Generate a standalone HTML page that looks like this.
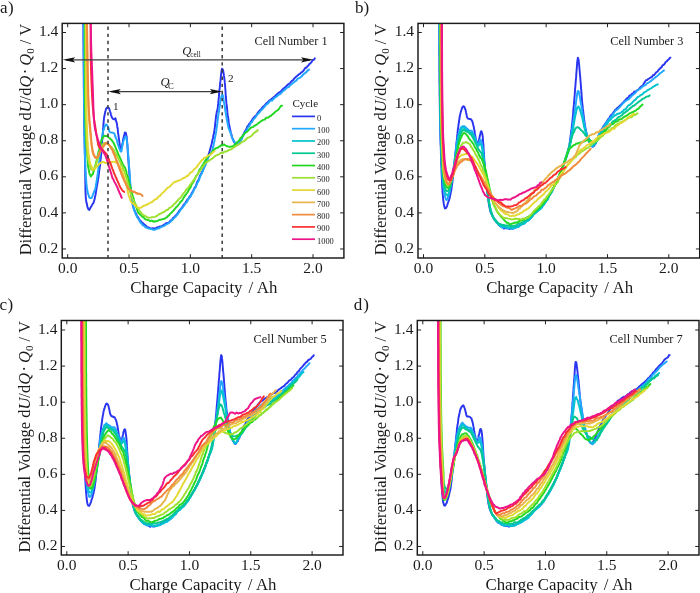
<!DOCTYPE html><html><head><meta charset="utf-8"><style>html,body{margin:0;padding:0;background:#fff;overflow:hidden}svg{display:block;position:absolute;left:0;top:0} #tx{filter:grayscale(1)} text{font-family:"Liberation Serif", serif;fill:#1a1a1a} .tl{font-size:15.5px} .al{font-size:16.5px} .cl{font-size:12.3px} .yl{font-size:16.5px} .pl{font-size:17px} .lg{font-size:8.4px} .lt{font-size:11px} .qq{font-size:12.5px} .nn{font-size:11.2px}</style></head><body>
<svg width="700" height="593" viewBox="0 0 700 593">
<rect width="700" height="593" fill="#fff"/>
<clipPath id="clipa"><rect x="62.2" y="23.0" width="281.7" height="235.0"/></clipPath>
<g clip-path="url(#clipa)" fill="none" stroke-width="1.95" stroke-linejoin="round" stroke-linecap="round">
<path d="M83.3,20.0 83.3,22.7 83.3,24.5 83.3,25.0 83.3,26.9 83.4,28.1 83.4,30.3 83.4,31.6 83.4,33.9 83.4,36.8 83.4,38.2 83.4,40.6 83.5,43.2 83.5,45.1 83.5,47.9 83.5,49.4 83.5,52.2 83.6,54.7 83.6,57.5 83.6,60.0 83.6,62.9 83.6,64.8 83.7,68.3 83.7,71.6 83.7,74.3 83.8,76.9 83.8,80.5 83.8,83.0 83.8,86.8 83.9,89.6 83.9,93.8 83.9,96.0 84.0,99.6 84.0,103.2 84.0,106.1 84.1,108.7 84.1,111.3 84.1,114.9 84.2,117.2 84.2,120.1 84.2,122.9 84.3,124.4 84.3,127.2 84.4,129.3 84.4,131.4 84.4,134.1 84.5,135.9 84.5,137.5 84.6,139.8 84.6,141.3 84.6,143.7 84.7,145.4 84.7,146.9 84.8,150.1 84.8,150.9 84.8,153.1 84.9,155.3 84.9,157.1 85.0,158.1 85.0,160.6 85.0,162.3 85.1,164.1 85.1,165.3 85.1,167.9 85.2,169.4 85.2,171.2 85.2,173.5 85.2,175.2 85.3,177.2 85.3,178.7 85.3,181.3 85.3,182.4 85.4,184.4 85.4,185.7 85.4,186.8 85.4,189.0 85.5,190.0 85.5,191.4 85.6,193.9 85.7,195.8 85.8,197.6 85.9,199.3 86.1,200.4 86.3,201.6 86.6,203.2 87.0,204.2 87.3,206.7 87.7,207.3 88.2,209.0 89.3,209.9 90.2,208.3 90.9,207.0 91.6,205.9 92.5,204.1 93.2,203.4 93.8,202.0 94.3,200.2 94.7,198.8 95.0,196.6 95.4,195.5 95.8,193.0 96.2,190.5 96.6,188.2 97.0,185.7 97.4,183.5 97.8,181.5 98.1,179.1 98.5,176.8 98.8,174.4 99.0,172.8 99.3,170.1 99.6,168.6 99.8,166.7 100.1,165.2 100.3,163.3 100.5,160.3 100.7,158.3 100.9,156.8 101.1,155.4 101.2,153.1 101.4,151.3 101.5,149.5 101.7,148.2 101.8,146.6 101.9,144.3 102.1,142.7 102.2,140.5 102.4,138.8 102.5,137.4 102.7,135.5 102.8,133.0 103.0,131.0 103.1,128.9 103.3,127.0 103.4,124.5 103.6,123.1 103.7,121.2 103.9,119.6 104.0,117.9 104.3,116.8 104.5,115.5 104.9,113.8 105.2,111.8 105.6,110.6 106.0,109.2 106.5,108.2 107.3,107.4 108.4,107.9 109.0,108.2 109.6,110.0 110.1,111.5 110.5,112.6 110.9,114.4 111.3,115.9 111.8,117.0 112.4,118.2 113.2,119.1 114.3,119.4 115.4,118.3 115.9,120.3 116.3,121.9 116.6,122.2 117.0,124.5 117.2,126.2 117.4,127.6 117.7,128.6 117.9,131.3 118.2,133.6 118.4,134.8 118.6,136.6 118.9,138.4 119.1,139.8 119.4,142.3 119.7,144.3 119.9,145.9 120.2,146.9 120.6,149.1 121.4,147.7 121.8,147.3 122.1,145.5 122.4,143.7 122.7,142.9 122.9,141.4 123.1,139.6 123.4,138.2 123.7,137.4 124.1,135.4 124.5,134.2 124.9,132.5 125.7,132.6 126.1,134.3 126.3,135.3 126.7,136.6 126.8,138.3 127.0,139.9 127.1,141.5 127.2,142.9 127.4,145.2 127.6,147.8 127.7,149.2 127.7,150.0 127.8,152.0 127.9,153.4 128.0,155.1 128.1,155.6 128.2,156.9 128.3,159.3 128.4,160.6 128.5,162.0 128.6,163.3 128.7,164.4 128.8,166.4 129.0,168.1 129.2,170.7 129.3,173.1 129.5,176.4 129.7,178.5 129.9,180.9 130.1,184.0 130.3,186.0 130.5,188.2 130.7,190.3 130.9,192.5 131.1,193.8 131.4,196.1 131.6,197.8 131.8,199.6 132.1,201.0 132.4,202.5 132.7,204.9 133.0,206.0 133.4,207.2 133.8,208.8 134.3,209.7 134.8,211.2 135.3,212.5 136.2,213.9 137.1,216.3 138.0,217.2 138.9,218.8 139.8,220.2 140.8,221.1 141.7,222.4 142.7,222.8 143.7,224.0 145.0,225.0 146.3,226.3 147.6,227.5 148.9,227.5 150.2,228.4 151.5,228.5 152.9,228.3 154.3,228.5 155.7,228.1 157.2,227.3 158.8,227.1 160.0,226.4 161.4,226.4 162.8,225.6 164.3,224.7 165.8,223.5 167.2,223.0 168.5,223.1 169.6,221.6 170.7,220.4 171.9,220.0 173.0,218.0 174.1,217.2 175.3,215.9 176.3,215.0 177.2,214.0 178.2,212.4 179.1,210.9 180.1,209.8 180.9,208.9 181.8,207.9 182.8,206.1 183.9,204.7 185.0,203.3 186.2,201.6 187.3,199.6 188.5,198.8 189.6,196.4 190.6,195.8 191.6,193.5 192.5,192.0 193.4,190.5 194.3,188.4 195.1,187.0 196.0,185.8 196.8,183.0 197.6,181.2 198.4,180.1 199.1,178.5 199.9,176.0 200.6,174.7 201.3,173.5 201.9,171.9 202.6,171.2 203.2,169.7 203.8,167.4 204.4,166.7 205.0,164.8 205.6,163.5 206.2,161.6 206.8,160.1 207.3,158.3 207.9,157.0 208.4,154.8 209.0,153.5 209.5,151.5 210.0,150.2 210.4,148.3 210.9,146.7 211.3,145.4 211.7,143.6 212.1,142.1 212.4,140.2 212.7,139.0 213.0,138.0 213.3,135.8 213.6,134.5 213.9,133.8 214.2,131.4 214.4,130.4 214.7,128.8 214.9,126.9 215.1,124.7 215.3,122.9 215.6,120.8 215.7,119.7 215.9,117.5 216.1,115.9 216.3,114.7 216.6,113.2 216.8,111.6 217.1,110.9 217.4,109.6 217.8,107.6 218.0,105.2 218.2,103.9 218.3,102.5 218.5,100.4 218.7,98.8 218.9,96.9 219.0,94.4 219.2,93.1 219.4,90.6 219.6,88.7 219.8,87.6 220.0,84.7 220.2,82.5 220.5,80.9 220.7,78.6 220.9,75.8 221.1,74.1 221.4,72.1 221.6,70.5 222.0,68.7 222.8,69.4 223.2,71.0 223.5,72.6 223.7,73.9 223.9,75.7 224.2,77.0 224.4,79.3 224.6,80.4 224.8,82.7 225.0,84.2 225.1,85.9 225.3,88.8 225.5,91.1 225.6,93.7 225.8,96.5 226.0,98.0 226.2,100.8 226.4,103.4 226.7,105.5 226.9,106.9 227.2,109.7 227.4,112.4 227.7,115.2 228.0,116.7 228.3,118.4 228.6,121.1 228.9,123.7 229.3,125.5 229.6,126.9 230.0,128.6 230.3,130.1 230.7,132.2 231.1,133.6 231.5,134.6 231.9,136.4 232.4,138.2 233.0,139.2 233.5,140.9 234.3,142.4 235.0,143.4 236.1,144.5 237.4,145.0 238.5,143.2 239.4,142.4 240.3,140.7 241.0,139.7 241.8,138.2 242.6,136.5 243.1,134.8 243.7,134.0 244.3,132.8 244.9,131.2 245.5,130.6 246.4,129.1 247.4,126.4 248.4,125.3 249.4,123.5 250.1,123.1 250.9,121.7 251.8,120.6 252.7,118.7 253.7,117.8 254.8,116.3 256.1,115.6 257.3,113.6 258.7,111.6 260.0,110.0 261.4,108.9 262.8,106.9 264.2,105.8 265.5,104.3 266.8,103.0 268.1,102.0 269.4,100.5 270.8,99.5 272.1,98.7 273.4,97.4 274.6,96.7 275.9,95.2 277.2,94.1 278.6,92.8 279.9,92.0 281.2,91.1 282.5,89.4 283.8,88.3 285.2,87.4 286.5,86.0 287.8,84.6 289.1,83.8 290.4,82.6 291.6,81.1 292.8,80.3 294.0,78.8 295.2,77.6 296.4,76.6 297.6,75.4 298.8,74.4 299.9,73.9 301.0,72.7 302.0,72.1 303.3,71.0 304.4,69.3 305.4,67.7 306.4,67.8 307.4,66.4 308.4,65.5 309.5,63.9 310.5,63.2 311.5,62.1 312.5,60.4 313.5,59.9 314.4,59.2 314.8,58.3" stroke="#2a35f0"/>
<path d="M83.8,20.0 83.8,22.1 83.8,25.2 83.8,27.5 83.8,31.5 83.8,35.7 83.8,39.0 83.8,43.0 83.8,47.8 83.8,52.0 83.8,57.0 83.9,61.7 83.9,66.7 83.9,71.2 83.9,75.4 83.9,80.2 83.9,84.4 83.9,88.7 84.0,92.8 84.0,96.1 84.0,100.1 84.0,103.0 84.1,106.4 84.1,109.0 84.1,112.1 84.1,114.9 84.2,117.7 84.2,120.9 84.2,123.0 84.3,126.1 84.3,127.8 84.4,130.5 84.4,132.4 84.4,135.2 84.5,136.9 84.5,139.3 84.6,142.0 84.6,143.5 84.7,145.8 84.7,148.7 84.8,150.6 84.9,152.4 84.9,153.9 85.0,155.8 85.0,158.0 85.1,159.5 85.2,161.9 85.2,162.8 85.3,164.9 85.4,166.1 85.4,168.2 85.5,170.0 85.6,170.9 85.7,173.2 85.8,174.2 85.8,175.8 85.9,177.1 86.0,178.0 86.2,180.3 86.4,183.4 86.6,185.1 86.9,187.7 87.1,188.4 87.3,190.3 87.6,191.7 88.0,193.7 88.4,194.6 88.8,195.7 89.3,197.6 90.3,198.1 91.5,198.1 92.3,196.4 92.9,194.8 93.4,193.1 93.9,192.6 94.4,190.8 94.9,189.5 95.3,188.2 95.7,186.7 96.0,184.5 96.3,182.9 96.5,181.8 96.7,180.8 97.0,178.8 97.3,177.3 97.5,174.8 97.8,173.8 98.0,170.6 98.3,169.8 98.6,166.7 98.8,164.5 99.1,162.6 99.3,160.9 99.4,159.2 99.5,158.4 99.7,156.8 99.8,155.2 100.0,154.2 100.1,153.2 100.4,150.4 100.6,148.1 100.9,145.8 101.1,143.6 101.3,142.5 101.5,141.0 101.7,139.1 101.9,138.7 102.2,136.0 102.5,135.1 102.8,133.1 103.1,131.0 103.5,130.0 104.0,129.0 104.4,127.2 105.1,125.6 105.8,124.5 106.9,124.9 107.5,126.1 108.1,127.0 108.6,128.3 109.0,130.4 109.5,131.6 110.2,132.3 111.3,132.5 112.7,132.7 113.9,133.1 114.7,134.2 115.3,136.7 115.8,137.2 116.2,138.8 116.6,139.3 117.2,141.8 117.7,143.8 118.2,145.4 118.8,146.7 119.2,148.2 119.7,149.5 120.3,151.0 121.2,151.6 121.7,150.3 121.9,148.5 122.2,146.7 122.5,144.8 122.8,144.2 123.2,141.9 123.6,140.7 124.0,139.5 124.5,138.3 125.2,136.8 126.1,136.9 126.5,138.1 126.7,139.5 126.9,141.3 127.1,142.6 127.3,144.5 127.5,146.5 127.7,148.8 127.9,150.7 128.1,153.6 128.3,156.0 128.4,157.9 128.5,159.2 128.7,160.8 128.9,163.9 129.1,166.0 129.3,169.2 129.5,171.1 129.7,173.5 129.8,175.4 129.8,176.5 129.9,177.9 130.0,178.6 130.2,181.7 130.4,184.4 130.6,187.7 130.9,188.6 131.1,191.1 131.4,193.3 131.6,195.5 131.9,197.4 132.2,199.4 132.4,201.4 132.7,203.1 133.1,205.0 133.4,205.9 133.8,208.8 134.2,209.8 134.6,211.3 135.1,212.3 135.6,214.0 136.4,215.5 137.2,217.3 138.0,218.5 138.9,219.8 139.8,221.6 140.7,222.8 141.7,223.8 142.7,225.3 143.7,225.6 145.0,226.8 146.3,227.6 147.6,228.1 148.9,228.6 150.2,228.7 151.5,229.1 152.9,229.7 154.3,229.8 155.7,229.3 157.2,228.7 158.8,228.3 160.0,227.7 161.4,226.9 162.8,226.4 164.3,225.8 165.8,224.7 167.2,224.0 168.5,223.3 169.6,222.5 171.0,221.3 172.2,220.0 173.3,219.0 174.4,217.8 175.6,216.8 176.5,215.5 177.5,214.5 178.5,213.2 179.4,211.8 180.5,209.9 181.4,208.8 182.3,208.0 183.4,206.4 184.5,205.1 185.6,202.9 186.8,202.3 187.9,199.8 189.0,197.8 190.1,197.2 191.1,195.3 192.0,193.8 193.0,192.3 193.8,190.0 194.7,188.2 195.6,187.6 196.4,185.3 197.2,183.4 198.0,181.9 198.8,180.6 199.5,178.4 200.2,176.7 201.0,174.7 201.7,173.9 202.3,172.1 203.0,170.5 203.6,168.9 204.2,167.8 204.8,165.9 205.4,165.4 205.9,163.8 206.6,161.9 207.2,160.1 207.7,159.3 208.2,157.5 208.9,156.3 209.5,154.7 210.3,154.2 211.2,153.2 211.9,151.2 212.4,150.7 212.7,148.6 213.1,146.8 213.5,145.9 213.9,143.1 214.3,142.0 214.6,139.9 215.0,137.5 215.4,135.5 215.8,133.7 216.1,132.1 216.4,129.9 216.7,127.5 217.0,125.7 217.3,123.7 217.5,121.4 217.8,119.4 218.1,116.8 218.3,114.5 218.6,113.3 218.9,111.7 219.2,110.1 219.5,107.4 219.9,105.0 220.2,102.6 220.5,100.3 220.9,98.5 221.2,97.4 221.5,96.2 222.0,94.9 222.7,94.9 223.1,96.5 223.4,98.1 223.6,99.7 223.8,101.6 224.1,103.0 224.4,104.8 224.7,106.1 225.0,108.1 225.3,110.6 225.7,112.5 226.0,114.5 226.4,116.9 226.8,119.3 227.2,121.2 227.6,123.4 228.0,125.6 228.4,127.3 228.8,128.7 229.3,129.4 229.8,131.5 230.3,132.0 230.7,133.4 231.2,134.8 231.9,137.3 232.6,138.6 233.2,140.5 234.0,140.7 234.7,142.3 235.8,143.6 237.0,143.9 238.3,142.9 239.2,142.8 240.1,141.0 241.0,140.2 241.8,138.8 242.6,136.7 243.4,135.3 244.3,133.7 245.2,132.6 246.1,131.0 247.1,129.4 248.0,127.4 249.0,126.4 250.1,124.6 250.9,122.7 251.8,122.1 252.7,120.7 253.7,118.9 254.8,118.2 256.1,116.3 257.3,114.5 258.7,113.3 260.0,111.6 261.4,109.9 262.8,108.8 264.2,107.0 265.5,105.5 266.8,104.1 268.1,103.6 269.4,101.5 270.8,100.4 272.1,100.7 273.4,99.0 274.6,97.8 275.9,97.0 277.2,96.1 278.6,94.5 279.9,94.2 281.2,93.0 282.5,91.6 283.9,90.4 285.3,89.4 286.6,87.9 287.9,87.3 289.2,86.6 290.5,84.8 291.6,84.3 292.8,83.0 293.8,82.5 294.8,81.5 296.3,80.6 297.7,78.6 299.0,78.3 300.2,77.5 301.5,76.5 302.8,75.0 304.1,73.6 305.4,73.0 306.6,71.8 307.6,70.2 308.7,70.4 308.9,69.5" stroke="#22a8ff"/>
<path d="M84.8,20.0 84.8,22.5 84.8,24.6 84.8,28.1 84.8,31.7 84.8,35.8 84.8,39.6 84.8,44.1 84.8,48.1 84.8,52.7 84.8,56.8 84.8,62.1 84.9,67.4 84.9,71.7 84.9,76.4 84.9,81.1 84.9,85.0 84.9,89.5 84.9,93.2 85.0,97.2 85.0,100.1 85.0,102.8 85.1,105.3 85.1,108.9 85.2,111.3 85.2,113.8 85.2,116.1 85.3,117.7 85.3,120.2 85.4,122.6 85.5,124.0 85.5,126.3 85.6,128.8 85.6,130.0 85.7,131.2 85.7,132.7 85.8,134.4 85.8,135.8 85.9,137.4 86.0,138.6 86.0,140.6 86.1,143.1 86.2,144.3 86.3,146.0 86.6,146.8 86.8,149.7 87.0,150.6 87.1,152.1 87.2,154.6 87.3,155.6 87.4,157.6 87.6,159.4 87.7,161.3 87.8,163.1 88.0,165.4 88.1,166.7 88.4,167.8 88.6,169.3 88.9,170.5 89.2,172.5 89.7,174.2 90.3,175.2 91.0,176.5 92.1,174.6 92.8,174.3 93.4,171.9 93.9,171.0 94.4,169.1 94.9,167.1 95.3,166.2 95.6,164.8 96.0,162.8 96.4,161.2 96.8,159.4 97.2,157.0 97.6,156.2 98.0,153.8 98.4,153.1 98.7,151.0 99.1,150.0 99.4,148.3 99.8,147.2 100.1,146.1 100.6,144.5 101.1,141.6 101.5,140.7 102.0,139.4 102.5,137.7 103.2,137.2 104.3,135.7 105.6,136.1 107.0,136.0 108.1,136.9 109.4,138.1 110.6,139.0 111.7,140.0 112.6,141.6 113.4,142.5 114.1,144.1 114.6,145.3 115.2,146.5 115.8,148.2 116.4,149.7 117.1,151.0 117.8,152.8 118.3,154.2 118.9,155.5 119.4,156.5 120.0,157.9 120.7,159.4 121.5,161.3 122.1,162.7 122.9,164.5 123.7,165.7 124.4,166.9 125.1,167.9 125.7,169.6 126.3,171.2 126.6,173.5 127.0,174.9 127.4,175.9 127.8,176.8 128.2,178.6 128.5,179.5 128.9,181.8 129.3,183.2 129.7,184.7 130.0,186.1 130.4,187.2 130.7,188.3 131.1,190.0 131.4,191.7 131.8,192.1 132.2,194.1 132.6,195.9 133.1,197.2 133.6,198.6 134.1,201.1 134.6,202.2 135.1,204.0 135.7,205.3 136.3,207.3 136.9,209.0 137.6,211.2 138.4,212.7 139.2,213.5 140.1,214.5 141.1,215.4 142.2,216.6 143.3,217.2 144.5,218.4 145.7,219.4 146.9,219.8 148.7,220.1 150.3,221.2 151.9,220.6 153.5,221.7 155.0,221.3 156.5,221.3 158.0,220.6 159.3,219.8 160.6,219.9 162.1,219.2 163.5,219.1 164.8,218.5 166.0,217.8 167.3,216.9 168.3,215.6 169.3,215.1 170.3,213.5 171.4,212.8 172.4,211.6 173.4,210.8 174.4,209.4 175.4,208.3 176.4,206.8 177.4,206.3 178.5,204.7 179.5,203.5 180.5,201.8 181.5,201.2 182.5,199.7 183.5,197.9 184.5,196.4 185.5,194.9 186.5,193.8 187.5,192.3 188.2,191.0 188.9,189.8 189.6,188.1 190.3,187.9 190.9,186.3 191.6,184.6 192.3,183.3 193.0,182.4 193.7,181.5 194.3,180.2 195.0,178.5 195.7,176.9 196.3,175.7 197.0,175.2 197.7,174.2 198.4,172.7 199.0,171.2 199.7,169.3 200.4,169.1 201.0,168.0 201.7,166.4 202.4,165.4 203.1,164.5 203.8,163.0 204.5,162.0 205.6,160.4 206.6,158.5 207.5,157.4 208.4,156.0 209.2,155.4 210.1,154.2 211.1,153.1 212.1,152.1 213.1,150.8 214.3,149.4 215.4,148.6 216.5,147.9 217.8,147.7 218.9,146.6 220.2,146.2 221.4,145.0 222.8,145.2 224.1,144.4 225.6,145.5 227.1,146.3 228.6,146.6 230.1,146.9 231.5,146.5 232.8,146.4 234.0,145.2 235.2,144.2 236.1,143.5 237.1,142.2 238.3,141.2 239.5,140.0 240.7,137.6 241.6,137.3 242.5,136.1 243.4,135.3 244.3,133.8 245.6,132.6 246.9,131.9 248.2,130.6 249.5,129.1 250.8,127.8 252.0,127.2 253.3,126.9 254.4,125.8 255.7,125.1 256.8,124.6 257.9,123.6 259.2,122.6 260.3,121.8 261.6,120.8 263.2,119.9 264.8,119.6 266.0,117.8 267.2,117.8 268.4,117.6 269.6,116.4 270.7,116.0 271.8,114.9 272.9,114.0 274.1,113.1 275.2,111.8 276.4,111.0 277.6,110.2 278.7,109.2 279.7,107.8 281.0,105.7 282.0,105.7" stroke="#22d822"/>
<path d="M85.5,20.0 85.5,21.9 85.5,25.0 85.5,28.4 85.5,32.1 85.5,35.2 85.5,39.3 85.6,43.4 85.6,47.7 85.6,52.5 85.6,56.9 85.6,62.3 85.6,66.8 85.6,72.0 85.6,76.1 85.7,80.3 85.7,85.3 85.7,89.1 85.7,92.8 85.8,96.9 85.8,99.7 85.8,103.3 85.9,106.2 85.9,109.4 85.9,111.1 86.0,114.3 86.0,116.8 86.1,119.7 86.1,122.0 86.2,124.6 86.2,126.7 86.3,128.6 86.3,131.1 86.4,133.8 86.4,134.4 86.5,136.9 86.5,138.2 86.6,140.0 86.7,142.1 86.7,143.3 86.8,145.0 86.9,146.4 86.9,148.0 87.1,149.9 87.2,152.1 87.4,153.4 87.6,155.1 87.9,156.6 88.1,158.3 88.4,159.7 88.7,161.3 89.0,162.6 89.2,163.8 89.6,165.2 90.1,166.9 90.6,168.4 91.4,169.4 92.5,170.1 93.6,170.1 94.3,168.2 94.9,166.9 95.4,166.1 96.0,163.9 96.6,162.5 97.0,160.7 97.5,159.7 97.9,158.9 98.4,156.6 98.8,155.2 99.3,154.0 99.8,152.2 100.2,151.0 100.7,149.5 101.1,148.6 101.5,147.0 102.1,145.6 102.9,144.3 103.9,143.3 105.2,143.1 106.5,143.4 107.8,143.7 109.0,144.7 110.2,146.4 111.2,146.6 112.2,148.2 113.2,149.3 114.0,150.3 114.8,152.4 115.6,152.7 116.4,155.1 117.2,156.0 118.0,157.6 118.6,159.1 119.2,160.4 119.8,161.4 120.4,162.8 121.0,165.0 121.6,164.8 122.2,166.3 122.8,168.2 123.4,169.4 124.0,170.7 124.6,171.3 125.2,173.8 125.6,175.0 126.0,176.4 126.4,178.1 126.8,179.6 127.2,181.3 127.6,182.5 128.0,183.9 128.4,186.0 128.8,187.5 129.2,188.8 129.6,190.6 129.9,191.5 130.5,193.0 131.1,194.5 131.6,196.4 132.3,198.5 133.0,200.1 133.8,200.8 134.7,203.4 135.7,204.2 136.7,206.5 137.7,208.2 138.6,209.4 139.5,210.6 140.2,211.7 141.1,212.6 142.0,214.1 142.9,214.8 144.0,215.5 145.2,216.0 146.6,216.8 148.0,217.7 149.4,217.6 150.8,217.6 152.1,217.1 153.7,217.1 155.0,216.9 156.3,216.2 157.9,215.4 159.2,214.0 160.7,213.6 162.2,212.7 163.7,212.2 165.1,211.0 166.6,210.0 167.9,209.7 169.1,208.2 170.3,207.6 171.5,206.8 172.7,205.7 173.9,204.2 175.1,203.4 176.3,202.0 177.5,200.8 178.7,199.2 180.0,198.2 181.2,196.8 182.4,195.0 183.6,193.2 184.4,192.3 185.3,191.1 186.1,189.8 186.9,189.1 187.8,188.2 188.6,187.2 189.4,186.0 190.2,184.6 190.9,183.9 192.0,182.4 193.1,180.7 194.1,179.7 195.1,178.1 196.0,177.0 197.0,174.8 198.0,173.6 199.0,171.7 200.0,170.9 201.1,169.2 202.1,167.2 203.1,166.6 204.1,164.5 205.1,163.7 206.1,162.5 207.4,161.7 208.7,160.9 210.0,160.0 211.1,159.2 212.3,158.7 213.5,157.4 214.7,156.4 216.0,155.5 217.4,154.8 218.7,154.6 220.0,153.4 221.3,152.7 222.6,153.2 223.9,152.1 225.3,151.4 226.6,151.4 228.0,150.6 229.5,149.6 231.0,149.5 232.6,148.3 234.2,147.1 235.8,146.2 237.5,144.8 239.1,144.2 240.7,143.2 241.8,141.9 242.9,141.6 244.0,141.2 245.1,140.1 246.2,139.4 247.3,137.9 248.8,137.3 250.2,136.7 251.6,135.7 252.9,134.3 254.2,132.7 255.3,132.3 256.3,131.3 257.4,131.0 257.6,130.0" stroke="#9ee030"/>
<path d="M86.0,20.0 86.0,22.3 86.0,24.9 86.0,27.8 86.0,31.6 86.0,35.3 86.0,39.6 86.0,43.6 86.1,48.3 86.1,52.4 86.1,57.7 86.1,62.6 86.1,66.7 86.1,71.9 86.1,77.0 86.2,80.6 86.2,84.5 86.2,89.0 86.2,93.1 86.3,97.1 86.3,99.6 86.3,102.8 86.4,105.5 86.4,108.2 86.5,110.9 86.5,113.5 86.6,116.0 86.6,117.6 86.7,119.9 86.7,121.8 86.8,123.8 86.9,125.7 86.9,127.4 87.0,129.5 87.1,130.8 87.1,132.2 87.2,133.8 87.3,135.2 87.3,137.5 87.4,138.8 87.5,139.6 87.6,141.5 87.7,143.2 87.8,144.3 87.9,146.9 88.1,148.7 88.3,151.2 88.5,153.1 88.7,154.6 88.9,156.6 89.2,157.6 89.4,159.2 89.6,160.9 90.0,162.5 90.3,163.8 90.8,165.1 91.5,166.6 92.1,168.0 92.9,169.5 94.2,169.4 95.3,168.4 96.2,167.3 97.1,166.1 98.0,165.4 98.9,164.2 99.9,163.3 101.0,162.7 102.3,162.1 103.8,162.0 105.0,163.0 106.3,162.9 107.6,163.0 108.9,163.1 110.2,162.3 111.6,162.0 113.1,161.9 114.5,161.8 115.8,162.2 117.0,163.2 118.1,164.0 119.1,166.5 119.9,166.6 120.6,167.7 121.3,169.0 121.9,171.2 122.5,172.4 123.0,173.4 123.6,175.6 124.2,177.4 124.7,179.8 125.1,180.7 125.5,182.0 125.9,183.6 126.3,185.1 126.7,186.7 127.0,187.8 127.4,189.2 127.8,191.8 128.2,193.0 128.6,195.2 128.9,196.1 129.5,197.7 130.0,198.8 130.5,200.7 131.3,201.9 132.2,203.0 133.3,203.8 134.6,204.9 135.7,206.1 136.9,206.6 138.2,207.8 139.4,208.3 140.0,207.8 141.3,207.6 142.6,206.6 144.1,205.5 145.6,205.3 147.0,204.6 148.4,203.6 149.8,203.4 151.1,202.2 152.5,201.8 153.8,200.5 155.2,199.2 156.5,199.1 157.9,197.5 158.9,196.2 159.9,196.1 160.9,194.7 161.9,193.6 162.9,192.6 163.9,191.8 165.0,190.6 166.0,189.7 167.0,188.1 168.0,187.6 169.0,187.2 170.0,186.5 171.4,184.8 172.7,183.6 174.0,182.3 175.4,181.7 176.8,181.3 178.1,180.6 179.5,180.3 180.8,179.8 182.2,178.9 183.5,178.0 184.9,177.7 186.2,176.3 187.5,176.0 188.9,174.7 189.9,173.4 190.9,172.2 192.0,171.9 193.0,170.8 194.0,169.2 195.0,168.5 196.0,167.7 197.0,166.7 198.0,164.7 199.0,164.0 200.0,162.5 201.0,161.2 202.1,159.8 203.1,159.5 204.4,157.6 205.8,157.4 207.2,156.2 208.2,155.4 209.4,155.1 210.6,154.4 211.8,153.4 212.9,152.3 214.1,151.5 214.5,151.3" stroke="#e4d832"/>
<path d="M86.7,20.0 86.7,21.5 86.8,23.6 86.8,26.0 86.8,28.6 86.9,31.7 86.9,34.8 86.9,37.5 87.0,41.1 87.0,44.5 87.1,48.0 87.1,52.0 87.2,55.4 87.2,58.8 87.3,62.9 87.3,66.0 87.4,69.6 87.4,71.3 87.5,74.5 87.5,77.6 87.6,79.9 87.6,82.5 87.7,84.6 87.7,86.5 87.8,88.4 87.8,90.0 87.8,91.8 87.9,93.5 87.9,94.6 88.0,96.0 88.0,97.7 88.1,98.6 88.1,100.6 88.2,103.0 88.3,106.0 88.4,107.7 88.5,110.0 88.6,111.4 88.7,114.1 88.8,115.2 88.9,116.9 89.0,118.7 89.1,120.4 89.3,121.8 89.4,123.5 89.6,125.3 89.8,127.3 90.0,129.7 90.1,130.8 90.2,131.9 90.3,134.1 90.5,134.8 90.6,136.4 90.7,137.9 90.9,139.8 91.0,141.3 91.1,142.0 91.3,143.4 91.6,146.0 91.9,148.3 92.2,150.0 92.5,151.6 92.9,153.2 93.4,154.7 94.0,155.9 94.8,157.0 96.0,157.8 97.2,157.6 98.0,155.8 98.6,154.6 99.2,153.1 99.8,152.0 100.6,150.9 101.5,149.5 102.3,147.8 103.1,146.3 104.0,145.4 104.8,144.5 105.7,143.4 107.0,143.5 108.1,144.3 109.1,145.0 110.1,146.4 110.9,147.7 111.6,148.4 112.4,150.0 113.0,151.6 113.5,152.9 114.1,153.8 114.7,155.3 115.2,157.3 115.8,158.6 116.4,160.5 117.0,161.4 117.5,163.0 118.1,164.3 118.7,166.0 119.2,167.7 119.8,169.1 120.4,170.9 120.9,171.8 121.5,173.5 122.1,175.6 122.7,176.1 123.2,177.9 123.8,178.5 124.4,180.3 124.9,181.8 125.5,182.6 126.2,184.5 127.0,185.9 127.7,186.9 128.5,188.9 129.3,189.2 130.5,190.4 131.9,191.0 133.2,192.0 134.6,191.8 135.9,192.7 137.1,193.9 138.0,194.0" stroke="#e8b44c"/>
<path d="M87.0,20.0 87.0,21.3 87.1,23.9 87.1,26.4 87.1,28.4 87.2,31.3 87.2,34.4 87.3,38.0 87.3,41.3 87.4,45.0 87.4,48.1 87.5,51.9 87.5,55.6 87.6,59.2 87.7,61.9 87.7,65.7 87.8,68.5 87.8,72.3 87.9,74.3 87.9,77.4 88.0,80.5 88.0,81.9 88.1,83.6 88.1,86.8 88.2,88.0 88.2,90.4 88.3,92.0 88.3,93.2 88.3,95.1 88.4,96.7 88.4,97.7 88.5,99.0 88.5,100.3 88.6,102.7 88.7,105.6 88.8,108.0 88.9,109.5 89.0,111.8 89.1,113.5 89.2,115.0 89.3,116.3 89.4,117.9 89.5,120.6 89.7,121.5 89.8,123.3 90.0,125.5 90.2,126.8 90.4,129.6 90.5,131.5 90.6,131.9 90.7,133.7 90.9,135.3 91.0,136.1 91.1,137.5 91.3,139.8 91.4,141.0 91.5,142.8 91.7,143.9 91.8,144.9 92.1,147.0 92.4,149.1 92.8,150.9 93.1,152.6 93.5,153.7 94.0,155.1 94.6,156.0 95.4,157.8 96.6,158.0 97.5,157.3 98.3,156.1 98.9,154.5 99.4,153.4 100.0,151.3 100.8,150.9 101.6,149.2 102.4,148.0 103.1,146.9 104.0,145.5 104.8,144.4 105.6,143.0 106.8,142.8 107.9,143.8 108.9,144.9 109.7,145.8 110.5,146.9 111.2,148.3 112.0,149.4 112.6,150.5 113.1,152.1 113.7,153.2 114.3,154.8 114.9,155.5 115.4,157.7 116.0,159.0 116.6,160.6 117.1,162.2 117.7,163.7 118.3,165.3 118.9,166.9 119.4,168.3 120.0,170.2 120.6,171.3 121.1,173.0 121.7,174.6 122.3,175.7 122.8,177.5 123.4,178.7 124.0,179.9 124.6,181.6 125.1,182.2 125.9,183.7 126.6,185.3 127.3,187.0 128.1,188.3 128.9,189.1 130.0,190.0 131.2,190.8 132.5,191.4 133.8,191.9 135.3,192.6 136.7,193.0 138.1,193.6 139.4,193.7 140.7,194.4 141.8,194.9 142.5,196.0" stroke="#f08a3c"/>
<path d="M90.6,20.0 90.6,22.6 90.6,24.4 90.6,25.3 90.6,27.3 90.6,29.3 90.6,31.9 90.6,33.8 90.6,35.3 90.6,37.6 90.6,40.5 90.6,43.1 90.6,45.1 90.7,47.0 90.7,49.2 90.7,51.4 90.7,53.6 90.7,56.1 90.8,57.7 90.8,59.5 90.8,62.2 90.9,63.6 90.9,65.4 91.0,68.1 91.0,69.5 91.1,72.1 91.1,73.6 91.2,74.6 91.3,76.4 91.3,79.3 91.4,80.7 91.5,82.5 91.5,84.2 91.6,85.4 91.7,87.3 91.8,89.2 91.8,90.3 91.9,91.7 92.0,94.2 92.0,95.2 92.1,96.5 92.2,97.3 92.3,100.5 92.5,102.2 92.6,104.9 92.8,106.7 92.9,108.6 93.1,110.1 93.2,111.8 93.4,113.3 93.5,114.7 93.6,116.1 93.9,118.4 94.1,119.7 94.3,120.5 94.6,122.3 94.8,123.7 95.1,125.0 95.4,127.4 95.6,128.3 95.8,130.1 96.0,131.4 96.2,132.8 96.4,134.4 96.7,136.4 97.0,137.9 97.3,139.3 97.5,141.3 97.8,141.9 98.0,144.2 98.4,145.3 98.9,146.6 99.7,147.7 100.7,149.2 101.9,149.7 102.9,149.8 104.0,151.5 105.2,152.5 106.1,153.6 106.9,154.5 107.6,156.7 108.2,158.2 108.8,159.1 109.3,161.1 109.9,162.1 110.5,163.4 111.1,165.1 111.6,166.5 112.2,168.3 112.8,169.8 113.3,170.8 113.9,173.0 114.5,174.1 115.0,174.9 115.6,177.0 116.2,177.6 116.8,179.7 117.3,180.4 117.9,182.0 118.5,183.0 119.1,184.6 119.7,186.0 120.3,187.2 121.0,188.3 121.7,189.5 122.6,190.8 123.7,191.3 124.2,192.0" stroke="#fa3030"/>
<path d="M90.7,20.0 90.7,22.0 90.8,24.1 90.8,25.6 90.8,26.6 90.8,28.2 90.9,29.6 90.9,31.8 90.9,33.2 91.0,35.8 91.0,36.7 91.0,37.9 91.1,40.7 91.1,42.0 91.1,43.5 91.2,45.3 91.2,47.0 91.3,48.8 91.3,49.7 91.3,51.9 91.4,53.3 91.5,54.5 91.5,56.4 91.6,57.6 91.6,59.6 91.7,60.8 91.8,62.1 91.8,63.9 91.9,65.7 92.0,67.1 92.0,68.5 92.1,70.4 92.2,71.5 92.2,73.0 92.3,74.1 92.3,76.2 92.4,77.6 92.4,79.2 92.5,80.5 92.5,81.5 92.6,83.5 92.7,85.7 92.8,88.5 92.9,90.8 92.9,93.3 93.0,95.3 93.1,97.6 93.2,99.8 93.3,102.0 93.3,104.3 93.4,106.6 93.5,108.9 93.6,110.9 93.7,114.0 93.8,115.6 93.9,117.6 94.0,120.1 94.2,121.9 94.4,124.2 94.6,126.3 94.9,127.2 95.1,129.2 95.4,131.0 95.8,132.0 96.1,132.8 96.5,135.1 97.0,136.2 97.5,138.3 98.1,140.2 98.6,141.6 99.2,142.7 99.8,145.2 100.3,146.4 100.9,147.7 101.5,149.1 102.3,150.8 103.0,151.4 103.8,153.1 104.5,153.8 105.3,155.4 105.9,157.0 106.4,158.3 107.0,160.2 107.5,161.7 108.1,163.2 108.6,165.9 109.2,167.3 109.8,169.3 110.3,170.9 110.9,172.6 111.5,174.5 112.0,176.2 112.6,178.5 113.2,178.8 113.8,180.4 114.5,182.0 115.3,183.2 116.0,184.6 116.6,185.9 117.2,186.9 117.8,188.7 118.4,190.0 119.1,191.6 119.6,193.1 120.3,194.1 120.8,195.7 121.3,197.0 121.7,197.8" stroke="#ec1488"/>
</g>
<path d="M62.2,248.98h3.8M343.9,248.98h-3.8M62.2,212.90h3.8M343.9,212.90h-3.8M62.2,176.82h3.8M343.9,176.82h-3.8M62.2,140.74h3.8M343.9,140.74h-3.8M62.2,104.66h3.8M343.9,104.66h-3.8M62.2,68.58h3.8M343.9,68.58h-3.8M62.2,32.50h3.8M343.9,32.50h-3.8M67.70,258.0v-3.8M67.70,23.4v3.8M129.03,258.0v-3.8M129.03,23.4v3.8M190.35,258.0v-3.8M190.35,23.4v3.8M251.68,258.0v-3.8M251.68,23.4v3.8M313.00,258.0v-3.8M313.00,23.4v3.8" stroke="#222" stroke-width="1.0" fill="none"/>
<rect x="62.2" y="23.4" width="281.7" height="234.6" fill="none" stroke="#1a1a1a" stroke-width="1.45"/>
<clipPath id="clipb"><rect x="418.0" y="23.0" width="281.7" height="235.0"/></clipPath>
<g clip-path="url(#clipb)" fill="none" stroke-width="1.95" stroke-linejoin="round" stroke-linecap="round">
<path d="M439.2,20.0 439.2,22.1 439.2,23.2 439.2,25.7 439.2,28.7 439.2,31.6 439.3,33.9 439.3,37.2 439.3,40.2 439.3,43.4 439.3,46.6 439.3,51.1 439.3,53.5 439.4,56.9 439.4,61.5 439.4,64.3 439.4,67.7 439.4,71.1 439.5,74.3 439.5,76.6 439.5,79.7 439.5,82.5 439.6,85.6 439.6,87.7 439.6,90.9 439.6,94.3 439.7,96.3 439.7,99.0 439.8,102.6 439.8,104.6 439.8,107.2 439.9,110.6 439.9,112.6 439.9,115.4 440.0,118.2 440.0,120.0 440.1,121.3 440.1,124.5 440.1,126.2 440.2,128.4 440.2,129.7 440.2,132.2 440.3,132.8 440.3,134.7 440.4,137.5 440.4,138.7 440.5,141.2 440.6,143.7 440.6,145.0 440.7,145.6 440.8,147.4 440.8,149.2 440.9,151.0 440.9,153.2 441.0,155.1 441.1,156.7 441.1,159.1 441.2,160.7 441.2,163.1 441.3,165.5 441.4,167.2 441.5,168.7 441.5,170.8 441.6,173.0 441.7,175.2 441.8,177.3 441.9,179.2 442.0,181.3 442.1,183.8 442.2,185.2 442.3,187.9 442.4,188.8 442.5,190.7 442.6,192.5 442.7,193.6 442.8,195.0 443.0,197.4 443.1,198.8 443.3,200.2 443.4,201.5 443.6,202.4 443.8,203.9 444.1,205.2 444.4,206.8 444.9,208.4 445.9,208.3 446.7,206.8 447.2,205.6 447.8,203.4 448.3,202.2 448.8,200.9 449.2,199.3 449.6,198.4 449.9,196.5 450.3,194.9 450.6,193.4 450.9,191.9 451.3,190.2 451.5,189.1 451.7,187.1 452.0,184.8 452.3,183.2 452.6,179.8 452.8,178.5 452.9,177.1 453.1,175.3 453.3,173.9 453.5,172.2 453.6,170.2 453.8,169.2 454.0,167.9 454.1,166.0 454.3,164.9 454.5,162.5 454.6,160.7 454.8,160.0 454.9,158.1 455.1,157.2 455.3,154.5 455.5,152.1 455.8,150.3 455.9,148.3 456.1,146.8 456.3,145.3 456.4,143.2 456.6,141.1 456.8,140.4 456.9,138.9 457.1,138.1 457.2,135.8 457.4,133.9 457.5,133.4 457.7,131.1 457.9,129.1 458.2,127.3 458.4,125.8 458.7,123.7 458.9,122.3 459.1,120.7 459.3,119.5 459.6,117.5 459.9,115.5 460.3,114.0 460.6,112.6 461.0,111.2 461.5,109.7 461.9,108.3 462.6,107.0 463.4,106.2 464.4,106.9 464.9,108.5 465.4,109.6 465.8,111.1 466.1,112.7 466.4,114.0 466.8,115.9 467.2,117.5 468.0,118.6 469.2,118.9 470.4,118.9 471.5,120.0 472.2,121.1 472.7,122.6 473.1,124.3 473.4,125.4 473.8,127.0 474.1,129.0 474.4,130.0 474.6,131.4 474.8,133.4 475.1,134.6 475.3,136.3 475.6,137.6 475.9,139.0 476.3,140.3 476.7,141.3 477.2,142.8 478.0,144.2 478.6,143.0 478.9,140.9 479.2,139.5 479.4,137.8 479.8,136.1 480.1,134.7 480.5,133.5 480.8,131.6 481.5,131.2 482.0,133.2 482.3,134.0 482.5,135.0 482.8,137.4 482.9,139.3 483.1,141.3 483.2,143.5 483.4,144.7 483.5,146.9 483.6,148.7 483.8,151.8 483.9,153.7 484.1,155.5 484.2,158.5 484.4,160.8 484.6,163.1 484.8,165.6 485.1,168.1 485.2,170.1 485.3,171.4 485.4,172.2 485.6,173.5 485.7,175.1 485.8,176.6 486.0,177.7 486.1,179.1 486.4,181.6 486.6,183.7 486.9,185.5 487.1,188.6 487.4,190.7 487.6,193.1 487.8,195.3 488.0,197.4 488.3,199.7 488.5,201.6 488.8,203.5 489.0,205.2 489.3,206.6 489.7,208.3 490.0,210.0 490.5,211.8 491.1,213.5 491.7,214.2 492.3,215.2 493.1,216.8 493.9,218.1 494.8,220.0 495.8,220.7 496.8,222.3 497.9,223.6 499.0,225.1 500.1,226.1 501.4,226.5 502.7,227.2 504.0,228.6 505.3,227.9 506.7,228.4 508.2,228.1 509.6,229.0 511.1,228.4 512.7,228.6 514.0,228.0 515.5,227.4 517.2,226.7 518.4,226.1 519.7,225.1 520.9,224.2 522.2,223.7 523.5,223.1 524.7,222.5 525.8,221.6 527.4,220.3 528.8,219.8 530.0,218.5 531.1,217.2 532.3,216.5 533.4,214.2 534.6,213.4 535.8,212.1 537.1,211.1 538.4,210.0 539.7,208.2 541.0,207.1 541.9,206.5 542.8,205.4 543.7,204.4 544.7,203.1 545.7,201.3 546.7,199.8 547.8,198.1 548.9,196.3 549.9,194.5 551.0,192.6 552.0,190.9 552.9,189.3 553.8,187.5 554.6,185.8 555.4,183.7 556.1,182.6 556.8,180.6 557.5,179.3 558.2,177.9 558.8,176.3 559.4,175.6 560.0,173.5 560.6,172.0 561.2,170.6 561.7,169.3 562.3,168.0 562.8,166.6 563.3,165.3 563.8,164.0 564.3,162.6 564.7,161.7 565.2,160.4 565.6,158.1 566.2,157.0 566.8,155.2 567.3,153.9 567.7,152.7 568.2,150.4 568.5,149.2 568.8,147.7 569.2,146.3 569.5,144.5 569.8,142.2 570.1,139.7 570.4,137.8 570.7,135.2 571.0,133.5 571.3,130.2 571.6,128.9 571.9,125.7 572.1,124.1 572.4,121.3 572.6,119.2 572.8,117.2 573.0,115.1 573.2,113.1 573.3,110.6 573.5,108.5 573.7,106.3 573.9,104.7 574.1,102.2 574.3,99.6 574.5,97.1 574.7,95.0 574.9,91.9 575.0,90.2 575.1,89.1 575.3,87.0 575.5,84.5 575.7,81.5 575.9,79.5 576.1,77.4 576.3,74.1 576.4,72.7 576.5,71.8 576.6,70.6 576.7,69.2 576.8,68.3 577.0,65.0 577.2,62.1 577.4,60.7 577.6,59.5 577.9,57.7 578.5,59.4 578.7,60.9 578.9,62.8 579.1,64.7 579.3,67.0 579.5,69.1 579.7,71.4 579.9,74.0 580.1,75.7 580.3,78.0 580.5,80.7 580.7,82.9 580.9,85.7 581.0,87.1 581.1,88.7 581.2,89.6 581.3,90.9 581.4,93.0 581.5,93.7 581.7,96.0 581.9,98.6 582.1,101.8 582.3,104.0 582.6,105.7 582.8,108.4 583.1,110.6 583.3,112.3 583.6,114.9 583.8,116.7 584.1,119.3 584.4,121.5 584.6,123.0 584.9,124.6 585.2,126.4 585.5,128.5 585.7,129.4 586.0,130.8 586.3,132.4 586.6,133.6 587.0,135.2 587.3,136.6 587.9,137.9 588.5,139.5 589.2,141.9 589.9,142.9 590.6,144.5 591.5,145.6 592.6,146.8 593.7,146.2 594.5,145.0 595.3,144.1 596.0,142.6 596.7,140.8 597.2,138.6 597.8,138.3 598.3,136.5 598.8,134.7 599.4,133.8 599.9,132.7 600.7,131.1 601.4,129.6 602.2,128.6 602.9,127.3 603.6,126.0 604.4,124.8 605.1,124.0 605.9,122.9 606.7,121.7 607.4,120.5 608.2,119.1 609.2,118.1 610.2,116.3 611.3,114.8 612.3,114.2 613.2,112.8 614.2,111.4 615.2,109.8 616.3,109.1 617.3,107.9 618.4,107.2 619.4,106.1 620.4,105.4 621.5,104.2 622.4,103.1 623.4,102.1 624.5,100.9 625.4,100.1 626.4,99.0 627.4,98.0 628.5,97.4 629.5,95.5 630.7,95.6 632.1,93.7 633.2,93.5 634.3,91.6 635.4,91.8 636.5,90.6 637.6,90.1 638.7,89.4 640.1,87.7 641.3,86.4 642.3,86.0 643.2,84.7 644.0,83.3 644.8,82.1 645.9,80.1 647.1,80.1 648.3,78.8 649.5,78.3 650.7,77.5 651.9,77.0 652.9,75.3 654.0,75.0 655.2,73.7 656.4,72.2 657.5,71.5 658.7,69.7 659.7,68.8 660.6,67.9 661.7,67.1 662.6,65.1 663.5,65.0 664.5,64.0 665.5,62.3 666.8,61.3 667.7,60.1 668.9,59.3 669.9,57.8 670.4,57.7" stroke="#2a35f0"/>
<path d="M439.5,20.0 439.5,22.3 439.5,23.6 439.5,26.3 439.5,27.9 439.5,31.8 439.6,33.8 439.6,37.1 439.6,40.6 439.6,43.7 439.6,47.2 439.6,50.3 439.6,53.8 439.7,57.3 439.7,60.8 439.7,64.3 439.7,67.7 439.7,71.2 439.8,73.8 439.8,77.1 439.8,80.1 439.8,82.0 439.9,85.7 439.9,88.2 439.9,91.3 439.9,93.9 440.0,96.6 440.0,99.4 440.1,102.3 440.1,105.1 440.1,107.3 440.2,109.7 440.2,112.8 440.2,115.5 440.3,117.4 440.3,120.0 440.4,121.8 440.4,124.4 440.4,126.7 440.5,128.3 440.5,129.8 440.5,131.6 440.6,133.0 440.6,134.2 440.7,137.2 440.7,139.6 440.8,140.9 440.9,142.7 440.9,144.4 441.0,146.0 441.1,147.8 441.2,149.4 441.2,151.2 441.3,152.9 441.4,154.8 441.4,156.9 441.5,159.4 441.6,161.2 441.7,163.0 441.7,165.1 441.8,167.9 441.9,168.7 442.1,171.2 442.2,172.8 442.3,174.5 442.4,177.4 442.6,179.1 442.7,180.3 442.9,182.6 443.0,183.7 443.2,185.9 443.4,187.4 443.6,188.6 443.8,190.1 444.1,191.2 444.4,193.2 444.7,194.8 444.9,196.0 445.4,197.8 445.8,198.9 446.4,200.1 447.4,199.5 447.9,197.5 448.4,196.5 448.9,194.8 449.2,193.6 449.6,191.9 450.0,190.0 450.3,188.1 450.6,187.1 450.9,185.0 451.1,184.2 451.4,182.4 451.7,181.0 452.0,178.8 452.3,176.7 452.6,175.2 452.9,172.9 453.2,170.4 453.5,168.0 453.8,166.1 454.1,164.2 454.4,161.6 454.8,159.5 455.1,156.9 455.4,154.1 455.7,151.8 455.9,148.9 456.2,146.8 456.5,144.7 456.9,142.9 457.1,140.6 457.4,140.6 457.8,137.8 458.0,137.0 458.5,134.6 458.9,132.9 459.4,132.0 459.8,130.1 460.4,128.6 461.0,127.5 461.9,126.7 463.1,126.2 464.4,126.2 465.2,127.1 466.3,127.9 467.5,128.9 468.7,130.4 470.0,130.6 471.4,130.6 472.3,131.4 472.9,132.9 473.5,134.1 474.1,135.2 474.7,137.1 475.3,138.1 475.8,139.4 476.2,141.1 476.7,142.7 477.2,144.1 478.1,145.0 478.8,143.7 479.3,142.6 479.7,140.4 480.4,139.6 481.0,140.4 481.4,142.8 481.9,144.1 482.2,145.3 482.5,146.8 482.8,148.6 483.0,150.1 483.2,151.9 483.4,153.2 483.6,155.1 483.7,157.2 483.9,158.8 484.1,161.3 484.3,163.3 484.5,164.8 484.8,168.0 485.0,169.2 485.3,172.3 485.5,174.9 485.8,177.5 486.0,178.9 486.1,180.1 486.3,181.5 486.4,182.3 486.6,183.8 486.8,185.5 486.9,187.1 487.2,189.6 487.5,191.7 487.8,194.3 488.1,195.9 488.4,198.1 488.7,200.2 489.0,202.3 489.3,204.4 489.6,205.3 489.9,207.0 490.2,208.7 490.5,209.8 490.8,212.1 491.4,213.6 491.9,214.5 492.4,216.1 493.2,217.4 494.1,219.6 495.0,220.4 495.8,221.2 496.6,222.5 497.6,223.2 498.5,224.7 499.4,225.1 500.7,226.4 501.9,227.4 503.3,227.1 504.8,227.6 506.4,227.5 507.8,228.5 509.2,228.1 510.7,228.3 512.3,228.7 513.6,228.6 515.0,227.8 516.6,227.4 518.4,226.9 519.7,225.8 520.9,224.9 522.2,224.3 523.5,223.8 524.7,223.4 525.8,221.9 527.4,220.9 528.8,219.9 530.0,219.0 531.1,217.0 532.3,216.1 533.4,214.9 534.6,213.6 535.8,212.8 537.1,211.7 538.4,210.3 539.7,209.7 541.0,208.5 541.9,207.6 542.8,205.8 543.7,205.0 544.7,203.1 545.7,201.7 546.7,200.5 547.8,199.3 548.9,196.3 549.9,194.6 551.0,193.0 552.0,192.0 552.9,189.6 553.8,187.4 554.6,186.2 555.4,184.1 556.1,183.1 556.8,181.1 557.5,179.8 558.2,177.8 558.8,176.8 559.4,175.4 560.0,174.0 560.6,172.6 561.2,171.7 561.7,169.6 562.3,168.4 562.8,166.9 563.3,165.3 563.8,164.5 564.3,163.3 564.7,162.1 565.2,160.2 565.6,158.6 566.2,157.9 566.8,156.0 567.3,154.5 567.7,153.1 568.2,151.1 568.7,149.6 569.0,148.3 569.3,146.0 569.6,144.9 569.9,142.7 570.2,141.5 570.5,139.7 570.8,137.7 571.1,135.7 571.4,133.8 571.7,132.0 572.0,130.1 572.3,128.1 572.6,126.3 572.9,124.0 573.2,121.9 573.5,120.1 573.8,118.1 574.1,116.3 574.4,113.9 574.7,112.0 575.0,109.4 575.3,108.0 575.6,105.8 575.9,103.3 576.2,100.7 576.5,98.7 576.8,96.4 577.1,94.1 577.4,92.6 577.9,90.9 578.8,91.5 579.2,93.7 579.5,95.6 579.8,96.7 580.1,98.3 580.4,100.6 580.7,102.4 581.0,104.2 581.3,105.1 581.6,107.6 581.9,108.9 582.2,111.0 582.5,113.6 582.8,114.6 583.1,116.8 583.4,118.4 583.7,120.5 584.0,121.8 584.3,123.8 584.6,124.7 584.8,125.5 585.1,127.6 585.4,129.0 585.8,131.5 586.3,132.4 586.8,134.3 587.4,136.0 587.9,138.1 588.4,139.2 588.9,139.7 589.4,141.1 589.9,142.3 590.7,144.2 591.5,145.5 592.5,146.9 593.7,145.5 594.5,144.6 595.3,143.3 595.9,142.3 596.6,140.7 597.4,139.0 597.9,137.8 598.4,136.7 598.9,135.0 599.4,133.6 600.2,132.3 600.9,131.2 601.6,130.5 602.4,128.6 603.1,127.5 603.9,126.5 604.6,124.9 605.4,124.0 606.2,122.3 606.9,122.2 607.7,120.7 608.7,119.5 609.7,118.1 610.8,117.1 611.8,115.5 612.8,114.3 613.7,113.1 614.7,111.7 615.8,110.4 616.8,109.8 617.8,109.0 618.9,107.9 619.9,106.9 620.8,105.8 621.9,104.6 623.0,103.2 624.1,102.4 625.2,101.2 626.4,100.6 627.5,99.7 628.6,99.4 629.9,97.6 631.1,96.7 632.5,95.2 633.5,94.5 634.6,93.6 635.6,92.6 636.7,91.0 637.8,90.4 638.9,89.3 640.0,88.9 641.0,88.1 642.1,87.0 643.1,86.3 644.2,85.6 645.8,84.9 647.3,83.0 648.8,82.6 650.2,81.5 651.4,80.6 652.4,79.8 653.7,78.8 654.9,77.8 656.0,76.8 657.3,76.0 658.5,74.9 659.7,73.5 660.9,72.7 662.0,72.0 663.3,70.8 664.0,70.4" stroke="#22a8ff"/>
<path d="M439.7,20.0 439.7,21.6 439.7,23.4 439.7,25.7 439.7,27.5 439.7,31.2 439.8,33.9 439.8,36.7 439.8,40.9 439.8,43.4 439.8,47.1 439.8,50.4 439.8,53.5 439.9,57.1 439.9,61.1 439.9,64.3 439.9,67.5 439.9,71.2 440.0,74.1 440.0,77.0 440.0,80.1 440.0,82.4 440.1,85.8 440.1,88.8 440.1,91.1 440.1,93.5 440.2,97.1 440.2,99.4 440.3,102.0 440.3,104.7 440.3,107.0 440.4,110.1 440.4,112.8 440.4,115.0 440.5,117.6 440.5,120.5 440.6,122.1 440.6,124.4 440.6,126.4 440.7,128.2 440.7,129.6 440.7,131.5 440.8,133.0 440.8,134.2 440.9,137.6 440.9,139.2 441.0,141.3 441.1,142.4 441.1,144.1 441.2,145.7 441.3,147.1 441.4,149.0 441.4,151.2 441.5,153.0 441.6,155.9 441.7,156.7 441.7,158.6 441.8,161.0 441.9,163.3 442.0,165.0 442.1,167.6 442.2,169.5 442.4,170.6 442.5,172.9 442.6,175.1 442.8,177.2 443.0,179.3 443.1,180.8 443.3,182.5 443.5,184.3 443.7,185.7 443.9,187.2 444.2,189.5 444.6,190.0 445.0,192.0 445.6,193.8 446.3,194.4 447.4,195.7 448.2,194.2 448.7,193.2 449.3,191.8 449.7,189.8 450.1,188.2 450.6,186.3 450.9,185.4 451.2,184.0 451.5,182.6 451.8,180.9 452.1,178.9 452.4,178.0 452.8,175.3 453.1,173.7 453.4,171.5 453.6,169.2 453.9,167.8 454.2,165.1 454.5,162.7 454.9,160.7 455.2,159.0 455.5,157.3 455.8,154.2 456.1,152.5 456.4,150.5 456.7,148.3 457.0,145.9 457.3,144.0 457.6,142.6 457.9,140.5 458.1,139.0 458.4,137.7 458.8,136.2 459.2,134.2 459.6,133.4 460.1,131.6 460.6,130.4 461.3,129.4 462.0,127.9 463.1,127.5 464.2,127.8 465.1,129.1 466.1,129.5 467.3,131.1 468.5,130.9 469.9,132.1 471.2,132.8 472.1,133.4 472.8,134.0 473.4,135.3 473.9,137.5 474.6,140.0 475.2,140.6 475.8,141.7 476.4,143.0 477.0,144.5 477.7,146.1 478.8,145.4 479.3,144.2 480.3,144.1 481.1,144.8 481.6,146.0 481.9,147.5 482.2,149.3 482.5,150.7 482.7,151.8 482.9,153.5 483.2,154.8 483.4,157.0 483.7,159.1 484.0,160.6 484.2,161.9 484.5,165.4 484.8,167.0 485.1,170.4 485.2,171.6 485.3,172.9 485.5,174.9 485.6,175.5 485.8,177.4 485.9,178.3 486.1,179.9 486.2,182.0 486.4,181.7 486.5,184.6 486.7,185.8 486.9,187.3 487.0,188.5 487.2,189.0 487.5,192.2 487.8,194.3 488.2,196.5 488.5,198.9 488.8,200.9 489.2,202.4 489.5,204.2 489.9,207.0 490.3,207.7 490.6,209.6 491.0,211.4 491.4,212.0 491.9,213.8 492.5,215.7 493.0,216.8 493.8,218.1 494.8,219.6 495.5,220.3 496.3,222.0 497.2,222.8 498.2,223.7 499.4,224.6 500.7,226.4 501.9,225.9 503.2,226.2 504.5,226.9 505.8,227.3 507.2,227.1 508.5,227.7 509.9,228.0 511.3,228.0 512.8,228.1 514.5,227.5 516.0,227.2 517.8,227.1 519.0,226.0 520.3,225.2 521.6,224.2 522.8,224.0 524.1,223.6 525.3,222.2 526.4,221.2 527.9,220.8 529.2,219.1 530.4,218.4 531.5,217.4 532.6,215.6 533.8,213.8 535.0,213.4 536.3,211.9 537.5,211.4 538.8,210.1 540.1,208.8 541.4,207.4 542.3,205.8 543.2,204.6 544.2,203.9 545.2,202.4 546.2,201.0 547.3,199.9 548.3,197.6 549.4,195.4 550.5,194.0 551.5,192.1 552.5,190.3 553.4,188.6 554.2,186.8 555.0,185.5 555.8,183.6 556.5,181.8 557.2,180.6 557.8,179.7 558.5,177.9 559.1,175.9 559.7,174.8 560.3,172.9 560.9,172.0 561.5,170.0 562.0,169.6 562.5,167.2 563.1,166.0 563.6,164.6 564.0,162.9 564.5,162.3 565.0,160.5 565.6,158.9 566.2,157.7 566.8,156.4 567.4,154.1 568.1,152.9 568.5,151.4 569.0,150.0 569.5,147.7 569.8,146.4 570.1,145.0 570.4,143.5 570.7,142.3 571.0,140.6 571.3,139.0 571.6,137.4 571.9,135.1 572.1,134.9 572.4,132.5 572.8,130.4 573.1,129.0 573.4,127.1 573.7,124.4 574.0,123.8 574.2,122.0 574.5,120.0 574.9,118.1 575.1,117.3 575.4,115.2 575.7,114.3 576.0,112.6 576.3,111.1 576.6,110.1 577.1,107.8 577.5,107.5 578.5,106.5 579.2,108.0 579.8,109.2 580.3,110.9 580.8,112.4 581.3,114.5 581.8,116.1 582.3,117.5 582.6,119.5 582.9,120.7 583.1,121.9 583.4,123.2 583.7,124.4 584.0,126.5 584.3,127.6 584.8,129.2 585.3,130.9 585.8,132.9 586.4,134.8 586.9,136.7 587.4,137.5 588.0,139.4 588.6,140.6 589.2,141.3 589.7,142.6 590.5,144.2 591.5,145.2 592.8,145.4 594.0,144.5 594.9,143.9 595.7,142.5 596.4,141.8 597.1,139.7 597.9,137.7 598.6,136.1 599.4,135.0 600.2,133.6 600.9,132.0 601.6,130.9 602.4,130.3 603.4,128.7 604.4,126.6 605.4,126.3 606.4,124.6 607.4,123.7 608.5,121.4 609.5,120.3 610.5,119.8 611.5,118.5 612.5,117.3 613.5,116.6 614.7,115.2 616.0,115.2 617.3,113.7 618.6,113.9 619.9,113.1 621.1,112.5 622.2,111.6 623.2,110.9 624.3,109.4 625.5,109.6 626.6,107.7 627.5,106.6 628.6,105.2 629.6,105.1 630.7,104.0 632.0,102.9 633.5,101.2 634.6,100.1 635.6,99.6 636.7,98.2 637.8,97.0 638.9,96.6 640.0,95.6 641.5,94.6 642.6,94.3 643.6,92.9 644.7,92.1 646.3,91.4 647.8,90.0 649.2,89.4 650.6,88.5 651.9,87.8 653.2,86.7 654.4,86.1 655.9,85.1 657.0,84.7 657.7,84.3" stroke="#00c4cc"/>
<path d="M440.0,20.0 440.0,21.6 440.0,23.9 440.0,25.5 440.0,28.7 440.0,31.1 440.0,33.6 440.0,36.8 440.0,40.0 440.0,43.9 440.0,46.8 440.1,50.6 440.1,53.5 440.1,57.3 440.1,60.7 440.1,63.7 440.1,67.6 440.1,70.6 440.2,74.6 440.2,77.7 440.2,80.3 440.2,83.1 440.3,85.2 440.3,87.9 440.3,91.3 440.4,93.6 440.4,96.4 440.4,99.2 440.5,102.7 440.5,104.5 440.6,107.3 440.6,110.3 440.7,113.3 440.7,115.1 440.7,117.6 440.8,120.1 440.8,122.1 440.9,124.4 440.9,126.0 441.0,128.8 441.0,130.2 441.0,132.0 441.1,133.2 441.1,134.3 441.2,137.3 441.2,139.6 441.3,141.5 441.4,142.2 441.4,144.4 441.5,145.8 441.6,147.7 441.7,149.1 441.7,151.1 441.8,152.9 441.9,154.9 442.0,157.3 442.0,159.0 442.1,161.6 442.2,163.1 442.3,165.2 442.4,167.4 442.5,169.1 442.7,171.0 442.8,172.4 443.0,174.8 443.2,176.3 443.3,178.4 443.5,179.5 443.7,181.2 443.9,182.6 444.2,184.4 444.5,186.3 444.9,187.4 445.4,189.4 446.1,190.4 447.2,191.2 448.4,190.8 449.0,189.3 449.6,188.1 450.1,187.1 450.6,185.0 451.0,183.4 451.5,182.0 451.9,180.3 452.2,178.8 452.5,177.1 452.8,175.6 453.1,174.6 453.4,172.7 453.8,171.4 454.1,169.4 454.4,167.4 454.6,165.4 454.9,163.0 455.2,161.1 455.5,159.4 455.9,158.3 456.2,156.0 456.5,154.4 456.8,152.2 457.1,150.9 457.4,148.8 457.7,147.5 458.0,145.7 458.3,143.4 458.6,141.8 458.9,140.1 459.2,139.4 459.6,137.4 459.9,135.7 460.4,134.7 460.9,133.5 461.5,132.3 462.2,131.1 463.2,129.9 464.5,130.3 465.5,131.0 466.7,131.6 467.9,131.9 469.1,132.9 470.3,134.3 471.3,134.7 472.2,136.5 473.0,137.6 473.6,139.2 474.2,139.8 474.8,141.3 475.4,142.7 476.2,144.3 476.8,145.7 477.4,147.1 478.1,149.1 478.9,149.7 479.6,151.1 480.5,151.8 481.2,152.7 481.9,154.5 482.3,156.1 482.6,157.0 482.9,159.3 483.2,160.6 483.5,162.1 483.8,164.3 484.1,165.7 484.4,167.4 484.7,169.8 485.0,171.5 485.3,173.8 485.6,176.0 485.9,179.1 486.2,181.4 486.5,184.2 486.6,185.1 486.9,187.6 487.2,191.2 487.6,192.8 487.9,194.6 488.1,196.6 488.4,199.1 488.7,201.0 489.0,202.2 489.3,204.8 489.6,205.7 489.9,206.8 490.2,208.7 490.5,210.9 490.8,211.0 491.4,212.6 491.9,214.1 492.4,215.9 493.2,217.8 494.1,218.2 495.0,219.7 496.1,220.9 497.2,222.0 498.4,223.7 499.7,223.8 501.0,224.4 502.3,225.1 503.7,224.9 505.2,225.7 506.6,225.5 508.0,225.4 509.3,225.7 510.9,226.2 512.2,225.9 513.7,226.2 515.0,225.7 516.6,225.1 518.3,223.4 519.6,223.4 520.9,223.0 522.2,222.4 523.5,221.9 524.7,220.7 525.8,219.8 527.4,219.5 528.8,218.3 530.0,217.1 531.1,216.5 532.3,214.7 533.4,213.4 534.6,212.3 535.8,211.2 537.1,210.6 538.4,209.0 539.7,207.8 541.0,206.4 542.3,205.1 543.2,204.2 544.2,202.5 545.2,201.3 546.2,199.3 547.3,198.0 548.3,196.6 549.4,194.8 550.5,193.2 551.5,190.9 552.5,189.7 553.4,187.6 554.2,185.6 555.0,184.8 555.8,183.4 556.5,181.7 557.2,180.5 557.8,178.7 558.5,176.8 559.1,175.5 559.7,173.8 560.3,173.3 560.9,170.4 561.5,169.8 562.0,167.8 562.5,167.1 563.1,165.8 563.6,163.7 564.0,163.2 564.5,161.3 565.0,159.9 565.4,158.8 565.8,157.0 566.4,155.7 566.9,153.6 567.4,151.9 567.8,151.0 568.3,148.9 568.8,147.8 569.4,146.0 569.8,143.8 570.2,143.0 570.6,141.6 571.0,139.8 571.4,138.5 571.8,136.5 572.2,136.3 572.8,133.8 573.4,132.8 574.0,132.2 574.6,130.4 575.4,128.7 576.4,127.6 577.6,127.1 578.8,127.8 579.8,128.6 580.8,130.0 581.9,130.7 582.8,131.4 583.6,133.0 584.5,133.6 585.5,135.6 586.6,136.0 587.6,137.1 588.6,137.8 589.3,139.5 590.1,140.0 591.1,141.3 592.3,142.1 593.7,141.4 594.9,140.9 596.0,139.9 597.1,138.7 597.9,138.2 598.8,137.1 599.7,136.3 600.6,134.7 601.6,133.6 602.6,132.6 603.6,131.1 604.6,129.4 605.7,128.9 606.7,127.7 607.7,127.0 608.7,126.0 609.7,124.1 610.8,124.1 611.8,122.8 612.8,121.4 614.1,120.9 615.3,120.0 616.5,119.8 617.6,117.8 618.8,116.9 620.0,116.6 621.1,115.6 622.3,115.1 623.5,113.1 624.7,112.8 625.8,111.8 626.9,111.2 628.1,110.0 629.2,109.3 630.3,108.0 631.6,107.4 633.0,105.7 634.1,105.8 635.2,104.8 636.3,103.6 637.4,103.0 638.5,101.9 639.5,101.2 641.0,100.2 642.5,98.9 644.1,98.3 645.7,97.2 647.1,96.5 648.4,96.4 649.6,95.4" stroke="#00c890"/>
<path d="M440.3,20.0 440.3,22.0 440.3,23.5 440.3,25.6 440.3,28.6 440.3,31.3 440.3,34.6 440.3,37.0 440.3,40.2 440.3,43.4 440.4,47.3 440.4,50.0 440.4,54.0 440.4,57.3 440.4,60.7 440.4,64.7 440.4,67.7 440.4,70.4 440.5,74.4 440.5,77.5 440.5,80.4 440.5,82.4 440.5,84.9 440.6,88.0 440.6,91.2 440.6,93.9 440.7,96.6 440.7,99.3 440.7,101.9 440.8,104.7 440.8,107.5 440.9,110.1 440.9,112.6 440.9,115.9 441.0,117.4 441.0,119.6 441.0,122.6 441.1,124.6 441.1,126.4 441.2,128.2 441.2,129.5 441.2,131.6 441.3,133.2 441.3,134.6 441.4,137.0 441.5,139.0 441.5,141.0 441.6,142.8 441.7,144.2 441.8,145.9 441.9,147.5 442.0,149.0 442.0,151.0 442.1,153.3 442.2,155.4 442.3,156.9 442.4,159.6 442.5,161.3 442.6,164.0 442.7,165.3 442.8,167.8 442.9,169.6 443.1,171.3 443.2,172.3 443.4,173.9 443.6,175.4 443.8,176.9 444.0,178.2 444.3,179.8 444.6,182.0 445.0,183.1 445.4,184.4 446.0,185.6 446.7,187.0 447.8,188.1 448.8,187.2 449.4,186.0 450.0,184.5 450.5,182.7 450.9,181.6 451.4,180.0 451.8,178.1 452.1,176.6 452.4,175.8 452.7,173.8 453.0,172.5 453.3,170.6 453.7,169.2 454.0,168.1 454.4,165.6 454.7,164.6 455.1,162.5 455.4,159.9 455.8,157.9 456.1,156.8 456.5,154.1 456.8,153.0 457.2,151.3 457.5,150.0 457.8,148.9 458.1,146.7 458.4,145.3 458.9,144.0 459.3,142.3 459.7,141.1 460.1,140.0 460.7,138.3 461.3,137.1 462.0,135.5 462.9,134.0 463.9,132.8 465.2,133.4 466.2,134.4 467.1,135.5 467.8,136.3 468.7,138.0 469.7,139.5 470.7,140.6 471.6,141.5 472.5,142.9 473.3,143.7 474.0,145.3 474.8,147.0 475.5,148.1 476.2,149.0 476.9,150.7 477.6,151.8 478.3,152.8 479.0,155.1 479.7,155.9 480.4,157.9 481.1,158.2 481.8,159.1 482.5,161.1 483.1,162.2 483.8,164.1 484.3,165.2 484.8,166.7 485.3,169.0 485.7,170.1 486.1,172.1 486.5,173.6 486.9,175.7 487.3,177.8 487.8,179.8 488.2,182.0 488.6,183.4 489.1,185.8 489.5,188.2 489.9,189.6 490.3,191.1 490.7,193.0 491.1,195.1 491.4,196.3 491.8,198.1 492.2,199.6 492.7,201.5 493.2,203.0 493.7,204.2 494.3,205.9 494.9,206.6 495.5,208.3 496.2,209.5 496.8,210.9 497.5,211.9 498.3,213.2 499.4,214.5 500.5,216.0 501.7,217.4 502.9,218.5 504.2,220.2 505.5,221.4 506.8,222.7 508.0,222.8 509.5,224.3 510.9,224.1 512.2,223.5 513.6,223.3 515.1,222.4 516.5,222.8 518.0,221.9 519.7,220.9 521.4,220.5 523.1,219.7 524.8,219.3 526.4,217.7 527.8,217.1 529.1,216.2 530.3,215.4 531.5,214.7 532.6,213.1 533.8,211.9 535.0,211.6 536.3,209.8 537.5,209.2 538.8,207.9 540.1,206.9 541.4,205.0 542.3,204.6 543.2,203.5 544.2,202.1 545.2,201.2 546.2,200.0 547.3,197.6 548.3,196.2 549.4,194.7 550.5,192.6 551.5,191.1 552.5,188.9 553.4,188.5 554.2,186.1 555.0,184.4 555.8,183.1 556.5,182.1 557.2,180.0 557.8,178.7 558.5,177.7 559.1,175.7 559.7,173.9 560.3,172.6 560.9,171.9 561.5,169.6 562.0,168.4 562.5,167.4 563.1,166.1 563.6,164.6 564.0,163.1 564.5,161.4 565.0,160.8 565.6,158.4 566.2,157.4 566.7,155.4 567.2,153.6 567.7,152.8 568.3,151.4 569.0,149.9 569.7,148.7 570.4,147.8 571.4,147.2 572.6,146.0 573.8,145.1 575.1,144.7 576.4,143.4 577.8,143.5 579.1,142.9 580.5,142.5 581.9,142.4 583.4,141.6 584.9,141.1 586.1,140.2 587.7,140.3 589.2,140.6 590.7,140.9 592.0,141.8 593.2,141.7 594.7,142.5 596.1,141.5 597.2,140.7 598.0,139.8 598.8,138.4 599.7,137.2 600.8,135.7 601.7,134.9 602.7,133.1 603.8,133.1 604.9,131.3 606.0,130.0 607.1,128.7 608.2,127.5 609.2,126.7 610.5,125.4 611.5,124.4 612.6,124.3 613.9,123.0 615.3,121.9 616.5,121.6 617.8,121.1 619.1,119.5 620.4,119.2 621.6,119.1 622.7,117.9 623.9,117.1 625.1,116.4 626.2,115.9 627.4,115.2 628.5,114.2 629.7,113.3 631.0,112.9 632.3,112.2 633.6,111.8 634.8,110.9 636.1,110.5 637.2,109.0 638.5,108.8 639.7,107.1 640.8,105.8 641.8,105.3 642.5,104.5" stroke="#22d822"/>
<path d="M440.6,20.0 440.6,21.6 440.6,23.2 440.6,26.1 440.6,29.1 440.6,30.8 440.6,33.3 440.6,36.8 440.6,40.5 440.6,42.9 440.7,47.4 440.7,50.6 440.7,54.4 440.7,57.8 440.7,60.7 440.7,64.3 440.7,68.2 440.7,71.3 440.8,74.4 440.8,77.0 440.8,79.4 440.8,82.7 440.8,85.4 440.9,88.5 440.9,91.1 440.9,93.3 441.0,96.9 441.0,99.2 441.0,102.4 441.1,104.9 441.1,107.4 441.2,109.9 441.2,113.0 441.2,115.3 441.3,117.5 441.3,119.5 441.3,121.7 441.4,124.2 441.4,126.4 441.5,128.8 441.5,129.4 441.5,131.6 441.6,132.9 441.6,135.1 441.7,136.9 441.8,139.0 441.8,141.1 441.9,142.9 442.0,143.9 442.1,145.1 442.2,147.3 442.3,148.9 442.3,151.3 442.4,152.9 442.5,155.1 442.6,156.9 442.7,159.7 442.8,162.0 442.9,164.3 443.0,166.1 443.1,167.0 443.2,169.1 443.4,170.6 443.5,172.1 443.7,173.6 444.0,175.5 444.3,177.3 444.6,178.9 444.9,179.6 445.4,180.8 446.0,183.0 446.7,184.1 447.8,185.8 449.0,184.2 449.7,183.0 450.3,181.9 450.9,180.9 451.3,178.9 451.7,177.7 452.2,176.0 452.6,173.4 452.9,172.6 453.2,171.8 453.5,170.3 453.8,169.1 454.2,167.4 454.5,166.1 454.8,164.2 455.2,163.4 455.5,161.1 455.9,160.5 456.3,159.4 456.6,157.7 457.1,155.9 457.7,154.2 458.2,152.5 458.8,151.2 459.3,149.7 459.8,148.3 460.4,147.2 461.0,145.6 461.7,145.0 462.6,143.2 463.6,142.7 464.8,142.5 466.2,142.1 467.5,143.0 468.7,143.4 469.7,144.3 470.6,145.5 471.3,147.3 472.2,148.1 472.9,149.6 473.7,150.7 474.6,152.0 475.4,154.0 476.2,155.5 477.0,156.3 477.6,157.9 478.2,159.0 478.8,159.9 479.4,161.5 480.0,162.8 480.6,164.4 481.2,165.6 481.8,166.3 482.4,167.5 483.0,170.3 483.6,171.1 484.2,172.6 484.8,174.4 485.4,176.7 485.8,177.2 486.2,178.5 486.6,180.4 487.0,181.2 487.4,182.6 487.8,184.8 488.2,185.9 488.6,187.0 489.0,188.4 489.4,190.5 489.7,191.3 490.1,193.2 490.5,194.8 490.9,196.9 491.3,197.2 491.8,199.6 492.2,200.8 492.7,201.2 493.2,203.2 493.9,205.4 494.6,206.7 495.4,207.6 496.2,209.3 497.0,211.1 497.8,212.1 498.7,213.3 499.8,214.6 501.1,215.8 502.3,216.8 503.7,218.2 505.1,218.0 506.7,218.1 508.2,218.6 509.7,218.9 511.2,219.3 512.7,219.4 514.2,219.0 515.6,218.5 517.2,219.1 518.8,218.8 520.1,219.4 521.5,219.4 522.9,218.5 524.2,218.4 525.6,219.1 526.9,217.6 528.2,217.5 529.4,216.4 530.6,214.8 531.8,214.0 533.0,212.1 534.2,210.6 535.4,209.5 536.6,208.6 537.8,207.2 539.0,206.0 540.3,205.1 541.2,203.8 542.1,202.3 543.2,201.3 544.3,199.3 545.5,198.9 546.8,196.7 548.2,195.0 549.6,193.0 551.1,191.0 552.5,189.1 554.0,187.3 555.3,184.8 556.6,183.6 557.8,182.3 558.9,179.5 559.9,178.0 560.9,175.7 561.8,174.5 562.8,172.9 563.7,171.0 564.7,168.8 565.7,167.7 566.7,166.0 567.9,164.7 569.1,163.5 570.4,161.9 571.7,160.6 573.0,159.1 574.3,157.9 575.7,157.2 577.0,154.8 578.2,154.5 579.4,153.5 580.6,152.5 581.6,151.4 583.2,150.8 584.7,149.8 586.1,148.6 587.6,147.8 589.0,147.2 590.5,145.6 592.0,144.0 593.4,143.0 594.9,141.5 596.4,140.9 597.4,140.1 598.4,139.7 599.5,138.5 600.6,137.4 601.7,136.4 602.8,135.9 604.0,134.1 605.2,133.5 606.4,132.6 607.6,131.6 608.9,130.2 610.1,130.0 611.4,128.2 612.6,128.2 613.9,127.6 615.2,125.4 616.5,124.7 617.8,123.8 619.1,123.6 620.4,122.1 621.8,121.8 623.1,121.4 624.4,120.4 625.7,120.1 627.0,118.8 628.5,118.1 629.9,117.0 631.4,117.3 632.8,116.1 634.1,114.9 635.3,114.9 636.8,113.9 637.5,113.4" stroke="#9ee030"/>
<path d="M440.8,20.0 440.8,20.9 440.8,23.2 440.8,26.4 440.8,27.9 440.8,30.4 440.8,34.0 440.8,36.6 440.8,40.1 440.8,43.4 440.9,47.8 440.9,50.2 440.9,53.6 440.9,57.3 440.9,60.9 440.9,64.0 440.9,68.1 440.9,71.5 441.0,73.8 441.0,77.0 441.0,80.1 441.0,83.1 441.1,84.8 441.1,88.5 441.1,90.8 441.2,94.1 441.2,96.5 441.2,99.5 441.3,102.1 441.3,104.6 441.4,107.1 441.4,109.9 441.5,113.3 441.5,114.7 441.5,117.5 441.6,120.3 441.6,122.1 441.7,124.3 441.7,126.2 441.8,128.4 441.8,130.3 441.8,132.0 441.9,133.7 441.9,134.5 442.0,137.2 442.1,139.4 442.1,141.2 442.2,142.5 442.3,143.8 442.4,146.3 442.5,147.4 442.6,148.6 442.6,150.4 442.7,153.0 442.8,155.2 442.9,157.6 443.0,159.6 443.1,161.8 443.2,164.2 443.3,166.1 443.4,167.7 443.5,169.5 443.7,170.4 443.8,171.4 444.1,174.0 444.4,175.8 444.7,176.9 445.1,178.9 445.6,179.4 446.1,181.4 446.7,182.0 447.4,183.7 448.6,184.3 449.5,182.9 450.1,181.6 450.7,179.8 451.2,179.0 451.7,177.9 452.2,175.6 452.7,173.6 453.0,172.1 453.4,171.0 453.8,170.6 454.1,168.6 454.6,166.7 455.2,165.3 455.7,163.5 456.2,162.6 456.8,161.5 457.4,159.4 458.1,158.2 459.0,157.5 460.1,156.6 461.3,155.2 462.5,154.7 463.9,154.6 465.2,154.1 466.6,153.7 468.1,154.0 469.4,154.4 470.6,155.8 471.6,156.6 472.6,157.2 473.6,158.8 474.6,160.0 475.4,161.0 476.2,162.2 477.0,163.4 477.8,164.4 478.6,165.8 479.4,166.8 480.2,168.9 481.0,170.1 481.8,171.9 482.4,172.8 483.0,174.3 483.6,174.8 484.2,176.8 484.8,178.0 485.4,179.4 486.0,180.9 486.6,183.0 487.2,184.2 487.7,186.0 488.3,188.0 488.9,189.1 489.6,190.8 490.2,192.8 490.9,194.1 491.6,196.1 492.3,198.0 493.1,199.2 493.9,200.4 494.7,202.8 495.6,204.1 496.6,204.6 497.6,205.9 498.6,207.6 499.7,209.0 500.8,210.2 502.0,211.1 503.2,212.1 504.5,213.5 505.8,214.0 507.1,214.2 508.4,214.9 509.7,216.1 511.3,216.0 512.8,215.6 514.2,215.8 515.7,215.4 517.2,214.4 518.4,214.5 519.7,213.7 521.0,212.9 522.4,212.3 523.8,210.8 525.1,210.4 526.5,209.4 527.7,208.7 529.0,207.8 530.2,206.3 531.4,205.5 532.6,204.0 533.8,203.0 535.0,201.7 536.2,201.2 537.4,199.7 538.6,198.4 539.8,197.6 541.2,196.5 542.1,195.5 543.2,194.6 544.3,193.3 545.5,191.6 546.8,190.9 548.1,189.6 549.5,188.1 551.0,185.9 552.4,184.9 553.8,184.1 555.2,181.5 556.6,179.7 557.8,178.3 559.1,176.3 560.3,175.0 561.5,173.1 562.7,171.9 563.8,170.7 565.0,169.0 566.1,167.5 567.3,165.7 568.4,164.3 569.6,163.1 570.7,161.8 571.8,160.3 573.0,159.3 574.1,157.8 575.2,155.4 576.3,155.1 577.4,153.4 578.5,151.9 579.6,151.6 580.6,149.5 581.7,149.6 583.2,148.4 584.7,147.4 586.2,145.8 587.7,144.8 589.2,144.2 590.7,142.7 592.2,142.0 593.3,140.9 594.3,140.9 595.3,139.5 596.3,138.4 597.3,137.6 598.9,136.2 600.4,135.8 601.9,134.8 603.4,133.9 605.0,133.0 606.5,132.6 608.0,132.2 609.5,131.6 611.0,129.9 612.5,128.8 614.1,128.9 615.6,127.0 617.1,125.6 618.6,125.0 620.1,123.0 621.6,122.9 623.1,121.6 624.7,120.6 626.2,119.3 627.6,117.6 628.9,117.2 630.0,116.4 631.2,115.4 632.4,114.9 633.5,114.1 634.0,113.5" stroke="#e4d832"/>
<path d="M441.0,20.0 441.0,21.4 441.0,23.2 441.0,25.8 441.0,28.2 441.0,31.3 441.0,34.1 441.0,37.1 441.0,40.1 441.0,43.3 441.0,46.9 441.1,50.7 441.1,54.1 441.1,57.1 441.1,60.7 441.1,64.4 441.1,67.5 441.1,70.8 441.2,74.4 441.2,77.6 441.2,79.6 441.2,82.8 441.3,86.2 441.3,88.3 441.3,91.2 441.4,94.1 441.4,97.0 441.4,99.3 441.5,102.0 441.5,105.2 441.6,107.0 441.6,109.9 441.6,112.7 441.7,114.8 441.7,117.4 441.8,119.6 441.8,121.7 441.9,124.0 441.9,126.2 442.0,127.9 442.0,130.0 442.0,131.5 442.1,133.2 442.1,134.4 442.2,137.1 442.3,139.4 442.4,140.6 442.5,142.1 442.6,144.4 442.7,146.3 442.8,146.8 442.9,148.8 442.9,150.8 443.0,152.2 443.1,155.2 443.2,158.0 443.3,160.1 443.4,162.1 443.5,164.1 443.7,165.9 443.8,166.9 443.9,169.5 444.1,171.3 444.2,172.4 444.5,173.7 444.8,175.7 445.1,177.5 445.5,178.1 446.0,180.0 446.5,181.7 447.2,183.0 448.2,183.8 449.4,182.9 450.2,181.2 450.8,179.7 451.3,178.9 451.8,177.1 452.4,176.4 452.9,174.5 453.5,173.5 454.2,170.8 454.8,169.2 455.4,167.3 456.0,166.5 456.6,165.0 457.4,163.4 458.2,161.9 459.2,161.2 460.2,160.3 461.4,159.7 462.8,159.1 464.2,159.1 465.6,159.1 467.0,159.9 468.4,159.9 469.6,160.2 470.8,160.9 471.8,161.5 472.8,162.9 473.6,164.7 474.4,165.7 475.2,166.5 476.0,168.4 476.8,169.2 477.5,170.8 478.1,171.7 478.8,173.4 479.4,174.1 480.2,175.3 481.0,177.0 481.7,177.9 482.5,179.3 483.2,180.8 484.0,182.1 484.8,183.8 485.5,185.5 486.1,186.1 486.7,186.9 487.3,189.4 488.0,190.5 488.7,191.1 489.4,192.7 490.1,194.6 490.8,195.7 491.6,197.6 492.4,198.8 493.3,200.2 494.2,201.5 495.2,202.9 496.3,203.9 497.3,205.6 498.5,206.9 499.6,207.5 500.8,208.6 502.1,209.8 503.5,210.3 504.8,211.1 506.2,211.9 507.5,211.9 509.2,212.4 510.6,212.6 511.9,212.9 513.3,212.9 514.7,212.2 516.0,211.6 517.5,210.9 518.5,209.0 519.7,208.6 520.8,207.2 522.0,206.3 523.1,205.1 524.3,203.2 525.4,203.3 526.4,201.0 527.4,200.8 528.3,198.7 529.1,198.4 529.9,197.1 530.7,195.6 531.5,194.5 532.2,193.7 533.0,192.8 533.8,191.2 534.6,190.2 535.4,189.4 536.7,188.1 537.9,187.0 539.2,184.7 540.5,184.3 541.9,182.7 542.8,181.7 543.7,180.9 544.7,179.9 545.6,178.6 546.6,177.8 547.6,176.6 548.7,174.9 549.7,174.8 550.7,172.9 551.8,172.2 552.8,171.2 553.8,170.8 554.8,169.7 556.3,168.3 557.9,167.3 559.4,166.4 560.9,166.0 562.5,164.3 564.0,164.0 565.6,162.5 567.2,162.2 568.8,160.8 570.4,159.5 571.9,159.0 573.3,157.7 574.5,156.2 575.2,155.3 575.9,154.5 576.5,152.4 577.1,151.2 577.7,149.8 578.2,148.6 578.8,147.0 579.3,145.6 580.1,145.0 580.9,143.3 582.0,142.7 583.0,141.5 584.2,140.3 585.5,139.5 586.5,138.3 587.5,137.6 588.7,136.2 589.9,135.3 591.2,135.1 592.5,134.1 593.8,134.3 595.0,133.5 596.3,132.2 597.6,132.2 598.9,131.8 600.1,130.2 601.4,130.1 602.7,129.3 603.9,128.1 605.1,128.1 606.5,126.5 607.7,126.4 608.8,125.6 610.0,124.1 610.5,124.3" stroke="#e8b44c"/>
<path d="M441.3,20.0 441.3,21.3 441.3,23.4 441.3,26.0 441.3,28.4 441.3,31.4 441.3,34.1 441.3,36.8 441.3,40.1 441.3,43.8 441.4,46.8 441.4,50.0 441.4,53.8 441.4,57.5 441.4,60.3 441.4,64.4 441.4,67.7 441.4,71.0 441.5,74.4 441.5,77.2 441.5,79.9 441.5,83.1 441.6,86.1 441.6,87.8 441.6,91.0 441.7,94.3 441.7,96.8 441.7,100.0 441.8,102.7 441.8,105.7 441.9,107.4 441.9,110.3 441.9,112.9 442.0,115.1 442.0,117.6 442.1,120.4 442.1,122.0 442.2,124.2 442.2,126.0 442.3,128.5 442.3,130.3 442.3,131.9 442.4,133.0 442.4,134.9 442.5,136.8 442.6,139.1 442.7,141.3 442.8,142.6 442.9,144.4 443.0,145.3 443.1,147.2 443.2,149.5 443.2,150.5 443.3,153.2 443.4,155.3 443.5,157.4 443.6,160.0 443.7,161.7 443.8,163.7 443.9,166.1 444.1,167.8 444.2,169.1 444.4,170.8 444.6,172.3 444.8,173.7 445.1,175.9 445.4,177.2 445.8,178.6 446.1,180.5 446.6,181.5 447.1,182.7 447.7,183.9 448.8,184.5 449.9,183.5 450.5,181.8 451.0,180.5 451.6,179.3 452.1,178.2 452.7,176.7 453.3,175.1 454.0,173.2 454.6,171.4 455.3,169.6 456.1,168.1 456.8,166.5 457.5,165.4 458.5,164.5 459.5,163.3 460.5,162.2 461.8,161.6 463.0,160.3 464.2,159.6 465.6,159.2 467.1,158.9 468.4,159.0 469.7,159.8 470.8,160.4 471.9,161.4 472.8,162.8 473.8,163.9 474.6,166.2 475.6,167.2 476.3,169.0 477.0,169.9 477.7,171.2 478.4,172.9 479.2,173.6 479.9,175.3 480.5,176.3 481.2,177.1 481.9,178.7 482.6,179.4 483.3,181.2 483.9,182.6 484.6,183.0 485.3,184.5 486.0,186.0 486.7,187.4 487.7,188.6 488.7,189.5 489.7,191.8 490.7,193.5 491.7,195.0 492.7,196.4 493.7,197.7 494.7,198.8 495.7,199.8 496.8,201.1 497.8,201.9 498.8,203.0 499.8,203.9 501.2,204.9 502.5,205.8 503.9,206.2 505.2,206.7 506.4,207.5 507.8,207.7 509.0,208.0 510.5,209.0 511.9,210.0 513.2,209.0 514.8,208.6 516.0,207.9 517.2,207.3 518.5,206.7 520.0,205.7 521.4,206.0 522.8,204.9 524.1,204.2 525.5,203.6 526.9,202.8 528.0,201.9 529.2,200.8 530.4,199.4 531.7,198.8 532.9,197.6 534.2,196.3 535.4,195.8 536.6,195.2 537.8,193.6 539.0,192.7 540.3,192.2 541.6,189.6 543.2,189.9 544.3,188.6 545.5,187.9 546.8,186.9 548.1,185.2 549.5,184.4 551.0,183.3 552.4,182.2 553.8,181.8 555.2,180.1 556.6,179.4 557.8,179.2 559.1,177.8 560.3,176.9 561.5,175.5 562.7,174.9 563.8,174.0 565.0,173.7 566.1,172.8 567.3,171.9 568.4,170.6 569.6,170.3 570.7,168.9 571.8,168.1 572.9,166.8 574.0,165.8 575.1,165.2 576.2,164.2 577.3,163.2 578.4,162.0 579.5,161.3 580.6,159.4 581.7,158.4 582.9,157.1 584.2,155.9 585.4,154.4 586.6,152.9 587.8,151.9 588.8,150.7 589.7,150.0 590.7,148.7" stroke="#f08a3c"/>
<path d="M441.6,20.0 441.6,21.6 441.6,23.5 441.6,26.0 441.6,28.2 441.6,30.8 441.6,33.4 441.6,36.7 441.6,40.0 441.6,43.8 441.7,46.6 441.7,50.3 441.7,53.8 441.7,57.5 441.7,61.4 441.7,64.6 441.7,67.3 441.7,71.1 441.8,74.4 441.8,76.8 441.8,80.1 441.8,83.2 441.9,85.0 441.9,88.2 441.9,91.1 442.0,94.2 442.0,96.9 442.0,99.4 442.1,102.9 442.1,104.9 442.2,107.1 442.2,109.7 442.2,112.9 442.3,114.6 442.3,117.7 442.4,119.8 442.4,121.9 442.5,124.8 442.5,126.0 442.6,128.4 442.6,130.0 442.6,131.6 442.7,132.7 442.7,134.7 442.8,136.2 442.9,138.8 442.9,140.3 443.0,142.3 443.1,143.7 443.2,145.8 443.3,146.4 443.4,148.1 443.5,150.1 443.6,151.5 443.7,153.6 443.8,154.4 443.9,156.6 444.0,157.8 444.1,160.2 444.2,160.9 444.4,162.0 444.5,163.8 444.7,165.1 444.9,166.0 445.2,168.3 445.5,169.6 445.9,171.8 446.3,173.5 446.6,174.2 447.0,176.3 447.5,177.7 448.0,179.3 448.6,179.9 449.6,180.7 450.5,180.4 451.1,179.0 451.7,177.2 452.2,175.8 452.7,174.6 453.2,173.3 453.7,170.6 454.1,169.8 454.4,168.4 454.8,167.7 455.1,165.2 455.7,164.2 456.2,162.5 456.6,160.5 457.1,159.0 457.6,157.6 458.0,156.3 458.4,154.2 458.9,153.6 459.4,152.6 460.1,150.3 460.8,149.4 462.0,148.5 463.3,148.7 464.4,149.9 465.4,150.9 466.5,152.0 467.5,153.3 468.6,154.0 469.7,156.0 470.8,157.2 471.5,157.7 472.1,159.4 472.8,160.6 473.5,162.1 474.1,163.9 474.8,165.6 475.5,166.5 476.1,168.3 476.8,170.3 477.5,171.4 478.2,173.7 478.8,175.0 479.5,175.9 480.2,177.0 480.9,178.8 481.6,180.3 482.2,181.6 482.9,183.2 483.6,185.3 484.3,185.9 485.0,187.2 485.6,188.1 486.3,188.7 486.9,190.3 487.9,192.1 488.9,194.3 489.9,195.0 490.9,196.1 492.0,197.4 493.2,198.7 494.5,199.7 495.8,200.4 497.2,200.5 498.5,202.0 499.7,202.1 500.9,202.5 502.3,204.0 503.5,204.9 504.8,205.8 506.1,206.6 507.5,206.4 508.9,206.4 510.3,206.6 511.9,206.3 513.1,205.9 514.5,205.1 516.0,205.1 517.8,204.0 519.0,202.4 520.3,202.1 521.6,200.8 522.9,200.4 524.1,199.6 525.3,198.3 526.4,198.0 527.9,196.7 529.2,195.8 530.4,194.4 531.5,193.5 532.6,193.3 533.8,192.6 535.0,190.7 536.2,190.0 537.4,189.4 538.6,187.8 539.8,186.7 541.2,185.5 542.6,184.8 543.7,183.3 544.9,183.3 546.2,182.1 547.6,180.7 549.0,179.4 550.5,177.8 551.9,177.2 553.4,175.3 554.7,174.7 556.0,173.9 557.2,172.2 558.3,171.1 559.9,170.5 561.3,168.7 562.7,169.0 563.9,168.3 565.1,167.4 565.6,167.1" stroke="#fa3030"/>
<path d="M442.0,20.0 442.0,21.8 442.0,22.8 442.0,25.8 442.0,28.0 442.0,30.9 442.0,33.5 442.0,37.1 442.0,40.5 442.0,43.7 442.0,47.1 442.1,50.9 442.1,53.7 442.1,57.3 442.1,61.1 442.1,63.9 442.1,67.9 442.1,70.1 442.2,74.0 442.2,77.2 442.2,79.7 442.2,82.8 442.3,85.6 442.3,88.4 442.3,91.2 442.4,93.7 442.4,96.5 442.4,98.8 442.5,102.2 442.5,104.9 442.5,107.4 442.6,109.8 442.6,112.4 442.7,115.0 442.7,117.4 442.8,120.1 442.8,122.5 442.9,124.3 442.9,126.1 443.0,127.8 443.0,129.9 443.0,131.2 443.1,133.3 443.1,133.8 443.2,135.5 443.3,138.6 443.4,139.9 443.5,142.5 443.6,143.1 443.7,144.8 443.8,146.7 443.9,148.4 444.0,149.9 444.1,151.7 444.2,153.2 444.3,155.0 444.4,157.5 444.5,158.5 444.6,159.5 444.8,161.5 444.9,161.9 445.0,163.8 445.3,165.3 445.6,167.6 445.9,169.5 446.3,171.4 446.7,172.5 447.0,173.7 447.5,175.1 447.9,176.4 448.5,178.4 449.2,178.7 450.2,178.4 450.9,176.0 451.4,175.2 451.9,173.9 452.3,173.4 452.8,170.8 453.3,168.9 453.8,167.9 454.2,166.2 454.6,165.3 454.9,164.1 455.3,162.1 455.8,160.9 456.4,159.1 456.9,157.0 457.4,155.2 458.0,153.3 458.5,153.0 459.0,151.7 459.6,150.1 460.3,148.6 461.3,147.2 462.4,147.1 463.7,146.5 464.9,148.0 465.7,148.5 466.4,149.9 467.1,150.7 467.8,152.5 468.6,153.3 469.2,154.8 469.9,156.9 470.5,158.3 471.2,159.8 471.7,161.7 472.3,162.7 472.8,164.4 473.3,165.3 473.9,167.3 474.4,168.9 474.9,170.5 475.5,171.3 476.0,173.0 476.5,173.7 477.0,175.8 477.5,176.3 478.0,178.5 478.5,179.6 479.0,180.7 479.5,182.6 480.0,183.6 480.7,185.6 481.3,187.0 482.0,188.6 482.6,190.3 483.2,191.8 483.9,192.9 484.7,194.7 485.6,195.6 486.7,196.5 488.1,197.5 489.4,197.6 491.0,198.3 492.3,198.6 493.6,199.0 495.0,199.2 496.3,199.7 497.9,200.5 499.3,200.0 500.7,199.8 502.0,200.1 503.3,199.8 504.7,199.2 506.2,199.1 507.7,199.7 509.1,199.4 510.6,199.7 511.9,198.3 513.3,197.7 514.9,197.2 516.4,196.2 518.0,195.5 519.6,194.1 521.1,193.8 522.7,192.8 524.3,192.3 526.0,191.4 527.6,190.5 529.0,190.0 530.3,189.1 531.7,188.2 533.1,188.2 534.4,187.4 535.6,187.3 536.8,186.6 537.8,185.1 538.9,185.0 540.1,182.9 541.2,182.3" stroke="#ec1488"/>
</g>
<path d="M418.0,248.98h3.8M699.7,248.98h-3.8M418.0,212.90h3.8M699.7,212.90h-3.8M418.0,176.82h3.8M699.7,176.82h-3.8M418.0,140.74h3.8M699.7,140.74h-3.8M418.0,104.66h3.8M699.7,104.66h-3.8M418.0,68.58h3.8M699.7,68.58h-3.8M418.0,32.50h3.8M699.7,32.50h-3.8M423.50,258.0v-3.8M423.50,23.4v3.8M484.82,258.0v-3.8M484.82,23.4v3.8M546.15,258.0v-3.8M546.15,23.4v3.8M607.48,258.0v-3.8M607.48,23.4v3.8M668.80,258.0v-3.8M668.80,23.4v3.8" stroke="#222" stroke-width="1.0" fill="none"/>
<rect x="418.0" y="23.4" width="281.7" height="234.6" fill="none" stroke="#1a1a1a" stroke-width="1.45"/>
<clipPath id="clipc"><rect x="61.3" y="320.5" width="281.7" height="234.5"/></clipPath>
<g clip-path="url(#clipc)" fill="none" stroke-width="1.95" stroke-linejoin="round" stroke-linecap="round">
<path d="M82.5,317.5 82.5,319.3 82.5,321.7 82.5,323.3 82.5,325.6 82.5,328.5 82.6,331.8 82.6,334.7 82.6,337.5 82.6,340.9 82.6,344.5 82.6,347.6 82.6,351.5 82.7,354.5 82.7,358.2 82.7,361.3 82.7,365.3 82.7,368.4 82.8,371.7 82.8,374.6 82.8,377.8 82.8,379.7 82.9,382.4 82.9,385.5 82.9,388.4 82.9,391.4 83.0,394.2 83.0,396.6 83.1,398.8 83.1,402.5 83.1,405.5 83.2,407.3 83.2,410.7 83.2,412.6 83.3,415.3 83.3,417.2 83.4,419.4 83.4,422.1 83.4,423.7 83.5,425.7 83.5,427.8 83.5,429.2 83.6,430.5 83.6,431.6 83.7,434.3 83.7,437.3 83.8,438.7 83.9,439.9 83.9,441.9 84.0,443.5 84.1,445.2 84.1,446.1 84.2,448.1 84.2,450.6 84.3,452.4 84.4,454.6 84.4,456.3 84.5,458.4 84.5,460.2 84.6,462.3 84.7,464.9 84.8,466.6 84.8,468.9 84.9,471.0 85.0,472.7 85.1,474.9 85.2,477.1 85.3,478.9 85.4,481.1 85.5,483.1 85.6,485.3 85.7,486.9 85.8,488.6 85.9,489.8 86.0,490.6 86.1,492.5 86.3,494.9 86.4,495.7 86.6,497.6 86.7,499.0 86.9,500.4 87.1,501.8 87.4,503.5 87.7,504.4 88.2,505.6 89.2,505.9 90.0,504.4 90.5,503.1 91.1,501.6 91.6,499.6 92.1,498.4 92.5,497.2 92.9,495.0 93.2,494.0 93.6,493.1 93.9,490.7 94.2,490.2 94.6,487.4 94.8,486.2 95.0,484.2 95.3,482.6 95.6,480.5 95.9,477.7 96.1,476.1 96.2,475.0 96.4,473.0 96.6,471.4 96.8,469.2 96.9,468.1 97.1,466.8 97.3,465.3 97.4,463.2 97.6,461.5 97.8,460.2 97.9,458.9 98.1,457.3 98.2,455.8 98.4,454.7 98.6,452.1 98.8,450.3 99.1,448.1 99.2,445.7 99.4,443.8 99.6,442.2 99.7,440.6 99.9,438.9 100.1,437.7 100.2,436.0 100.4,434.7 100.5,433.4 100.7,431.7 100.8,430.4 101.0,428.3 101.2,426.7 101.5,424.8 101.7,423.3 102.0,421.8 102.2,419.5 102.4,418.2 102.6,417.1 102.9,415.1 103.2,413.7 103.6,411.1 103.9,410.3 104.3,408.7 104.8,407.5 105.2,406.0 105.9,404.3 106.7,403.5 107.7,404.2 108.2,405.1 108.7,407.1 109.1,408.7 109.4,409.9 109.7,411.5 110.1,413.8 110.5,414.5 111.3,416.0 112.5,416.5 113.7,417.0 114.8,417.5 115.5,419.2 116.0,420.1 116.4,421.5 116.7,422.5 117.1,424.7 117.4,425.5 117.7,427.6 117.9,428.6 118.1,430.1 118.4,431.8 118.6,433.3 118.9,435.4 119.2,436.5 119.6,437.2 120.0,439.3 120.5,440.9 121.3,440.9 121.9,439.8 122.2,438.3 122.5,436.6 122.7,435.8 123.1,434.5 123.4,432.4 123.8,431.1 124.1,429.9 124.8,429.2 125.3,430.0 125.6,432.2 125.8,433.6 126.1,435.5 126.2,436.8 126.4,437.9 126.5,439.5 126.7,442.0 126.8,444.5 126.9,446.4 127.1,448.1 127.2,451.5 127.4,453.6 127.5,455.6 127.7,458.2 127.9,461.2 128.1,463.1 128.4,465.9 128.5,466.9 128.6,468.5 128.7,470.2 128.9,471.0 129.0,472.5 129.1,474.0 129.3,475.3 129.4,476.5 129.7,478.9 129.9,481.5 130.2,483.2 130.4,486.3 130.7,487.9 130.9,491.1 131.1,493.0 131.3,494.5 131.6,497.2 131.8,499.2 132.1,500.9 132.3,502.5 132.6,504.3 133.0,505.9 133.3,507.2 133.8,508.3 134.4,510.6 135.0,511.8 135.6,512.4 136.4,514.5 137.2,515.8 138.1,516.7 139.1,518.5 140.1,519.7 141.2,521.1 142.3,522.3 143.4,522.6 144.7,524.2 146.0,524.7 147.3,525.2 148.6,525.7 150.0,526.8 151.5,525.9 152.9,526.3 154.4,526.6 156.0,525.6 157.3,525.4 158.8,524.8 160.5,524.2 161.7,523.4 163.0,522.9 164.2,521.7 165.5,520.9 166.8,520.6 168.0,520.0 169.1,519.0 170.7,518.4 172.1,516.9 173.3,515.4 174.4,514.1 175.6,513.7 176.7,511.9 177.9,510.7 179.1,509.6 180.4,508.4 181.7,507.4 183.0,506.3 184.3,504.7 185.2,504.0 186.1,503.0 187.0,501.4 188.0,500.0 189.0,499.1 190.0,497.1 191.1,494.9 192.2,494.0 193.2,491.7 194.3,490.1 195.3,488.3 196.2,486.6 197.1,485.1 197.9,484.1 198.7,481.1 199.4,480.0 200.1,478.1 200.8,476.5 201.5,475.6 202.1,473.8 202.7,472.4 203.3,471.6 203.9,469.8 204.5,468.5 205.0,467.0 205.6,465.6 206.1,463.9 206.6,462.1 207.1,461.5 207.6,460.3 208.0,458.8 208.5,457.4 208.9,456.0 209.5,454.4 210.1,452.9 210.6,451.0 211.0,449.8 211.5,448.8 211.8,446.3 212.1,445.9 212.5,443.8 212.8,441.8 213.1,439.8 213.4,437.1 213.7,435.2 214.0,433.1 214.3,430.6 214.6,427.8 214.9,426.0 215.2,423.6 215.4,421.6 215.7,419.1 215.9,416.6 216.1,414.9 216.3,412.8 216.5,410.7 216.6,408.6 216.8,406.1 217.0,403.8 217.2,401.8 217.4,399.6 217.6,396.9 217.8,394.1 218.0,392.2 218.2,388.8 218.3,387.9 218.4,387.1 218.6,384.2 218.8,381.1 219.0,379.1 219.2,377.5 219.4,373.7 219.6,371.6 219.7,371.1 219.8,369.1 219.9,367.9 220.0,366.5 220.1,364.7 220.3,362.7 220.5,360.3 220.7,358.5 220.9,357.0 221.2,355.1 221.8,356.3 222.0,358.4 222.2,359.8 222.4,361.8 222.6,364.5 222.8,366.5 223.0,369.5 223.2,371.9 223.4,373.7 223.6,375.8 223.8,378.1 224.0,380.8 224.2,383.5 224.3,384.8 224.4,385.7 224.5,387.4 224.6,388.4 224.7,389.9 224.8,391.7 225.0,393.9 225.2,396.6 225.4,398.4 225.6,401.0 225.9,403.6 226.1,405.7 226.4,408.8 226.6,410.3 226.9,413.0 227.1,413.9 227.4,416.2 227.7,418.6 227.9,420.8 228.2,422.3 228.5,424.1 228.8,425.5 229.0,426.9 229.3,428.5 229.6,430.2 229.9,431.2 230.3,432.8 230.6,434.0 231.2,435.5 231.6,436.6 232.2,438.7 232.9,441.0 233.6,441.3 234.3,443.0 235.4,444.0 236.5,442.7 237.3,441.5 237.8,441.0 238.5,439.2 239.3,437.9 239.9,436.3 240.5,434.8 241.1,433.5 241.7,432.5 242.4,430.1 243.1,427.6 243.9,425.9 244.7,425.0 245.6,423.4 246.6,420.9 247.7,418.8 248.8,417.2 250.0,415.7 251.3,413.6 252.6,411.8 254.0,409.3 255.3,408.0 256.7,406.4 258.0,404.6 259.3,402.9 260.6,401.5 261.8,401.0 263.1,400.1 264.3,398.9 265.6,398.2 266.9,397.3 268.1,397.4 269.4,396.2 270.6,395.8 271.9,394.2 273.2,393.3 274.5,393.1 275.8,392.2 277.1,391.3 278.4,389.8 279.7,389.0 281.0,388.2 282.2,387.0 283.4,386.4 284.6,385.6 285.7,384.0 286.8,383.3 287.9,382.2 288.9,380.9 289.9,380.2 290.9,379.8 291.9,378.3 292.8,377.5 293.8,377.0 294.7,375.5 295.6,374.4 296.5,373.7 297.3,372.3 298.6,371.4 299.8,369.4 301.1,367.9 301.9,367.1 302.8,366.1 303.8,364.8 304.9,363.7 306.0,362.3 307.2,361.6 308.4,359.9 309.6,359.5 310.8,358.7 311.8,357.3 313.1,356.3 313.7,355.2" stroke="#2a35f0"/>
<path d="M82.8,317.5 82.8,318.6 82.8,321.0 82.8,323.5 82.8,325.5 82.8,328.4 82.9,331.2 82.9,334.6 82.9,337.8 82.9,340.7 82.9,344.2 82.9,347.9 82.9,351.6 83.0,355.1 83.0,358.6 83.0,361.6 83.0,365.0 83.0,368.1 83.1,372.2 83.1,374.0 83.1,377.7 83.1,380.1 83.2,383.0 83.2,386.2 83.2,388.6 83.2,391.2 83.3,393.7 83.3,397.1 83.4,399.4 83.4,402.1 83.4,405.4 83.5,407.6 83.5,410.5 83.5,412.5 83.6,414.9 83.6,416.9 83.7,418.9 83.7,421.8 83.7,423.7 83.8,425.8 83.8,428.1 83.8,429.3 83.9,430.8 83.9,432.2 84.0,434.9 84.0,436.3 84.1,438.5 84.2,440.6 84.2,441.6 84.3,444.2 84.4,444.6 84.5,446.6 84.5,448.8 84.6,450.4 84.7,452.4 84.7,454.9 84.8,456.8 84.9,458.4 85.0,460.3 85.0,462.6 85.1,464.9 85.2,466.6 85.4,468.3 85.5,469.7 85.6,472.1 85.7,473.8 85.9,475.9 86.0,478.1 86.2,479.8 86.3,481.1 86.5,483.5 86.7,484.7 86.9,486.4 87.1,487.2 87.4,488.9 87.7,490.9 88.0,492.8 88.2,493.4 88.7,494.7 89.1,496.7 89.7,496.7 90.7,496.8 91.2,495.0 91.7,494.2 92.2,492.1 92.5,490.8 92.9,489.5 93.3,487.6 93.6,485.7 93.9,484.5 94.2,483.6 94.4,481.9 94.7,479.4 95.0,478.5 95.3,476.3 95.6,474.5 95.9,472.3 96.2,470.4 96.5,467.0 96.8,465.4 97.1,463.6 97.4,461.4 97.8,459.5 98.1,456.6 98.4,454.4 98.7,451.9 99.0,449.2 99.2,447.1 99.6,444.8 99.9,442.3 100.2,439.9 100.4,438.5 100.8,437.3 101.1,435.2 101.4,434.2 101.8,432.4 102.2,431.2 102.7,429.5 103.2,428.5 103.8,426.7 104.4,425.1 105.2,424.4 106.4,423.2 107.7,424.6 108.6,425.0 109.6,425.5 110.8,426.6 112.0,427.5 113.4,427.2 114.7,427.5 115.6,428.7 116.2,430.6 116.8,432.2 117.4,433.4 118.0,434.6 118.6,436.9 119.1,437.6 119.5,438.7 120.0,440.2 120.5,442.1 121.4,443.1 122.1,440.9 122.6,439.3 123.0,438.1 123.7,437.5 124.3,439.2 124.7,439.8 125.2,441.5 125.5,442.6 125.8,444.6 126.1,446.5 126.3,448.0 126.5,449.2 126.7,450.8 126.9,452.8 127.0,454.2 127.2,455.4 127.4,458.6 127.6,459.8 127.8,463.1 128.1,464.8 128.3,467.1 128.6,469.9 128.8,472.2 129.1,475.5 129.3,476.1 129.4,477.7 129.6,477.8 129.7,479.9 129.9,481.2 130.1,483.3 130.2,483.5 130.5,486.5 130.8,489.2 131.1,490.7 131.4,493.9 131.7,495.9 132.0,497.4 132.3,499.3 132.6,501.2 132.9,503.2 133.2,504.0 133.5,506.1 133.8,507.4 134.1,509.1 134.7,510.9 135.2,512.2 135.7,513.6 136.5,514.7 137.4,516.4 138.3,517.7 139.1,518.5 139.9,520.1 140.9,520.4 141.8,522.0 142.7,522.4 144.0,524.1 145.2,524.2 146.6,525.4 148.1,525.6 149.7,525.4 151.1,525.8 152.5,526.5 154.0,525.8 155.6,526.2 156.9,525.7 158.3,525.3 159.9,525.2 161.7,524.0 163.0,523.4 164.2,523.0 165.5,521.9 166.8,522.0 168.0,520.8 169.1,520.1 170.7,518.9 172.1,517.8 173.3,516.2 174.4,515.3 175.6,514.2 176.7,512.7 177.9,511.0 179.1,510.3 180.4,509.5 181.7,507.6 183.0,506.7 184.3,505.9 185.2,504.1 186.1,503.0 187.0,502.4 188.0,501.2 189.0,499.5 190.0,497.6 191.1,496.1 192.2,493.8 193.2,492.0 194.3,490.7 195.3,489.0 196.2,486.3 197.1,484.8 197.9,483.9 198.7,482.2 199.4,480.2 200.1,479.3 200.8,477.8 201.5,476.0 202.1,474.4 202.7,473.3 203.3,472.1 203.9,469.9 204.5,468.9 205.0,467.9 205.6,466.1 206.1,464.8 206.6,462.9 207.1,461.6 207.6,460.7 208.0,459.4 208.5,457.9 208.9,456.1 209.5,454.8 210.1,453.4 210.6,452.0 211.0,450.6 211.5,449.4 212.0,447.2 212.3,446.0 212.6,443.6 212.9,442.3 213.2,440.5 213.5,438.5 213.8,436.6 214.1,434.5 214.4,432.2 214.7,430.3 215.0,427.3 215.3,426.1 215.6,423.4 215.9,421.1 216.2,418.7 216.5,416.3 216.8,414.6 217.1,412.5 217.4,409.7 217.7,407.6 218.0,405.2 218.3,402.7 218.6,400.8 218.8,399.4 218.9,398.4 219.1,396.5 219.2,395.3 219.3,394.1 219.5,391.9 219.7,390.9 219.8,389.9 220.0,388.6 220.2,385.8 220.6,384.0 220.9,381.8 221.3,381.0 222.1,382.6 222.4,383.8 222.7,385.8 223.0,387.4 223.2,389.8 223.6,392.2 223.9,394.0 224.2,396.3 224.4,398.6 224.7,399.3 225.1,401.3 225.3,404.2 225.7,406.8 225.9,408.3 226.2,410.6 226.6,413.4 226.9,415.1 227.2,416.7 227.4,418.9 227.7,420.1 228.0,421.7 228.3,424.2 228.5,424.8 228.8,426.5 229.1,428.0 229.4,429.2 229.7,430.5 230.1,432.0 230.5,433.4 230.9,434.6 231.4,436.1 231.9,437.4 232.4,438.7 232.9,439.6 233.7,441.7 234.5,443.3 235.6,443.6 236.7,442.3 237.3,440.9 237.9,439.7 238.6,437.7 239.3,436.9 240.2,434.7 241.0,433.3 241.9,431.8 242.6,430.8 243.3,429.7 244.0,428.0 244.8,427.0 245.7,425.5 246.6,424.0 247.6,421.6 248.8,421.0 250.0,419.1 251.3,417.0 252.6,415.2 254.0,413.4 255.3,411.1 256.7,409.0 258.0,408.4 259.3,406.9 260.6,405.6 261.8,404.4 263.1,403.9 264.3,402.6 265.6,401.7 266.9,401.0 268.1,400.6 269.4,399.6 270.6,398.7 271.9,398.2 273.2,397.1 274.5,396.2 275.8,395.6 277.1,394.2 278.4,393.5 279.7,393.1 281.0,391.7 282.2,391.0 283.4,390.1 284.6,388.7 285.7,387.9 286.8,387.0 287.9,386.0 288.9,385.0 289.9,384.1 290.9,383.3 291.9,382.3 292.8,380.6 293.8,379.7 294.7,379.3 295.6,378.0 296.6,377.5 297.5,376.4 298.4,374.4 299.2,374.3 300.5,372.9 301.8,371.3 302.9,369.8 304.1,369.0 305.2,367.9 306.3,366.5 307.3,365.6 308.5,364.4 309.6,363.2" stroke="#22a8ff"/>
<path d="M83.0,317.5 83.0,319.5 83.0,321.1 83.0,323.4 83.0,325.5 83.0,328.3 83.1,331.5 83.1,334.1 83.1,337.5 83.1,340.7 83.1,344.8 83.1,347.8 83.1,351.4 83.2,355.4 83.2,358.4 83.2,361.8 83.2,364.7 83.2,368.4 83.3,371.4 83.3,374.6 83.3,377.4 83.3,380.1 83.4,383.0 83.4,385.7 83.4,388.2 83.4,391.4 83.5,393.7 83.5,396.9 83.6,399.8 83.6,402.7 83.6,404.9 83.7,407.4 83.7,409.8 83.7,412.7 83.8,415.1 83.8,417.1 83.9,419.5 83.9,421.3 83.9,423.5 84.0,426.0 84.0,427.7 84.0,428.4 84.1,430.9 84.1,432.0 84.2,434.3 84.2,436.4 84.3,438.4 84.4,440.1 84.4,441.3 84.5,443.4 84.6,444.7 84.7,446.5 84.7,448.7 84.8,450.0 84.9,452.6 85.0,454.8 85.0,455.8 85.1,458.5 85.2,460.7 85.3,462.9 85.4,464.2 85.5,466.6 85.7,468.7 85.8,470.7 85.9,472.0 86.1,474.1 86.3,476.2 86.4,478.0 86.6,479.9 86.8,481.3 87.0,483.4 87.2,485.1 87.5,487.1 87.9,488.6 88.3,489.3 88.9,491.1 89.6,492.4 90.7,492.5 91.5,491.6 92.0,490.2 92.6,488.0 93.0,487.6 93.4,485.4 93.9,483.8 94.2,482.9 94.5,481.1 94.8,479.6 95.1,478.3 95.5,476.1 95.8,474.9 96.1,473.2 96.4,471.0 96.7,468.9 97.0,466.8 97.2,464.7 97.6,462.8 97.9,461.3 98.2,458.7 98.5,456.8 98.8,454.3 99.1,452.2 99.4,449.9 99.7,447.6 100.0,446.5 100.3,443.5 100.6,441.6 100.9,440.3 101.2,438.2 101.4,437.2 101.7,435.4 102.1,434.1 102.5,432.0 102.9,430.9 103.4,429.2 103.9,428.5 104.6,426.6 105.3,425.4 106.4,425.0 107.5,425.6 108.4,426.7 109.4,427.7 110.6,427.4 111.8,428.6 113.2,429.2 114.6,429.8 115.4,429.9 116.1,432.2 116.7,433.5 117.2,435.0 117.9,436.2 118.5,438.0 119.1,439.9 119.7,440.6 120.3,442.5 121.0,443.1 122.1,443.2 122.6,442.0 123.6,440.7 124.4,442.0 124.9,443.2 125.2,445.4 125.5,446.9 125.8,448.2 126.0,449.1 126.2,450.8 126.5,452.7 126.7,455.0 127.0,456.7 127.3,458.8 127.5,460.5 127.8,462.3 128.1,465.0 128.4,467.3 128.5,468.6 128.6,470.7 128.8,472.0 128.9,473.1 129.1,475.1 129.2,475.9 129.4,477.6 129.5,478.8 129.7,480.8 129.8,481.5 130.0,483.5 130.2,484.4 130.3,486.2 130.5,487.4 130.8,489.6 131.1,491.4 131.5,494.4 131.8,496.0 132.1,498.2 132.5,500.0 132.8,502.4 133.2,503.7 133.6,505.9 133.9,507.1 134.3,508.8 134.7,509.4 135.2,511.8 135.8,512.7 136.3,513.5 137.1,515.5 138.1,516.7 138.8,518.2 139.6,519.1 140.5,520.4 141.5,521.1 142.7,522.5 144.0,523.6 145.2,523.6 146.5,524.0 147.8,524.9 149.1,524.4 150.5,525.0 151.8,524.7 153.2,525.5 154.6,525.7 156.1,526.0 157.8,525.6 159.3,524.9 161.1,524.3 162.3,523.4 163.6,523.2 164.9,522.1 166.1,521.5 167.4,521.0 168.6,520.0 169.7,519.3 171.2,517.5 172.5,516.7 173.7,515.5 174.8,514.6 175.9,513.8 177.1,511.8 178.3,510.6 179.6,509.8 180.8,508.6 182.1,507.6 183.4,506.6 184.7,504.7 185.6,503.9 186.5,502.5 187.5,501.3 188.5,500.2 189.5,497.9 190.6,496.8 191.6,494.3 192.7,492.8 193.8,491.2 194.8,489.5 195.8,487.8 196.7,486.3 197.5,483.8 198.3,482.5 199.1,481.4 199.8,479.5 200.5,477.9 201.1,476.3 201.8,475.2 202.4,473.3 203.0,472.1 203.6,471.3 204.2,469.3 204.8,467.9 205.3,466.7 205.8,464.9 206.4,463.4 206.9,462.2 207.3,461.1 207.8,459.8 208.3,458.1 208.9,456.8 209.5,454.1 210.1,454.0 210.7,452.3 211.4,450.7 211.8,449.0 212.3,447.9 212.6,445.9 212.9,444.6 213.2,443.0 213.5,440.3 213.8,439.5 214.1,437.4 214.4,435.0 214.7,433.5 215.0,431.2 215.3,429.2 215.6,427.2 215.9,425.3 216.2,422.7 216.5,420.1 216.8,418.1 217.1,415.8 217.4,414.4 217.7,411.7 218.0,410.0 218.3,408.1 218.6,405.6 218.9,403.2 219.2,401.5 219.5,398.6 219.8,396.6 220.1,394.7 220.4,393.4 220.7,392.5 221.3,390.5 222.2,391.9 222.5,393.5 222.9,395.3 223.2,396.6 223.6,398.8 223.9,401.1 224.3,402.6 224.6,404.4 225.0,405.8 225.3,407.6 225.6,409.6 225.9,411.6 226.2,414.0 226.4,415.2 226.7,417.1 227.0,419.0 227.3,420.9 227.6,422.9 228.0,424.1 228.3,425.2 228.6,427.0 229.0,428.5 229.3,430.2 229.7,431.0 230.0,432.0 230.6,434.0 231.1,435.7 231.7,437.0 232.2,438.8 232.8,440.3 233.6,441.4 234.6,442.9 235.9,442.6 236.7,441.5 237.4,439.7 238.2,438.9 238.9,438.1 239.7,436.3 240.6,435.0 241.4,433.5 242.2,433.0 243.1,431.4 244.1,429.8 244.9,428.4 245.7,427.4 246.6,425.5 247.6,424.6 248.8,422.8 250.0,421.5 251.2,419.2 252.6,417.7 253.9,416.0 255.3,413.8 256.7,412.0 258.0,410.1 259.3,408.7 260.6,408.2 261.8,406.1 263.1,405.8 264.3,404.9 265.6,404.3 266.9,403.1 268.1,402.9 269.4,401.6 270.6,401.1 271.9,400.5 273.2,399.6 274.5,397.7 275.8,397.1 277.1,396.6 278.4,395.8 279.7,394.4 281.0,394.0 282.2,393.0 283.4,392.3 284.6,391.5 285.7,389.6 286.8,388.5 287.9,388.0 288.9,386.8 289.9,386.0 290.9,384.6 291.8,383.6 292.8,382.9 293.8,382.2 294.7,380.8 295.7,379.9 296.7,379.6 297.7,377.8 298.7,377.4 299.7,376.1 300.7,374.8 301.9,373.2 303.0,372.5 303.5,372.0" stroke="#00c4cc"/>
<path d="M83.3,317.5 83.3,318.5 83.3,321.2 83.3,323.5 83.3,326.2 83.3,328.4 83.3,331.9 83.3,334.6 83.3,337.9 83.3,340.8 83.4,344.1 83.4,347.7 83.4,351.8 83.4,354.5 83.4,358.5 83.4,361.9 83.4,365.4 83.4,368.2 83.5,371.8 83.5,374.7 83.5,377.3 83.5,379.8 83.6,383.2 83.6,385.5 83.6,388.2 83.7,391.2 83.7,394.0 83.7,397.7 83.8,400.2 83.8,402.1 83.9,405.4 83.9,407.6 84.0,410.0 84.0,412.6 84.0,415.1 84.1,417.6 84.1,419.5 84.2,421.8 84.2,423.6 84.3,425.6 84.3,427.9 84.3,429.3 84.4,430.5 84.4,432.3 84.5,434.3 84.5,437.1 84.6,438.7 84.7,439.8 84.7,442.3 84.8,442.9 84.9,444.9 85.0,446.6 85.0,448.4 85.1,451.2 85.2,452.0 85.3,454.3 85.3,456.9 85.4,458.8 85.5,460.5 85.6,462.8 85.7,464.3 85.8,466.9 86.0,468.2 86.1,470.5 86.3,472.2 86.5,473.4 86.6,475.8 86.8,477.6 87.0,478.6 87.2,480.0 87.5,481.8 87.8,483.2 88.2,485.1 88.7,486.7 89.4,487.5 90.5,488.7 91.7,488.4 92.3,487.1 92.9,485.3 93.4,483.4 93.9,482.6 94.3,481.2 94.8,478.9 95.2,477.2 95.5,476.0 95.8,473.9 96.1,473.1 96.5,471.2 96.8,470.1 97.1,468.4 97.4,466.9 97.7,464.7 98.0,463.3 98.2,460.9 98.6,459.2 98.9,457.4 99.2,455.8 99.5,453.8 99.8,451.5 100.1,449.2 100.4,448.3 100.7,446.0 101.0,443.9 101.3,442.5 101.6,440.3 101.9,439.8 102.2,438.7 102.5,436.6 102.9,434.6 103.2,433.5 103.7,431.6 104.2,430.4 104.8,429.4 105.5,428.4 106.5,426.8 107.8,427.8 108.8,428.4 110.0,429.0 111.2,429.4 112.4,430.5 113.6,431.2 114.6,432.8 115.5,433.9 116.3,435.0 116.9,436.7 117.5,437.8 118.1,439.8 118.7,440.2 119.5,441.8 120.1,443.1 120.7,444.1 121.4,445.9 122.2,447.2 122.9,448.2 123.8,449.5 124.6,450.4 125.2,452.1 125.6,453.9 125.9,455.4 126.2,456.0 126.5,458.2 126.8,459.9 127.1,462.1 127.4,463.6 127.7,465.8 128.0,467.9 128.3,469.7 128.6,471.4 128.9,473.7 129.2,476.4 129.5,478.6 129.8,482.1 130.0,483.1 130.2,485.3 130.6,488.3 130.9,490.3 131.2,491.9 131.4,494.4 131.7,496.2 132.0,498.4 132.3,500.3 132.6,501.6 132.9,503.6 133.2,504.9 133.5,506.2 133.8,507.6 134.1,508.8 134.7,510.4 135.2,511.7 135.7,513.6 136.5,514.6 137.4,515.7 138.3,516.8 139.4,517.6 140.5,520.1 141.7,519.9 143.0,521.4 144.3,522.3 145.6,522.8 147.0,523.7 148.5,523.1 149.9,523.2 151.3,524.1 152.6,523.4 154.2,522.8 155.5,523.6 157.0,523.3 158.3,522.5 159.9,522.4 161.6,521.5 162.9,521.1 164.2,520.3 165.5,519.8 166.8,518.9 168.0,518.7 169.1,517.7 170.7,516.5 172.1,515.4 173.3,514.3 174.4,513.1 175.6,512.1 176.7,511.0 177.9,510.3 179.1,508.6 180.4,507.6 181.7,506.3 183.0,505.5 184.3,503.9 185.6,503.0 186.5,501.0 187.5,500.1 188.5,499.4 189.5,497.5 190.6,496.1 191.6,494.1 192.7,492.4 193.8,490.6 194.8,488.8 195.8,486.9 196.7,485.5 197.5,483.6 198.3,481.7 199.1,480.8 199.8,478.9 200.5,477.8 201.1,476.5 201.8,474.3 202.4,473.2 203.0,471.1 203.6,469.8 204.2,468.7 204.8,467.2 205.3,465.4 205.8,464.6 206.4,463.2 206.9,462.1 207.3,460.3 207.8,459.1 208.3,457.5 208.7,456.1 209.1,454.9 209.7,453.6 210.2,451.5 210.7,449.6 211.1,448.6 211.6,446.1 211.9,444.6 212.3,443.6 212.7,441.9 213.1,439.3 213.5,437.5 213.9,434.8 214.3,432.1 214.7,429.8 215.1,427.5 215.5,425.0 215.9,422.4 216.3,420.0 216.7,418.6 217.1,416.4 217.5,414.6 217.9,412.0 218.3,410.6 218.7,408.4 219.1,406.8 219.5,406.4 220.1,404.2 221.3,405.1 221.9,406.0 222.5,407.7 222.9,409.4 223.3,410.2 223.7,412.5 224.1,413.5 224.7,415.1 225.2,417.2 225.6,418.3 225.9,419.6 226.3,421.0 226.6,421.6 226.9,423.8 227.5,425.5 228.0,427.0 228.4,428.2 228.8,430.2 229.2,431.9 229.7,432.8 230.5,433.9 231.6,435.3 233.2,436.1 234.5,436.4 235.9,436.2 237.4,435.5 238.8,435.4 240.0,435.0 241.4,433.9 242.5,432.7 243.3,431.3 244.2,429.9 245.3,428.0 246.1,426.9 247.1,426.4 248.2,424.7 249.3,423.5 250.6,421.9 251.9,419.9 253.3,418.0 254.6,416.4 256.0,414.9 257.3,413.1 258.7,411.8 259.9,410.1 261.2,409.4 262.5,408.8 263.7,407.6 265.0,407.0 266.2,405.6 267.5,405.1 268.7,404.2 270.0,404.0 271.3,402.6 272.5,401.4 273.8,400.7 275.1,400.0 276.3,398.8 277.6,398.1 278.9,396.9 280.1,395.9 281.4,394.2 282.7,393.6 284.0,392.4 285.3,391.0 286.6,390.2 288.1,388.3 289.6,386.9 291.1,385.1 292.6,384.5 293.9,383.0 295.2,382.1 296.3,381.0 297.5,379.4" stroke="#00c890"/>
<path d="M86.0,320.0 86.0,321.5 86.0,324.0 86.0,326.1 86.0,328.6 86.0,330.5 86.0,333.3 86.0,336.9 86.0,339.8 86.1,343.8 86.1,347.0 86.1,351.0 86.1,353.1 86.1,357.7 86.1,360.9 86.1,364.2 86.1,367.5 86.1,371.5 86.2,374.5 86.2,377.3 86.2,379.6 86.2,382.4 86.2,385.3 86.3,388.8 86.3,390.4 86.3,394.0 86.3,396.3 86.4,398.7 86.4,401.8 86.4,404.8 86.5,407.9 86.5,409.5 86.5,412.2 86.6,414.6 86.6,416.8 86.6,419.3 86.7,422.0 86.7,424.5 86.7,426.1 86.8,427.9 86.8,430.0 86.8,431.9 86.9,433.5 86.9,435.0 86.9,436.1 87.0,437.8 87.0,439.4 87.0,440.6 87.1,442.6 87.2,445.2 87.2,448.1 87.3,449.6 87.4,451.8 87.5,454.2 87.5,456.2 87.6,457.7 87.7,461.0 87.8,462.3 87.9,465.0 88.0,467.0 88.1,468.7 88.2,470.7 88.3,472.4 88.4,474.1 88.6,475.7 88.7,477.2 88.9,479.1 89.1,480.3 89.4,482.2 89.7,483.9 90.0,485.2 90.4,486.2 90.8,488.0 91.8,488.5 92.5,487.0 93.0,485.9 93.5,484.0 93.9,482.6 94.3,480.7 94.6,478.8 94.9,477.8 95.2,476.1 95.5,474.9 95.9,473.7 96.2,471.8 96.5,470.0 96.8,468.2 97.2,466.3 97.5,465.0 97.9,463.1 98.2,460.9 98.6,459.0 98.9,457.2 99.3,455.5 99.6,453.2 100.0,452.2 100.4,450.6 100.7,448.8 101.1,447.0 101.4,445.8 101.8,444.5 102.1,443.0 102.5,441.1 102.8,439.6 103.3,438.5 103.8,437.1 104.3,435.7 104.9,434.8 105.7,433.7 106.5,432.2 107.4,431.3 108.6,430.1 110.0,431.2 111.0,431.9 112.0,433.8 112.9,434.0 113.7,435.6 114.6,436.1 115.4,438.1 116.2,439.4 117.0,440.6 117.8,442.1 118.6,442.8 119.4,444.6 120.0,445.9 120.6,447.3 121.4,449.2 122.0,450.1 122.6,450.9 123.2,452.0 123.8,454.2 124.2,455.9 124.6,457.3 125.0,459.1 125.4,460.3 125.8,462.3 126.2,464.2 126.6,466.1 127.0,467.5 127.4,469.1 127.8,471.1 128.2,472.7 128.6,474.7 128.9,476.6 129.3,478.2 129.6,480.1 130.0,482.0 130.3,483.0 130.6,485.7 131.0,487.1 131.3,488.4 131.7,490.9 132.0,492.9 132.3,494.6 132.7,495.2 133.0,497.7 133.3,499.7 133.7,500.7 134.0,502.8 134.4,503.4 134.8,505.8 135.2,506.6 135.8,507.9 136.5,509.8 137.2,511.4 137.9,511.9 138.7,513.4 139.7,514.7 140.7,515.3 141.9,517.2 143.2,517.3 144.6,518.9 146.0,520.8 147.5,520.9 149.0,521.3 150.5,521.9 152.1,522.1 153.7,521.5 155.4,520.7 157.1,520.5 158.8,519.3 160.6,518.8 161.9,518.3 163.1,518.0 164.4,516.8 165.8,516.4 167.1,515.2 168.5,514.8 169.8,514.0 171.1,512.6 172.4,511.9 173.6,511.0 174.9,510.1 176.1,508.5 177.3,507.6 178.5,506.7 179.7,504.7 180.9,504.3 182.0,503.6 183.2,502.5 184.3,501.0 185.3,499.7 186.4,498.3 187.4,496.5 188.4,495.3 189.4,492.9 190.3,491.3 191.3,489.7 192.2,487.7 193.0,486.1 193.9,483.9 194.7,482.5 195.5,480.8 196.2,479.3 196.9,477.2 197.6,475.4 198.2,474.3 198.9,473.1 199.5,471.3 200.1,469.8 200.7,467.9 201.3,466.1 201.9,464.9 202.5,463.3 203.0,461.1 203.6,459.2 204.1,457.8 204.7,456.9 205.2,454.4 205.7,453.4 206.2,452.2 206.6,449.9 207.1,449.1 207.5,446.7 207.9,445.2 208.3,444.4 208.7,442.4 209.0,441.2 209.4,438.9 209.8,438.8 210.2,436.4 210.6,435.5 211.0,433.9 211.5,433.2 212.1,431.1 212.8,429.2 213.4,427.8 214.1,426.2 214.8,425.1 215.5,424.1 216.2,422.1 217.0,421.0 217.7,419.2 218.6,418.8 219.7,417.7 221.0,417.6 221.8,419.1 222.5,419.9 223.3,421.8 224.0,422.4 224.7,424.3 225.5,425.9 226.2,427.5 226.9,429.0 227.6,430.0 228.2,431.7 228.8,432.9 229.3,433.3 230.0,435.3 230.6,437.3 231.5,437.9 232.5,439.2 233.9,439.2 235.3,438.9 236.4,438.2 237.3,436.8 238.2,435.4 239.3,434.5 240.2,433.0 241.1,432.5 242.0,431.1 242.9,430.3 244.0,428.9 245.3,427.2 246.2,426.3 247.2,425.4 248.4,425.3 249.6,423.2 250.9,422.4 252.3,422.0 253.8,419.7 255.2,419.5 256.6,418.3 258.0,416.9 259.4,415.4 260.6,415.1 261.9,413.5 263.1,412.8 264.3,411.8 265.5,410.8 266.7,409.8 267.9,408.8 269.1,407.6 270.3,406.4 271.4,405.0 272.6,404.2 273.7,403.4 274.8,402.5 275.9,401.6 277.1,400.1 278.1,399.7 279.2,398.2 280.3,397.4 281.4,396.2 282.5,395.5 283.5,394.8 284.7,393.7 285.9,392.1 287.1,391.3 288.3,390.7 289.5,388.8 290.6,388.3 291.5,387.4 292.8,386.1 293.4,385.5" stroke="#22d822"/>
<path d="M84.8,320.0 84.8,321.7 84.8,323.8 84.8,325.8 84.8,328.5 84.8,331.5 84.8,334.0 84.8,337.0 84.8,339.9 84.9,343.6 84.9,346.7 84.9,350.4 84.9,354.0 84.9,357.6 84.9,361.2 84.9,364.6 84.9,368.2 84.9,370.5 85.0,374.1 85.0,377.1 85.0,379.5 85.0,382.8 85.0,385.2 85.1,388.2 85.1,390.9 85.1,393.7 85.1,396.6 85.2,399.7 85.2,402.3 85.2,404.7 85.3,407.5 85.3,410.1 85.3,411.9 85.4,415.1 85.4,417.1 85.4,419.0 85.5,421.2 85.5,423.9 85.5,425.6 85.6,428.3 85.6,430.0 85.6,431.8 85.7,433.0 85.7,434.8 85.7,436.8 85.8,438.1 85.8,439.8 85.9,441.0 85.9,443.2 86.0,445.4 86.1,447.7 86.2,449.6 86.3,452.2 86.4,454.3 86.4,455.9 86.5,457.8 86.6,460.5 86.7,462.3 86.8,464.7 86.9,466.6 87.0,468.4 87.1,470.3 87.2,471.9 87.3,473.1 87.5,474.5 87.6,476.3 87.8,477.3 88.1,479.8 88.3,481.0 88.7,482.6 89.0,484.0 89.4,485.3 90.1,486.4 91.0,485.2 91.7,483.8 92.2,482.7 92.7,481.1 93.1,479.3 93.6,477.7 94.0,475.7 94.3,475.2 94.6,473.7 94.9,472.1 95.2,470.5 95.5,468.8 95.8,467.5 96.2,465.8 96.5,464.6 96.8,463.4 97.2,461.7 97.5,459.7 97.9,458.2 98.3,456.6 98.6,455.9 99.0,454.7 99.3,451.9 99.7,451.4 100.2,449.9 100.7,448.1 101.3,446.4 101.8,444.7 102.3,443.8 102.8,442.4 103.5,441.1 104.1,439.8 104.9,438.4 105.7,437.7 106.8,436.3 108.1,435.3 109.5,436.4 110.7,437.2 111.8,438.2 112.8,438.6 113.8,440.8 114.6,441.2 115.4,442.4 116.2,443.0 117.0,444.9 117.8,446.7 118.4,447.4 119.0,449.1 119.6,450.0 120.2,451.7 120.8,453.2 121.4,454.4 122.0,455.7 122.6,457.9 123.2,459.1 123.6,460.7 124.0,462.6 124.4,463.6 124.8,465.2 125.2,466.1 125.6,468.1 126.0,470.2 126.4,471.4 126.8,472.7 127.2,475.2 127.6,476.4 128.0,478.2 128.4,480.1 128.8,481.1 129.2,483.4 129.6,484.8 130.0,486.0 130.4,487.7 130.8,489.6 131.2,490.2 131.6,492.6 132.0,494.1 132.4,494.9 132.8,497.2 133.1,498.5 133.5,499.6 133.9,500.7 134.3,502.0 134.7,503.7 135.3,505.2 136.0,506.7 136.8,508.6 137.6,510.6 138.5,511.2 139.4,512.1 140.4,513.8 141.4,514.1 142.3,514.8 143.6,516.2 144.9,517.2 146.2,517.8 147.7,518.7 149.5,518.3 150.9,518.4 152.5,518.0 154.1,518.1 155.8,516.8 157.6,516.2 159.4,515.8 160.6,514.7 161.9,514.7 163.2,514.2 164.6,512.6 166.0,512.0 167.4,511.0 168.8,509.5 170.1,509.0 171.3,507.9 172.5,507.6 174.0,506.5 175.3,504.8 176.4,504.5 177.5,503.3 178.5,502.3 179.6,501.4 180.8,500.2 181.7,498.6 182.6,497.5 183.6,495.9 184.6,494.3 185.6,492.8 186.6,491.1 187.5,489.6 188.5,488.2 189.4,486.2 190.2,484.8 191.0,483.0 191.8,482.1 192.5,480.0 193.2,479.1 193.9,477.6 194.5,475.7 195.2,474.9 195.8,471.8 196.4,472.0 197.0,470.2 197.6,468.6 198.2,466.8 198.7,465.7 199.3,463.9 199.8,462.3 200.3,461.0 200.8,459.0 201.3,457.6 201.8,456.1 202.3,455.0 202.8,454.4 203.4,451.5 204.0,450.6 204.6,448.6 205.2,447.0 205.8,445.8 206.4,444.2 207.0,443.2 207.6,441.9 208.2,440.1 208.8,439.0 209.6,437.7 210.4,436.9 211.2,435.0 212.0,434.1 212.8,432.4 213.8,431.8 215.0,429.9 216.0,430.1 217.1,428.5 218.5,428.1 219.9,428.4 221.3,428.2 222.3,430.5 223.4,431.8 224.6,432.5 225.7,433.0 227.1,433.3 228.6,434.2 230.1,434.3 231.6,434.2 232.9,434.1 234.1,433.1 235.3,432.2 236.4,432.0 237.7,431.2 239.2,429.6 240.3,428.5 241.5,427.9 242.8,426.9 244.1,426.0 245.3,424.9 246.6,424.3 247.8,423.1 249.0,422.3 250.1,421.5 251.2,420.9 252.9,420.1 254.5,418.6 256.1,417.8 257.7,417.0 258.9,416.1 260.0,415.2 261.2,414.1 262.4,413.1 263.6,412.5 264.8,411.5 266.0,409.5 267.2,409.5 268.4,408.2 269.6,407.1 270.8,406.6 272.0,405.2 273.1,403.4 274.3,403.0 275.4,402.1 276.6,401.3 277.7,400.6 278.8,399.9 279.9,398.8 280.9,397.6 282.0,396.9 283.0,395.9 284.0,395.0 285.1,394.0 286.1,393.1 287.2,392.7 288.2,391.5 289.6,390.7 290.8,389.3 292.0,388.2" stroke="#9ee030"/>
<path d="M84.0,320.0 84.0,321.7 84.0,324.1 84.0,325.5 84.0,328.6 84.0,331.2 84.0,333.9 84.0,336.4 84.0,340.5 84.1,344.1 84.1,346.5 84.1,350.3 84.1,353.8 84.1,357.6 84.1,361.4 84.1,364.4 84.1,367.2 84.1,370.9 84.2,373.7 84.2,376.8 84.2,380.1 84.2,382.2 84.2,385.5 84.3,388.7 84.3,391.8 84.3,394.2 84.3,397.0 84.4,399.0 84.4,401.9 84.4,404.9 84.5,407.4 84.5,409.9 84.5,412.4 84.6,414.9 84.6,417.3 84.6,419.6 84.7,422.2 84.7,423.5 84.7,425.8 84.8,428.2 84.8,430.4 84.8,431.8 84.9,433.7 84.9,434.8 84.9,436.5 85.0,438.0 85.0,439.0 85.1,441.4 85.1,443.2 85.2,445.6 85.3,447.9 85.4,449.8 85.5,452.6 85.6,454.1 85.6,456.5 85.7,457.8 85.8,459.8 85.9,461.9 86.0,464.3 86.1,465.4 86.2,466.9 86.3,468.9 86.4,470.5 86.5,471.4 86.7,472.5 86.9,474.4 87.1,475.8 87.3,477.7 87.6,478.9 87.9,480.9 88.2,482.3 88.8,483.0 89.8,482.3 90.5,481.1 91.0,480.0 91.6,478.3 92.0,476.8 92.4,475.5 92.8,473.7 93.1,472.2 93.4,470.9 93.7,470.0 94.0,468.1 94.4,466.0 94.7,465.6 95.0,463.9 95.3,462.6 95.7,461.6 96.0,459.9 96.4,458.7 96.7,457.4 97.1,455.8 97.4,454.3 98.0,452.4 98.5,450.9 99.0,449.0 99.6,448.4 100.1,447.8 100.8,445.4 101.5,444.4 102.3,443.0 103.3,441.9 104.5,440.7 105.6,441.0 107.0,440.9 108.4,441.2 109.7,441.6 110.7,443.0 111.7,443.6 112.6,445.0 113.4,446.3 114.2,447.5 115.0,448.9 115.8,450.2 116.4,451.3 117.0,453.4 117.6,454.2 118.2,455.8 118.8,456.3 119.4,458.1 120.0,459.8 120.6,462.0 121.2,463.1 121.8,465.4 122.2,466.5 122.6,467.8 123.0,469.3 123.4,470.7 123.8,472.3 124.2,472.7 124.6,474.7 125.0,476.5 125.4,477.6 125.8,479.4 126.2,481.0 126.6,481.8 127.0,483.7 127.4,484.8 127.8,486.3 128.2,488.0 128.6,489.3 129.0,490.8 129.4,492.6 129.8,493.5 130.2,494.3 130.8,496.0 131.3,497.9 131.9,499.3 132.5,501.9 133.1,503.2 133.8,504.4 134.5,505.5 135.3,507.2 136.1,507.7 137.0,509.7 137.9,510.5 138.9,511.1 140.0,511.9 141.2,512.5 142.4,514.1 143.7,514.2 145.1,514.7 146.5,515.6 148.0,515.4 149.5,515.3 151.1,514.7 152.8,513.9 154.6,514.1 156.3,512.8 158.0,511.4 159.5,512.1 160.9,510.7 162.3,509.2 163.5,509.4 164.7,508.1 165.8,506.9 166.9,506.3 168.0,505.3 169.3,504.2 170.6,503.2 171.7,502.7 172.9,501.6 174.0,499.8 174.8,498.9 175.7,497.1 176.7,496.1 177.7,493.9 178.7,492.4 179.7,490.2 180.7,488.6 181.7,486.6 182.6,484.7 183.5,482.9 184.3,482.1 185.0,480.4 185.7,479.3 186.4,478.3 187.0,477.1 187.6,475.6 188.6,473.9 189.2,473.2 189.9,471.7 190.5,471.0 191.2,469.3 191.9,468.0 192.6,466.8 193.3,465.9 193.9,464.5 194.6,463.1 195.3,462.0 196.0,460.5 196.7,459.5 197.3,458.4 198.0,457.8 198.7,456.6 199.4,455.3 200.0,454.2 201.0,451.8 202.0,450.8 203.0,449.8 204.0,448.2 205.0,446.6 206.0,445.1 207.0,444.7 208.0,443.7 209.1,442.9 210.1,441.4 211.1,440.8 212.1,439.7 213.1,439.0 214.1,437.7 215.2,437.1 216.2,436.1 217.2,434.9 218.4,433.7 219.6,433.2 220.7,432.2 222.1,431.6 223.4,431.1 225.0,430.2 226.2,429.8 227.5,428.8 228.8,429.0 230.2,427.8 231.7,427.8 233.1,426.3 234.5,426.1 235.9,425.8 237.2,424.9 238.4,424.6 239.7,423.4 240.9,423.2 242.1,421.9 243.2,421.9 244.4,421.4 246.1,420.5 247.9,420.0 249.0,419.1 250.1,419.0 251.8,417.5 253.5,416.7 255.2,415.5 256.8,414.6 257.9,413.9 258.9,412.7 260.0,412.1 261.0,410.8 262.0,409.2 263.0,408.9 264.0,407.9 265.0,406.2 266.0,404.8 266.9,404.0 267.9,402.3 269.0,401.3 270.0,400.0 271.1,399.3 272.4,397.4 273.7,396.6 275.0,395.8 276.3,394.6 277.5,393.3 278.7,393.2 279.7,392.7 281.0,390.7 281.3,390.9" stroke="#e4d832"/>
<path d="M83.2,320.0 83.2,321.5 83.2,323.7 83.2,325.4 83.2,328.6 83.2,330.7 83.2,333.7 83.2,336.9 83.2,340.1 83.3,343.7 83.3,346.7 83.3,350.9 83.3,353.9 83.3,357.7 83.3,361.1 83.3,364.2 83.3,367.8 83.3,371.1 83.4,374.3 83.4,376.9 83.4,379.5 83.4,383.0 83.4,386.0 83.5,389.1 83.5,391.2 83.5,393.2 83.5,396.6 83.6,399.5 83.6,401.7 83.6,404.2 83.7,407.3 83.7,409.6 83.7,411.8 83.8,415.3 83.8,417.2 83.8,419.5 83.9,421.7 83.9,423.6 83.9,426.2 84.0,428.5 84.0,429.7 84.0,431.1 84.1,433.7 84.1,435.6 84.1,436.2 84.2,438.5 84.2,439.9 84.3,440.6 84.3,443.2 84.4,445.9 84.5,448.2 84.6,450.7 84.7,452.0 84.8,454.1 84.8,456.6 84.9,457.9 85.0,459.6 85.1,460.7 85.2,462.7 85.3,464.6 85.4,465.6 85.5,467.2 85.7,469.1 85.9,470.1 86.1,472.2 86.3,473.8 86.5,475.0 86.8,476.4 87.2,477.7 87.6,479.3 88.3,480.5 89.4,480.0 90.1,478.2 90.6,478.1 91.2,475.7 91.6,475.1 92.1,473.1 92.5,471.5 92.8,469.7 93.1,468.0 93.4,466.7 93.7,465.1 94.0,463.8 94.3,462.6 94.8,460.9 95.3,458.8 95.9,457.8 96.4,455.2 96.9,454.3 97.5,452.4 98.0,451.3 98.5,449.9 99.2,448.5 100.0,447.8 100.8,445.4 101.7,444.7 102.6,443.9 103.8,443.2 105.1,442.5 106.4,443.0 107.6,444.5 108.9,445.2 110.0,446.2 111.0,447.2 111.8,448.4 112.6,450.0 113.4,451.2 114.2,452.1 114.8,453.9 115.4,454.3 116.0,456.5 116.6,458.0 117.2,459.2 117.8,461.0 118.4,461.7 119.0,463.5 119.6,465.1 120.2,467.1 120.8,468.6 121.4,470.1 122.0,471.7 122.6,474.0 123.0,475.4 123.4,476.1 123.8,477.2 124.2,478.9 124.6,480.3 125.0,481.6 125.4,483.2 125.8,484.3 126.2,485.8 126.6,486.4 127.0,488.4 127.4,489.3 127.8,490.9 128.2,491.5 128.8,493.4 129.4,495.5 130.0,496.7 130.6,498.7 131.1,499.5 131.7,501.6 132.5,503.3 133.3,504.4 134.3,505.3 135.3,506.4 136.5,507.5 137.7,508.7 139.0,509.0 140.3,510.3 141.7,511.1 143.1,511.4 144.6,511.8 146.2,511.8 147.8,511.9 149.2,511.7 150.7,511.7 152.2,511.2 153.7,510.2 155.1,508.9 156.6,508.4 157.9,507.4 159.2,506.4 160.5,505.7 161.7,504.4 162.9,502.6 164.0,501.3 165.0,500.4 165.8,498.6 166.5,497.0 167.0,495.6 167.5,494.4 168.2,493.2 169.2,491.1 170.0,489.6 171.0,488.9 172.3,486.8 173.6,486.4 175.1,484.3 176.6,483.1 178.2,481.4 179.7,479.8 181.1,477.9 182.4,476.5 183.5,475.4 184.4,474.0 185.3,473.1 186.3,471.8 187.3,470.2 188.1,469.0 189.0,467.3 189.9,465.6 190.9,464.8 191.9,462.6 192.9,461.7 193.6,460.3 194.3,459.2 195.3,457.5 196.3,455.7 197.3,454.1 198.3,452.9 199.4,451.4 200.4,450.2 201.4,449.2 202.4,447.2 203.4,446.0 204.4,444.7 205.4,443.7 206.4,443.1 207.4,442.2 208.4,441.3 209.4,439.9 210.4,439.0 211.4,437.9 212.3,436.9 213.6,436.0 214.6,435.1 215.6,433.7 216.6,433.5 217.8,433.0 218.9,431.4 220.1,430.9 221.3,430.4 222.6,429.0 223.9,428.6 225.4,427.9 227.0,427.1 228.7,425.7 229.9,425.3 231.1,424.5 232.3,423.8 233.6,423.6 234.8,423.4 236.0,423.2 237.2,422.2 238.4,421.6 239.6,421.0 240.8,420.6 242.0,419.7 243.1,418.7 244.3,418.6 245.5,417.7 246.7,417.3 247.9,416.3 249.0,416.0 250.7,415.3 252.5,414.3 254.2,413.6 255.9,412.7 257.5,412.3 259.0,409.8 260.5,409.2 261.8,407.6 262.6,406.7 263.4,405.0 264.2,404.1 265.0,403.0 265.7,401.7 266.5,401.1 267.2,400.1 268.4,399.1 269.3,396.9 270.2,397.0 271.1,395.2 272.0,394.1 272.9,393.5 274.1,392.0 275.1,390.8 275.9,390.2" stroke="#e8b44c"/>
<path d="M82.5,320.0 82.5,321.6 82.5,323.4 82.5,325.3 82.5,328.5 82.5,331.2 82.5,333.9 82.5,336.4 82.5,340.0 82.6,344.0 82.6,346.5 82.6,350.3 82.6,354.2 82.6,357.1 82.6,360.4 82.6,364.4 82.6,367.4 82.6,371.4 82.7,373.7 82.7,377.1 82.7,379.9 82.7,382.9 82.7,385.2 82.8,388.0 82.8,391.2 82.8,393.9 82.8,396.4 82.9,399.0 82.9,401.6 82.9,404.2 83.0,406.4 83.0,409.7 83.0,412.4 83.1,414.2 83.1,417.1 83.1,419.0 83.2,422.2 83.2,423.3 83.2,426.5 83.3,428.0 83.3,429.5 83.3,431.7 83.4,433.7 83.4,435.2 83.4,436.5 83.5,437.5 83.5,439.5 83.6,440.9 83.6,442.0 83.7,445.1 83.8,447.7 83.8,449.1 83.9,451.9 84.0,453.4 84.1,454.7 84.2,456.8 84.3,458.7 84.4,460.2 84.5,461.0 84.6,463.4 84.7,465.0 84.9,466.5 85.1,468.3 85.3,469.2 85.5,470.7 85.8,472.1 86.1,473.7 86.4,475.2 86.9,476.3 87.4,477.6 88.4,479.0 89.4,476.8 90.1,476.2 90.7,475.2 91.4,473.8 91.8,472.5 92.2,469.6 92.5,468.9 92.8,467.4 93.1,465.8 93.4,465.0 93.7,463.2 94.0,461.5 94.5,460.2 95.0,458.5 95.5,457.0 96.0,456.3 96.8,454.3 97.5,452.7 98.2,451.7 98.9,450.8 99.8,449.0 100.7,448.1 101.6,447.1 102.7,446.3 104.0,446.2 105.3,446.5 106.6,446.9 107.8,447.2 108.9,448.2 109.9,449.7 110.9,451.0 111.7,451.6 112.5,453.6 113.3,454.8 114.1,456.4 114.7,457.3 115.3,458.6 115.9,459.8 116.5,461.5 117.1,463.5 117.7,464.8 118.3,466.1 118.9,467.5 119.5,469.7 120.1,470.5 120.7,472.3 121.3,474.3 121.9,476.5 122.4,477.2 122.8,479.1 123.3,479.9 123.8,481.8 124.2,482.8 124.7,484.6 125.1,485.4 125.6,487.0 126.2,488.8 126.8,490.1 127.4,491.9 128.0,494.1 128.6,494.6 129.2,496.3 129.8,498.1 130.4,499.3 131.0,499.4 131.7,501.7 132.5,502.7 133.3,504.2 134.2,504.9 135.4,506.2 136.7,506.7 138.0,507.5 139.3,508.4 140.5,508.3 141.9,508.9 143.3,509.4 144.5,509.0 145.8,508.1 147.2,507.3 148.4,505.6 149.6,505.4 151.0,503.6 152.5,502.0 153.6,501.3 154.8,501.0 156.0,499.7 157.3,499.2 158.7,498.4 160.0,497.1 161.4,496.7 162.8,494.9 164.3,493.4 165.7,492.0 167.2,490.2 168.8,489.2 170.4,487.4 172.0,485.0 173.6,483.7 175.3,481.3 176.9,479.4 178.6,478.1 180.2,475.8 181.8,474.6 182.7,473.3 183.5,472.8 184.4,470.7 185.3,470.0 186.2,469.0 187.1,467.6 188.0,466.6 188.9,465.3 189.8,464.0 190.6,463.1 191.5,462.0 192.3,461.3 193.1,460.0 194.6,457.8 196.0,455.9 197.1,454.2 198.0,453.2 198.8,451.9 199.6,450.3 200.2,448.8 200.9,448.0 201.4,446.6 202.3,445.3 203.5,444.5 204.6,443.2 205.4,442.8 206.4,441.5 207.2,440.0 208.0,438.5 208.8,437.0 209.7,435.5 210.6,434.0 211.6,433.3 212.6,431.9 213.6,430.7 214.6,430.0 215.7,429.1 216.9,427.9 218.1,428.2 219.3,427.0 220.5,427.6 221.8,426.7 223.0,425.0 224.2,425.4 226.0,425.1 227.8,424.4 229.5,422.7 231.3,422.4 233.1,422.2 234.8,420.7 236.6,420.0 238.4,419.4 239.6,419.1 240.8,418.3 242.0,417.6 243.1,417.0 244.3,416.5 245.5,416.6 246.7,415.2 247.9,414.8 249.0,414.5 250.7,413.2 252.4,412.6 254.0,411.7 255.7,410.5 256.8,409.6 257.8,408.9 258.9,408.2 260.0,406.9 261.1,406.3 262.3,404.8 263.5,402.7 264.7,401.9 265.9,400.3 267.1,398.0 268.1,397.1 269.1,394.9 269.9,393.8 270.5,393.6" stroke="#f08a3c"/>
<path d="M81.8,320.0 81.8,322.0 81.8,323.2 81.8,325.9 81.8,328.0 81.8,330.7 81.8,333.7 81.8,337.5 81.8,340.2 81.9,343.5 81.9,347.1 81.9,350.4 81.9,353.9 81.9,357.1 81.9,360.9 81.9,363.6 81.9,367.5 81.9,371.1 82.0,374.8 82.0,377.2 82.0,380.0 82.0,383.1 82.0,385.5 82.1,388.3 82.1,391.0 82.1,393.9 82.1,396.2 82.2,399.3 82.2,401.9 82.2,404.2 82.3,407.0 82.3,409.7 82.3,411.9 82.4,414.5 82.4,417.2 82.4,419.2 82.5,421.0 82.5,424.3 82.5,425.9 82.6,428.0 82.6,430.3 82.6,432.4 82.7,434.1 82.7,435.0 82.7,436.7 82.8,438.1 82.8,439.5 82.9,441.1 82.9,442.4 83.0,445.1 83.1,447.3 83.1,449.8 83.2,451.7 83.3,452.5 83.4,455.3 83.5,456.9 83.6,457.9 83.7,460.0 83.8,461.2 83.9,463.5 84.1,464.2 84.3,466.3 84.5,467.9 84.7,468.7 84.9,470.5 85.2,471.8 85.6,473.2 86.0,475.3 86.5,476.6 87.2,477.0 88.3,477.7 89.3,477.3 90.0,475.8 90.6,473.9 91.2,473.0 91.6,470.7 92.1,470.0 92.5,467.8 92.8,466.5 93.1,465.1 93.4,463.9 93.7,462.3 94.2,460.7 94.7,459.5 95.2,457.8 95.7,456.5 96.2,454.9 96.9,453.9 97.6,453.1 98.4,452.2 99.3,450.4 100.3,449.6 101.5,449.6 102.7,448.3 104.0,448.2 105.3,447.5 106.4,448.9 107.6,449.8 108.7,450.7 109.7,451.7 110.5,452.9 111.3,454.1 112.1,455.9 112.9,457.1 113.7,458.2 114.3,459.7 114.9,461.3 115.5,462.2 116.1,463.2 116.7,465.6 117.3,466.7 117.9,468.0 118.5,469.9 119.1,471.8 119.7,472.8 120.3,474.3 120.9,475.7 121.5,478.5 122.2,479.8 122.6,480.7 123.1,482.3 123.5,483.7 124.0,484.7 124.4,486.0 125.1,487.4 125.8,489.7 126.4,491.7 127.0,492.4 127.6,494.1 128.2,495.7 128.8,496.5 129.4,497.9 130.2,499.8 130.9,500.7 131.8,501.4 132.8,503.1 134.0,504.4 135.1,505.0 136.4,505.7 137.8,506.1 139.3,506.9 141.0,505.6 142.4,506.0 143.9,505.4 145.6,504.3 146.7,503.8 147.8,502.9 149.0,502.5 150.2,502.0 151.4,500.1 152.6,500.1 153.8,497.7 155.0,497.0 156.3,496.1 157.5,494.7 158.8,492.8 160.1,491.9 161.5,489.9 162.9,488.6 164.3,487.2 165.7,485.2 167.2,483.2 168.8,482.8 170.4,480.5 172.0,478.8 173.6,476.8 175.3,475.2 176.9,473.8 178.6,471.6 180.2,469.5 181.8,467.5 183.5,465.7 184.4,464.8 185.3,463.8 186.2,463.4 187.1,461.5 188.0,460.4 188.9,460.1 189.8,458.7 190.6,457.2 191.5,456.5 193.1,455.0 194.6,452.6 196.0,451.1 197.1,449.8 198.0,448.6 198.9,446.7 199.5,445.6 200.0,444.4 200.6,443.2 201.4,441.7 202.2,440.2 203.2,439.0 204.3,438.1 205.4,437.0 206.6,435.2 207.9,434.1 209.2,432.9 210.5,431.7 211.8,431.2 213.0,430.0 214.2,428.7 215.4,427.4 216.5,426.8 217.7,426.5 218.9,425.2 220.1,424.7 221.3,424.5 222.4,423.5 223.6,423.2 224.8,422.7 226.0,422.0 227.8,421.5 229.5,420.7 231.3,420.4 233.1,419.6 234.8,419.1 236.6,418.1 238.4,417.2 239.6,417.1 240.8,416.5 242.1,415.2 243.3,414.5 244.5,414.2 245.7,413.8 246.8,412.9 248.5,412.7 250.0,411.1 251.5,410.5 253.0,409.0 254.3,407.6 255.6,407.3 256.9,406.2 258.0,404.6 259.1,403.7 260.1,402.3 261.1,400.6 262.0,398.7 262.8,397.6 263.5,396.8 263.7,396.3" stroke="#fa3030"/>
<path d="M81.2,320.0 81.2,321.9 81.2,323.8 81.2,325.8 81.2,328.6 81.2,330.8 81.2,333.9 81.2,337.0 81.2,339.7 81.3,343.4 81.3,347.4 81.3,350.4 81.3,353.8 81.3,357.8 81.3,360.9 81.3,364.8 81.3,367.4 81.3,371.4 81.4,374.3 81.4,376.9 81.4,379.5 81.4,383.2 81.4,385.5 81.5,388.5 81.5,391.1 81.5,393.5 81.5,396.6 81.6,399.3 81.6,402.3 81.6,404.8 81.7,407.2 81.7,409.8 81.7,412.6 81.8,414.9 81.8,416.7 81.8,419.8 81.9,421.7 81.9,423.6 81.9,426.2 82.0,428.5 82.0,430.2 82.0,431.4 82.1,433.8 82.1,435.1 82.2,437.0 82.2,438.6 82.2,439.9 82.3,440.9 82.3,442.5 82.4,444.3 82.5,446.8 82.6,449.2 82.7,451.3 82.8,452.9 82.9,455.2 83.0,456.6 83.1,458.3 83.2,460.2 83.3,460.8 83.4,463.4 83.6,464.3 83.8,466.7 84.0,468.6 84.2,470.2 84.4,471.7 84.6,472.6 84.8,474.1 85.1,475.8 85.4,477.6 85.8,479.3 86.1,480.6 86.5,481.7 87.0,482.7 87.5,484.9 88.3,486.0 89.5,485.4 90.2,484.4 90.7,482.7 91.3,481.4 91.8,479.6 92.2,477.7 92.6,476.6 92.9,475.0 93.3,473.5 93.7,472.0 94.1,470.8 94.5,469.8 95.0,467.3 95.5,466.2 96.0,464.5 96.6,462.6 97.2,461.0 97.8,458.7 98.3,457.5 98.9,456.0 99.4,454.6 100.0,452.7 100.6,450.8 101.2,450.0 101.9,448.3 102.9,447.5 103.9,448.9 104.8,449.4 106.1,449.8 107.3,450.6 108.3,451.5 109.2,452.7 110.1,454.0 110.8,454.8 111.6,455.9 112.4,457.8 113.0,458.5 113.6,459.9 114.2,461.2 114.8,462.2 115.4,463.9 116.0,465.2 116.6,466.7 117.2,467.8 117.8,469.1 118.4,470.8 119.0,471.7 119.6,473.7 120.2,474.5 120.8,475.7 121.4,478.1 122.0,479.7 122.6,480.7 123.2,483.1 123.8,484.1 124.4,485.8 125.1,487.2 125.7,488.9 126.3,490.2 126.8,491.8 127.3,492.9 128.0,494.5 128.6,496.4 129.1,497.6 129.7,498.7 130.4,499.6 131.1,501.2 132.0,502.5 133.0,503.1 134.0,503.6 135.2,505.8 136.4,505.3 137.8,505.8 139.0,505.6 140.3,504.2 141.3,502.9 142.3,502.2 143.6,501.2 145.0,500.6 146.4,500.2 147.7,499.9 149.0,500.0 150.5,500.0 151.8,498.8 153.1,498.1 154.4,496.7 155.4,495.8 156.4,495.0 157.4,492.9 158.5,492.4 159.5,490.5 160.4,488.4 161.3,486.9 162.0,485.8 162.6,484.6 163.1,483.2 163.5,481.5 163.9,480.5 164.3,478.6 165.0,477.7 165.8,476.9 167.0,475.6 168.2,475.3 169.5,474.3 171.0,473.5 172.2,474.1 173.6,473.0 174.9,472.5 176.2,472.1 177.5,470.9 178.8,470.6 180.1,469.5 181.4,467.9 182.4,467.3 183.3,466.0 184.3,465.9 185.2,464.7 186.1,463.2 187.1,462.0 188.0,460.6 189.0,459.6 189.7,458.0 190.4,455.9 191.1,454.8 191.8,452.9 192.5,451.8 193.2,449.8 193.9,448.3 194.6,446.2 195.2,444.8 195.9,443.6 196.5,442.5 197.4,441.5 198.3,439.5 199.2,438.3 200.1,437.6 200.9,436.0 202.1,435.8 203.3,434.6 204.5,433.6 205.6,432.5 206.8,431.9 208.0,431.8 209.2,431.3 210.4,430.5 211.5,429.7 212.7,429.3 213.9,428.1 215.4,427.8 216.8,427.3 218.3,426.7 219.5,426.2 220.7,425.1 221.9,424.0 223.1,423.3 224.3,422.7 225.4,421.1 226.2,420.2 226.9,418.7 227.6,416.7 228.3,416.6 228.9,415.0 229.9,413.0 231.0,412.4 232.4,412.4 233.9,413.2 235.2,413.8 236.6,412.5 238.1,413.5 239.6,413.0 241.1,413.0 242.3,412.2 243.6,411.7 244.8,411.2 245.9,410.0 246.9,409.0 247.9,408.5 248.6,407.3 249.4,405.7 250.2,404.5 251.2,403.1 252.3,402.2 253.4,400.7 254.5,399.4 255.6,398.7 257.0,398.3 258.3,397.7 259.8,397.4 260.4,397.0" stroke="#ec1488"/>
</g>
<path d="M61.3,546.48h3.8M343.0,546.48h-3.8M61.3,510.40h3.8M343.0,510.40h-3.8M61.3,474.32h3.8M343.0,474.32h-3.8M61.3,438.24h3.8M343.0,438.24h-3.8M61.3,402.16h3.8M343.0,402.16h-3.8M61.3,366.08h3.8M343.0,366.08h-3.8M61.3,330.00h3.8M343.0,330.00h-3.8M66.80,555.0v-3.8M66.80,320.5v3.8M128.12,555.0v-3.8M128.12,320.5v3.8M189.45,555.0v-3.8M189.45,320.5v3.8M250.78,555.0v-3.8M250.78,320.5v3.8M312.10,555.0v-3.8M312.10,320.5v3.8" stroke="#222" stroke-width="1.0" fill="none"/>
<rect x="61.3" y="320.5" width="281.7" height="234.5" fill="none" stroke="#1a1a1a" stroke-width="1.45"/>
<clipPath id="clipd"><rect x="417.3" y="320.5" width="281.7" height="234.5"/></clipPath>
<g clip-path="url(#clipd)" fill="none" stroke-width="1.95" stroke-linejoin="round" stroke-linecap="round">
<path d="M438.5,317.5 438.5,319.7 438.5,320.9 438.5,323.5 438.5,325.8 438.5,328.4 438.6,331.1 438.6,334.3 438.6,337.6 438.6,341.0 438.6,344.5 438.6,347.7 438.6,351.4 438.7,354.7 438.7,358.9 438.7,361.7 438.7,365.4 438.7,368.6 438.8,371.3 438.8,374.4 438.8,377.6 438.8,380.2 438.9,383.5 438.9,385.5 438.9,388.4 438.9,392.0 439.0,394.5 439.0,396.8 439.1,399.8 439.1,402.3 439.1,405.2 439.2,407.9 439.2,409.7 439.2,412.8 439.3,415.2 439.3,416.9 439.4,419.5 439.4,421.4 439.4,423.8 439.5,425.2 439.5,427.5 439.5,428.9 439.6,430.4 439.6,432.5 439.7,434.6 439.7,436.9 439.8,438.4 439.9,439.8 439.9,441.9 440.0,442.8 440.1,444.7 440.1,446.5 440.2,448.2 440.2,450.0 440.3,452.7 440.4,454.4 440.4,456.4 440.5,458.5 440.5,460.2 440.6,462.5 440.7,463.9 440.8,466.6 440.8,468.5 440.9,470.7 441.0,472.9 441.1,475.0 441.2,477.0 441.3,478.9 441.4,481.2 441.5,483.5 441.6,485.1 441.7,487.2 441.8,488.6 441.9,489.5 442.0,491.4 442.1,492.5 442.3,494.0 442.4,495.4 442.6,497.2 442.7,498.9 442.9,499.9 443.1,501.9 443.4,502.9 443.7,503.9 444.2,505.5 445.2,505.6 446.0,503.9 446.5,503.4 447.1,501.4 447.6,500.0 448.1,498.2 448.5,497.3 448.9,495.2 449.2,494.3 449.6,492.2 449.9,490.5 450.2,490.3 450.6,487.5 450.8,486.3 451.0,484.7 451.3,482.6 451.6,480.8 451.9,477.6 452.1,475.6 452.2,474.3 452.4,472.7 452.6,471.5 452.8,469.7 452.9,468.4 453.1,466.3 453.3,465.4 453.4,463.5 453.6,461.7 453.8,460.6 453.9,458.6 454.1,458.1 454.2,456.4 454.4,454.0 454.6,452.0 454.8,450.1 455.1,447.9 455.2,445.9 455.4,444.0 455.6,442.8 455.7,441.0 455.9,439.2 456.1,438.0 456.2,436.0 456.4,435.8 456.5,433.9 456.7,432.3 456.9,429.7 457.1,428.2 457.3,426.6 457.6,424.4 457.8,423.9 458.1,421.5 458.3,419.4 458.6,417.1 458.9,416.3 459.2,414.3 459.6,412.9 459.9,411.2 460.3,409.6 460.8,408.5 461.4,407.3 462.2,406.0 463.3,405.3 464.0,406.7 464.5,408.0 465.0,409.3 465.3,410.6 465.7,412.3 466.0,413.5 466.4,415.4 467.1,416.6 468.5,416.5 469.8,416.9 470.9,417.9 471.5,418.6 472.0,420.4 472.4,421.6 472.7,422.8 473.1,424.7 473.4,426.4 473.7,427.5 473.9,429.3 474.1,430.4 474.4,432.2 474.6,433.6 474.9,435.0 475.2,435.8 475.6,437.7 476.0,439.0 476.5,439.6 477.3,440.9 477.9,440.1 478.2,438.9 478.5,437.2 478.7,435.1 479.1,434.8 479.4,433.0 479.8,430.8 480.1,429.3 480.8,429.0 481.3,429.9 481.6,431.9 481.8,433.2 482.1,435.0 482.2,437.0 482.4,439.0 482.5,440.5 482.7,442.3 482.8,444.7 482.9,446.2 483.1,448.6 483.2,450.9 483.4,453.8 483.5,456.5 483.7,458.3 483.9,461.2 484.1,463.3 484.4,466.1 484.5,467.0 484.6,468.4 484.7,469.7 484.9,471.4 485.0,472.9 485.1,473.8 485.3,475.0 485.4,476.3 485.7,479.3 485.9,481.5 486.2,484.0 486.4,486.2 486.7,488.3 486.9,490.7 487.1,493.2 487.3,495.0 487.6,496.7 487.8,498.9 488.1,501.3 488.3,502.8 488.6,504.4 489.0,505.5 489.3,507.4 489.8,509.3 490.4,510.8 491.0,511.7 491.6,513.3 492.4,514.7 493.2,515.5 494.1,516.9 495.1,518.7 496.1,519.6 497.2,521.8 498.3,522.8 499.4,522.9 500.7,524.0 502.0,524.9 503.3,525.1 504.6,525.9 506.0,525.9 507.5,526.0 508.9,526.7 510.4,526.0 512.0,526.1 513.3,524.9 514.8,525.0 516.5,523.9 517.7,523.5 519.0,522.9 520.2,522.5 521.5,521.8 522.8,520.2 524.0,520.1 525.1,518.4 526.7,518.2 528.1,517.1 529.3,516.1 530.5,514.2 531.6,512.8 532.7,512.6 533.9,510.5 535.1,509.7 536.4,508.4 537.7,507.4 539.0,506.2 540.3,504.9 541.2,504.4 542.1,503.1 543.0,501.1 544.0,499.8 545.0,498.5 546.0,497.1 547.1,495.1 548.2,494.1 549.2,491.5 550.3,490.4 551.3,487.8 552.2,486.4 553.1,484.8 553.9,482.9 554.7,481.2 555.4,480.1 556.1,478.6 556.8,477.0 557.5,475.8 558.1,473.8 558.7,472.5 559.3,470.3 559.9,469.5 560.5,468.4 561.0,466.5 561.6,465.4 562.1,464.2 562.6,462.9 563.1,461.1 563.6,459.6 564.0,459.0 564.5,457.0 564.9,456.1 565.5,454.4 566.1,452.8 566.6,450.9 567.1,450.3 567.6,448.8 567.9,446.6 568.2,445.3 568.4,443.4 568.7,442.0 569.0,439.9 569.3,438.4 569.5,436.2 569.8,433.7 570.0,431.5 570.3,430.4 570.5,427.3 570.7,425.7 570.9,423.8 571.1,422.2 571.3,420.0 571.4,417.4 571.6,415.7 571.8,413.6 571.9,411.6 572.1,408.8 572.2,407.6 572.4,405.9 572.5,402.4 572.7,400.9 572.9,398.2 573.0,396.2 573.2,393.2 573.4,390.9 573.5,388.1 573.7,386.2 573.9,383.9 574.0,381.8 574.2,379.0 574.4,377.2 574.5,374.9 574.7,372.3 574.8,369.8 575.0,367.0 575.2,365.6 575.3,364.1 575.6,361.9 576.2,362.1 576.6,364.1 576.8,366.0 577.0,367.7 577.3,370.2 577.5,371.8 577.8,374.7 578.0,376.2 578.2,378.4 578.5,380.6 578.7,383.1 578.9,385.3 579.2,387.7 579.4,391.0 579.6,392.8 579.8,395.2 580.1,398.0 580.3,400.3 580.6,402.4 580.9,404.7 581.1,406.6 581.4,408.8 581.7,410.1 582.0,412.4 582.3,414.7 582.6,417.6 582.9,418.7 583.2,420.3 583.5,422.6 583.9,423.9 584.2,425.3 584.5,426.2 584.8,428.8 585.2,429.3 585.7,431.0 586.2,432.3 586.8,434.3 587.4,436.4 588.1,438.4 588.7,439.5 589.4,441.2 590.1,442.4 591.0,443.3 592.4,443.5 593.1,442.3 593.6,440.9 594.3,439.6 595.0,438.4 595.9,436.3 596.5,434.7 597.1,432.8 597.7,431.6 598.4,430.2 599.1,427.8 599.9,426.2 600.7,424.4 601.6,423.1 602.6,420.7 603.7,419.3 604.8,417.6 606.0,415.5 607.3,413.5 608.6,411.7 610.0,409.4 611.3,408.0 612.7,405.7 614.0,405.1 615.3,403.3 616.6,402.8 617.8,400.6 619.1,400.2 620.3,399.2 621.6,398.2 622.9,397.4 624.1,396.7 625.4,396.6 626.6,395.4 627.9,394.1 629.2,393.6 630.5,392.3 631.8,391.3 633.1,391.0 634.4,389.8 635.7,389.3 637.0,388.8 638.2,387.8 639.4,386.4 640.6,385.7 641.7,384.3 642.8,383.5 643.9,382.8 644.9,381.7 645.9,380.7 646.9,380.0 647.9,378.3 648.8,377.9 649.8,376.9 650.7,375.4 651.6,374.7 652.5,373.6 653.3,372.4 654.6,371.5 655.8,369.5 657.1,368.2 657.9,367.4 658.8,366.2 659.8,365.3 660.9,364.2 662.0,363.3 663.2,361.5 664.4,359.8 665.6,358.8 666.8,358.0 667.8,357.4 669.1,355.1 669.7,355.2" stroke="#2a35f0"/>
<path d="M438.8,317.5 438.8,318.9 438.8,320.7 438.8,323.0 438.8,325.6 438.8,328.1 438.9,331.9 438.9,334.4 438.9,337.3 438.9,341.2 438.9,344.1 438.9,347.8 438.9,351.6 439.0,354.7 439.0,358.3 439.0,361.9 439.0,365.2 439.0,368.3 439.1,372.0 439.1,374.8 439.1,377.8 439.1,380.3 439.2,383.5 439.2,386.2 439.2,388.8 439.2,391.5 439.3,394.8 439.3,397.4 439.4,399.3 439.4,402.1 439.4,405.5 439.5,407.4 439.5,410.1 439.5,412.4 439.6,415.0 439.6,416.8 439.7,419.5 439.7,422.0 439.7,423.7 439.8,425.4 439.8,427.6 439.8,429.3 439.9,431.2 439.9,432.0 440.0,434.6 440.0,436.6 440.1,438.6 440.2,439.9 440.2,441.6 440.3,443.0 440.4,444.7 440.5,447.1 440.5,448.7 440.6,450.8 440.7,452.6 440.7,454.6 440.8,456.6 440.9,458.3 441.0,460.3 441.0,462.9 441.1,464.6 441.2,466.6 441.4,468.5 441.5,470.1 441.6,472.3 441.7,474.1 441.9,476.1 442.0,477.5 442.2,480.1 442.3,481.5 442.5,483.2 442.7,484.9 442.9,486.2 443.1,487.7 443.4,488.7 443.7,491.1 444.0,492.0 444.2,493.7 444.7,495.2 445.1,496.5 445.7,497.6 446.7,496.6 447.2,495.8 447.7,493.7 448.2,492.5 448.5,491.2 448.9,489.4 449.3,487.8 449.6,486.3 449.9,485.1 450.2,483.0 450.4,481.3 450.7,479.4 451.0,477.8 451.3,476.3 451.6,473.7 451.9,472.0 452.2,469.8 452.5,468.0 452.8,466.1 453.1,463.9 453.4,462.0 453.7,459.3 454.1,456.6 454.3,454.4 454.7,451.3 454.9,449.3 455.2,446.7 455.5,444.3 455.9,442.1 456.1,440.4 456.4,438.3 456.8,437.2 457.1,435.7 457.3,434.2 457.8,432.3 458.2,430.9 458.7,429.1 459.2,427.8 459.8,426.7 460.4,425.7 461.2,423.9 462.4,422.6 463.7,424.2 464.5,424.9 465.6,426.0 466.8,426.6 468.0,427.3 469.4,427.8 470.7,427.6 471.6,428.6 472.2,430.6 472.8,432.3 473.4,433.1 474.0,434.5 474.6,436.2 475.1,438.0 475.5,438.5 476.0,440.0 476.5,442.2 477.4,442.3 478.1,441.5 478.6,440.6 479.0,438.0 479.7,437.1 480.3,438.1 480.7,440.1 481.2,441.5 481.5,442.9 481.8,444.3 482.1,446.1 482.3,447.3 482.5,449.4 482.7,450.0 482.9,452.4 483.0,454.4 483.2,456.1 483.4,459.0 483.6,461.0 483.8,463.4 484.1,464.7 484.3,467.3 484.6,469.8 484.8,472.0 485.1,475.4 485.3,476.1 485.4,477.7 485.6,479.0 485.7,480.4 485.9,481.2 486.1,483.3 486.2,483.8 486.5,486.6 486.8,489.6 487.1,491.2 487.4,493.5 487.7,495.6 488.0,498.0 488.3,499.1 488.6,500.6 488.9,503.3 489.2,504.7 489.5,506.6 489.8,507.4 490.1,508.5 490.7,510.4 491.2,512.1 491.7,513.5 492.5,515.3 493.4,516.4 494.3,517.6 495.1,518.0 495.9,519.2 496.9,520.9 497.8,521.8 498.7,522.7 500.0,523.5 501.2,524.6 502.6,524.7 504.1,526.0 505.7,525.3 507.1,525.6 508.5,525.7 510.0,525.4 511.6,526.0 512.9,526.0 514.3,525.5 515.9,525.0 517.7,523.5 519.0,523.3 520.2,522.7 521.5,522.3 522.8,521.2 524.0,520.4 525.1,519.9 526.7,518.9 528.1,518.2 529.3,516.2 530.5,515.4 531.6,514.0 532.7,512.9 533.9,511.3 535.1,510.1 536.4,509.0 537.7,507.9 539.0,507.2 540.3,505.7 541.2,504.1 542.1,503.5 543.0,502.3 544.0,501.4 545.0,499.2 546.0,497.6 547.1,496.1 548.2,494.1 549.2,492.9 550.3,490.7 551.3,488.9 552.2,487.2 553.1,485.9 553.9,483.6 554.7,481.8 555.4,480.9 556.1,479.2 556.8,477.8 557.5,476.2 558.1,474.0 558.7,472.7 559.3,471.3 559.9,470.0 560.5,468.8 561.0,467.7 561.6,465.9 562.1,464.4 562.6,463.6 563.1,462.0 563.6,460.2 564.0,459.4 564.5,458.3 564.9,456.8 565.5,455.2 566.1,453.9 566.6,451.7 567.1,450.6 567.6,449.0 568.0,447.2 568.3,445.3 568.6,443.5 568.9,441.1 569.1,439.6 569.4,438.1 569.6,436.1 569.8,433.3 570.1,431.0 570.3,428.4 570.6,425.7 570.8,424.1 571.0,421.7 571.3,418.9 571.5,416.5 571.8,414.2 572.0,411.7 572.3,409.5 572.5,406.3 572.8,403.8 573.0,401.4 573.3,398.6 573.5,396.9 573.7,395.4 573.8,393.8 573.9,391.8 574.0,390.4 574.1,389.1 574.3,387.4 574.4,385.9 574.5,384.4 574.6,383.1 574.7,382.3 575.0,380.1 575.2,377.2 575.5,375.8 576.3,375.0 576.8,377.2 577.1,378.8 577.5,381.0 577.9,383.5 578.2,386.1 578.6,388.6 578.9,390.9 579.3,393.0 579.7,395.5 580.0,397.7 580.3,400.5 580.7,402.6 581.0,404.7 581.4,406.7 581.8,409.3 582.1,411.1 582.4,414.0 582.8,415.9 583.1,417.6 583.5,419.3 583.8,421.0 584.1,423.3 584.5,424.6 584.8,426.5 585.1,427.8 585.5,429.3 585.9,431.7 586.3,432.8 586.7,434.1 587.2,435.6 587.7,436.4 588.2,438.1 588.7,439.2 589.4,441.4 590.2,442.6 591.2,443.0 592.6,444.3 593.7,443.1 594.7,442.4 595.4,440.5 596.3,439.5 597.1,437.5 597.9,436.7 598.8,435.0 599.4,433.4 600.1,432.3 600.9,431.0 601.7,429.1 602.6,427.7 603.6,426.5 604.8,425.1 606.0,423.3 607.2,421.1 608.6,419.0 609.9,417.1 611.3,414.9 612.7,413.6 614.0,411.7 615.3,410.8 616.6,408.6 617.8,407.6 619.1,406.8 620.3,404.4 621.6,403.8 622.9,402.4 624.1,401.1 625.4,400.2 626.6,399.4 627.9,398.3 629.2,396.9 630.5,396.1 631.8,394.4 633.1,393.7 634.4,392.7 635.7,391.4 637.0,390.5 638.2,389.6 639.4,388.5 640.6,387.5 641.7,386.6 642.8,385.7 643.9,384.5 644.9,383.9 645.9,382.9 646.9,381.4 647.9,380.5 648.8,378.8 649.8,378.7 650.7,377.5 651.6,376.8 652.5,375.0 653.4,374.2 654.3,373.3 655.2,372.2 656.4,371.4 657.7,369.9 658.9,368.4 660.1,367.1 661.4,365.8 662.7,364.6 663.9,363.8 665.1,362.9 666.3,361.7 666.7,361.5" stroke="#22a8ff"/>
<path d="M439.0,317.5 439.0,319.5 439.0,321.2 439.0,323.5 439.0,325.7 439.0,328.5 439.1,331.7 439.1,334.7 439.1,337.5 439.1,341.3 439.1,344.1 439.1,347.8 439.1,350.9 439.2,354.9 439.2,358.8 439.2,362.0 439.2,365.3 439.2,368.1 439.3,371.3 439.3,374.6 439.3,377.5 439.3,379.6 439.4,382.8 439.4,385.6 439.4,388.5 439.4,391.5 439.5,393.9 439.5,397.0 439.6,399.5 439.6,402.4 439.6,404.4 439.7,407.1 439.7,410.2 439.7,412.8 439.8,414.7 439.8,417.4 439.9,419.4 439.9,421.3 439.9,423.9 440.0,426.1 440.0,427.2 440.0,429.2 440.1,430.4 440.1,432.0 440.2,435.1 440.2,436.8 440.3,438.4 440.4,440.2 440.4,441.3 440.5,443.3 440.6,444.8 440.7,446.5 440.7,448.0 440.8,450.5 440.9,452.8 441.0,454.3 441.0,456.2 441.1,459.0 441.2,460.7 441.3,462.8 441.4,464.4 441.5,465.9 441.7,468.8 441.8,470.2 441.9,472.6 442.1,474.0 442.3,476.4 442.4,477.9 442.6,480.5 442.8,481.4 443.0,483.0 443.2,485.0 443.5,487.0 443.9,488.9 444.3,489.9 444.9,490.7 445.6,492.7 446.7,492.8 447.5,492.0 448.0,490.6 448.6,488.8 449.0,487.8 449.4,485.8 449.9,483.4 450.2,483.1 450.5,481.8 450.8,479.8 451.1,478.5 451.4,476.4 451.7,475.2 452.1,472.9 452.4,471.2 452.7,468.9 453.0,466.9 453.2,464.9 453.5,462.9 453.9,460.8 454.2,458.4 454.5,456.2 454.8,453.6 455.1,452.3 455.4,449.8 455.7,447.6 456.0,445.8 456.3,443.3 456.6,441.1 456.9,439.9 457.2,437.8 457.4,436.6 457.7,435.4 458.1,433.2 458.5,432.8 458.9,431.0 459.4,429.2 459.9,428.2 460.6,427.3 461.3,426.3 462.4,425.0 463.5,425.0 464.4,426.4 465.4,427.6 466.6,428.2 467.8,429.6 469.2,429.5 470.5,430.0 471.4,431.0 472.1,431.9 472.7,433.1 473.2,434.7 473.9,436.6 474.5,437.5 475.1,438.9 475.7,440.4 476.3,442.1 477.0,442.8 478.1,442.9 478.6,442.1 479.6,441.3 480.4,442.6 480.9,443.9 481.2,444.9 481.5,446.6 481.8,448.1 482.0,448.6 482.2,450.3 482.5,452.9 482.7,454.3 483.0,456.2 483.3,457.8 483.5,459.8 483.8,462.7 484.1,464.8 484.4,467.4 484.5,468.6 484.6,470.7 484.8,471.4 484.9,472.7 485.1,473.9 485.2,475.6 485.4,477.3 485.5,478.8 485.7,480.3 485.8,481.2 486.0,482.8 486.2,483.9 486.3,485.9 486.5,487.1 486.8,490.1 487.1,491.8 487.5,494.1 487.8,496.3 488.1,498.2 488.5,499.7 488.8,502.1 489.2,503.7 489.6,505.2 489.9,507.3 490.3,508.7 490.7,510.0 491.2,511.7 491.8,513.1 492.3,514.9 493.1,515.8 494.1,516.9 494.8,518.4 495.6,519.1 496.5,521.0 497.5,521.5 498.7,522.2 500.0,523.1 501.2,524.0 502.5,524.8 503.8,524.6 505.1,525.5 506.5,525.1 507.8,525.0 509.2,525.7 510.6,526.1 512.1,525.7 513.8,525.6 515.3,525.1 517.1,524.1 518.3,523.6 519.6,522.8 520.9,521.5 522.1,521.8 523.4,520.7 524.6,519.7 525.7,519.3 527.2,518.3 528.5,517.1 529.7,515.6 530.8,514.8 531.9,513.9 533.1,511.1 534.3,510.9 535.6,509.6 536.8,508.5 538.1,507.0 539.4,506.0 540.7,504.4 541.6,503.6 542.5,502.4 543.5,501.6 544.5,499.6 545.5,498.3 546.6,496.3 547.6,494.8 548.7,493.1 549.8,490.8 550.8,489.7 551.8,487.7 552.7,485.9 553.5,484.9 554.3,483.0 555.1,481.2 555.8,479.4 556.5,478.4 557.1,476.5 557.8,474.8 558.4,473.7 559.0,471.8 559.6,470.7 560.2,469.3 560.8,467.5 561.3,465.8 561.8,464.8 562.4,463.5 562.9,461.8 563.3,460.9 563.8,459.1 564.3,458.3 564.9,456.7 565.5,454.4 566.1,453.5 566.8,452.6 567.4,450.7 567.9,449.3 568.3,447.8 568.6,445.7 568.9,444.9 569.1,443.2 569.4,441.9 569.6,440.0 569.8,438.2 570.1,437.0 570.3,434.9 570.6,433.1 570.8,431.1 571.0,428.9 571.3,427.3 571.5,425.4 571.8,423.8 572.0,421.1 572.3,419.0 572.5,416.7 572.8,415.1 573.0,413.2 573.3,411.9 573.5,409.9 573.8,407.7 574.0,405.8 574.2,404.1 574.5,402.0 574.7,400.6 574.9,399.2 575.3,397.6 576.3,397.0 576.9,399.4 577.6,400.1 578.0,401.2 578.4,403.4 578.9,405.0 579.3,406.3 579.7,408.4 580.1,409.5 580.4,411.3 580.8,412.9 581.1,414.2 581.5,415.8 581.8,417.5 582.2,419.5 582.5,421.2 582.8,422.4 583.2,424.4 583.6,425.0 583.9,427.0 584.3,428.0 584.7,429.6 585.3,431.1 585.9,433.2 586.5,433.9 587.1,435.6 587.7,437.6 588.3,438.6 588.8,439.5 589.6,441.3 590.4,442.0 591.6,442.6 593.0,442.9 594.2,442.2 595.2,441.1 596.3,439.7 597.1,438.5 597.9,436.7 598.8,435.8 599.4,434.6 600.1,432.9 600.9,431.4 601.7,430.9 602.6,429.0 603.6,427.0 604.8,426.0 606.0,424.2 607.2,422.3 608.6,420.2 609.9,417.8 611.3,416.3 612.7,414.5 614.0,413.1 615.3,411.0 616.6,409.7 617.8,407.8 619.1,406.8 620.3,404.9 621.6,403.9 622.9,401.6 624.1,400.5 625.4,400.4 626.6,399.1 627.9,397.9 629.2,396.2 630.5,395.7 631.8,394.8 633.1,393.1 634.4,392.4 635.7,391.6 637.0,390.3 638.2,389.9 639.4,389.2 640.6,388.3 641.7,387.0 642.8,386.6 643.9,386.0 644.9,384.5 646.4,383.8 647.9,382.1 649.3,381.0 650.7,380.1 652.1,378.7 653.6,378.1 655.0,376.2 656.4,375.1 657.6,374.3 658.8,373.5 659.0,373.0" stroke="#00c4cc"/>
<path d="M439.3,317.5 439.3,319.3 439.3,321.2 439.3,323.5 439.3,325.4 439.3,328.7 439.3,331.6 439.3,333.7 439.3,337.3 439.3,340.7 439.4,344.6 439.4,347.8 439.4,351.2 439.4,354.8 439.4,358.6 439.4,361.8 439.4,364.9 439.4,368.7 439.5,371.0 439.5,374.3 439.5,376.9 439.5,380.2 439.6,382.9 439.6,385.6 439.6,388.2 439.7,391.3 439.7,393.9 439.7,397.4 439.8,400.2 439.8,402.0 439.9,404.4 439.9,407.5 440.0,410.7 440.0,412.4 440.0,415.2 440.1,417.6 440.1,419.5 440.2,421.0 440.2,423.9 440.3,425.7 440.3,427.3 440.3,429.1 440.4,430.9 440.4,432.3 440.5,434.2 440.5,436.0 440.6,439.0 440.7,440.3 440.7,442.2 440.8,443.2 440.9,444.9 441.0,446.8 441.0,448.5 441.1,451.1 441.2,452.2 441.3,454.4 441.3,456.6 441.4,459.1 441.5,460.2 441.6,462.8 441.7,464.2 441.8,466.7 442.0,468.6 442.1,470.1 442.3,471.9 442.5,473.8 442.6,475.5 442.8,477.1 443.0,478.8 443.2,480.1 443.5,481.2 443.8,483.4 444.2,484.8 444.7,486.4 445.4,487.9 446.5,489.2 447.7,488.1 448.3,486.9 448.9,485.3 449.4,483.6 449.9,482.2 450.3,481.6 450.8,479.9 451.2,477.8 451.5,475.9 451.8,474.1 452.1,473.5 452.5,471.3 452.8,469.7 453.1,468.8 453.4,466.8 453.7,465.0 453.9,462.6 454.2,460.9 454.5,459.2 454.9,456.7 455.1,455.4 455.5,453.6 455.8,452.4 456.1,449.6 456.4,448.1 456.7,446.3 457.0,444.3 457.3,441.7 457.6,440.7 457.9,439.7 458.2,437.7 458.5,436.0 458.9,434.6 459.2,433.5 459.7,431.7 460.2,430.8 460.8,429.7 461.5,428.4 462.5,427.6 463.8,427.7 464.8,428.6 466.0,429.4 467.2,430.0 468.4,430.8 469.6,431.7 470.6,432.0 471.5,433.6 472.3,435.1 472.9,436.5 473.5,438.0 474.1,439.0 474.7,440.2 475.5,442.2 476.1,443.0 476.7,444.4 477.4,445.9 478.2,447.1 478.9,447.8 479.8,449.1 480.5,449.6 481.1,451.8 481.6,453.5 481.9,454.6 482.2,456.8 482.5,458.5 482.8,460.0 483.1,461.8 483.4,463.7 483.7,466.1 484.0,467.4 484.3,469.8 484.6,471.7 484.9,473.8 485.2,476.5 485.5,479.5 485.8,481.6 486.0,482.8 486.2,485.4 486.5,488.5 486.9,490.5 487.1,492.4 487.4,493.8 487.7,496.5 488.0,498.2 488.3,500.0 488.6,502.3 488.9,503.5 489.2,504.6 489.5,506.6 489.8,507.4 490.1,509.3 490.7,510.5 491.2,511.6 491.7,512.8 492.5,514.6 493.4,516.0 494.3,517.1 495.4,517.7 496.5,519.5 497.7,520.3 499.0,521.0 500.3,522.1 501.6,522.4 503.0,523.3 504.5,523.4 505.9,523.3 507.3,523.1 508.6,523.5 510.2,524.0 511.5,523.7 513.0,523.9 514.3,522.2 515.9,522.5 517.6,522.2 518.9,521.5 520.2,520.4 521.5,519.6 522.8,519.0 524.0,517.9 525.1,517.8 526.7,516.3 528.1,514.8 529.3,514.8 530.5,513.2 531.6,512.5 532.7,510.9 533.9,510.3 535.1,509.2 536.4,507.6 537.7,506.6 539.0,504.9 540.3,503.9 541.6,502.8 542.5,500.8 543.5,500.9 544.5,499.5 545.5,497.1 546.6,495.7 547.6,493.9 548.7,492.3 549.8,490.2 550.8,488.6 551.8,486.7 552.7,484.8 553.5,483.4 554.3,483.0 555.1,480.1 555.8,479.0 556.5,478.1 557.1,476.2 557.8,474.1 558.4,473.1 559.0,471.7 559.6,470.1 560.2,468.0 560.8,467.1 561.3,465.9 561.9,464.1 562.4,462.6 562.9,461.8 563.3,460.2 563.8,458.3 564.3,457.3 564.7,456.5 565.1,454.7 565.7,452.9 566.2,451.1 566.7,449.8 567.1,448.0 567.6,446.2 568.0,445.1 568.3,443.3 568.7,441.6 569.0,440.2 569.3,438.0 569.6,436.5 569.9,434.5 570.2,432.6 570.5,430.2 570.8,429.4 571.1,427.7 571.5,425.6 571.8,424.9 572.0,423.8 572.3,422.8 572.8,420.4 573.2,418.6 573.7,417.3 574.6,416.4 575.9,417.5 576.9,418.3 577.7,419.9 578.4,421.0 579.3,422.4 580.2,424.4 580.8,425.0 581.5,426.3 582.1,426.7 582.9,429.0 583.7,429.8 584.4,431.3 585.2,432.4 586.2,434.1 587.3,435.3 588.4,436.6 589.6,436.7 591.0,438.1 592.4,438.6 593.9,439.6 595.2,439.8 596.7,440.4 597.7,438.6 598.5,437.3 599.3,436.2 599.9,434.6 600.6,433.2 601.3,432.1 602.1,430.7 603.1,428.7 604.2,427.6 605.3,425.5 606.6,424.1 607.9,422.2 609.3,420.3 610.6,418.1 612.0,416.4 613.3,414.1 614.7,412.9 615.9,411.2 617.2,409.6 618.5,408.8 619.7,407.1 621.0,406.1 622.2,404.0 623.5,403.4 624.7,402.0 626.0,402.0 627.3,400.4 628.5,399.6 629.8,398.5 631.1,396.6 632.5,395.8 633.8,395.3 635.1,394.2 636.4,393.2 637.7,392.3 638.9,391.8 640.0,390.7 641.1,388.9 642.2,387.9 643.2,387.6 644.2,387.1 645.1,386.0 646.0,384.6 647.4,383.6 648.7,382.1 650.0,381.1 651.4,379.6 652.8,378.2 654.1,378.4 655.4,376.6 656.6,376.2 657.8,375.3 658.0,375.0" stroke="#00c890"/>
<path d="M440.6,320.0 440.6,321.8 440.6,323.1 440.6,325.7 440.6,327.9 440.6,331.2 440.6,334.1 440.6,337.1 440.6,339.8 440.6,343.3 440.7,346.7 440.7,350.6 440.7,354.7 440.7,357.6 440.7,361.1 440.7,364.7 440.7,367.8 440.7,370.8 440.8,374.7 440.8,376.3 440.8,380.0 440.8,382.8 440.8,385.4 440.9,388.5 440.9,390.4 440.9,393.9 441.0,396.5 441.0,399.2 441.0,401.5 441.1,404.7 441.1,407.1 441.1,409.6 441.2,412.3 441.2,415.1 441.3,417.2 441.3,419.0 441.3,421.9 441.4,424.3 441.4,425.9 441.5,428.3 441.5,429.9 441.5,431.6 441.6,433.5 441.6,435.2 441.7,436.4 441.7,438.1 441.7,440.0 441.8,441.0 441.9,443.2 442.0,445.2 442.1,447.3 442.2,449.4 442.3,451.8 442.4,453.9 442.5,456.3 442.6,458.6 442.7,460.2 442.8,462.0 442.9,464.4 443.1,466.4 443.2,467.8 443.3,470.2 443.4,471.6 443.5,473.7 443.5,476.6 443.5,478.8 443.5,481.2 443.5,482.7 443.5,486.1 443.5,488.1 443.4,491.2 443.4,492.6 443.4,494.4 443.5,496.3 443.6,497.9 443.8,499.7 444.7,500.1 445.8,499.1 446.4,497.9 447.0,496.6 447.4,495.5 447.8,493.7 448.2,492.2 448.5,491.2 448.8,489.3 449.1,488.1 449.4,486.6 449.7,485.1 450.0,483.9 450.3,481.7 450.7,479.9 451.0,478.5 451.3,476.7 451.7,474.0 452.0,472.9 452.4,470.6 452.8,468.6 453.1,467.2 453.5,464.9 453.8,462.7 454.2,460.7 454.5,459.3 454.9,457.6 455.2,455.3 455.6,454.3 456.0,452.9 456.3,451.2 456.7,449.8 457.0,448.2 457.3,446.8 457.7,444.8 458.1,443.3 458.6,442.2 459.1,441.1 459.5,439.6 460.1,438.2 460.6,436.5 461.4,435.2 462.3,434.3 463.5,433.8 464.9,433.3 466.4,433.4 467.6,435.1 468.4,435.9 469.2,437.1 470.0,438.7 470.6,440.0 471.2,440.1 471.8,442.1 472.4,443.3 473.0,444.8 473.6,446.0 474.2,447.8 474.8,449.1 475.4,450.7 476.0,452.9 476.6,454.3 477.2,455.2 477.8,457.9 478.4,459.7 479.0,461.4 479.4,462.0 479.8,464.0 480.2,465.2 480.6,466.0 481.0,467.9 481.4,469.1 481.8,470.7 482.2,471.2 482.6,473.0 483.0,474.7 483.4,475.4 483.8,477.7 484.2,479.8 484.6,481.2 485.0,481.8 485.4,483.5 485.8,485.3 486.2,485.8 486.6,487.5 487.0,489.1 487.4,490.2 487.8,491.6 488.2,493.4 488.6,494.1 489.1,495.9 489.7,497.6 490.4,500.0 491.0,502.1 491.6,503.2 492.2,505.1 492.8,506.2 493.5,508.2 494.3,510.0 495.1,512.0 496.2,513.5 497.0,514.5 497.9,516.0 498.8,516.1 499.8,518.0 500.8,519.0 501.9,519.4 502.9,520.6 504.4,521.3 505.7,522.5 507.0,522.7 508.7,521.8 510.3,521.3 511.5,521.3 512.8,520.3 514.2,520.2 515.6,519.1 517.1,518.8 518.6,517.3 520.2,516.8 521.7,516.4 523.3,514.9 524.8,513.8 526.3,512.3 527.9,511.9 528.9,510.9 529.9,510.5 530.9,508.5 532.0,508.3 533.0,507.6 534.0,506.1 535.0,504.7 536.1,503.5 537.1,502.9 538.1,500.9 539.2,499.4 540.2,498.2 541.2,496.4 542.2,495.4 543.2,493.6 544.1,492.5 545.0,490.5 545.9,489.6 546.8,487.7 547.7,486.5 548.5,485.0 549.3,483.4 550.2,482.1 550.9,480.3 551.7,479.1 552.5,477.5 553.3,475.5 554.0,474.8 554.7,473.0 555.4,471.8 556.1,470.9 556.8,468.8 557.4,467.7 558.1,466.7 558.7,465.2 559.3,464.1 559.9,462.5 560.5,460.9 561.0,460.2 561.6,458.3 562.1,456.7 562.6,455.6 563.0,453.8 563.5,452.9 564.1,451.2 564.6,450.3 565.1,449.1 565.6,447.1 566.1,446.5 566.7,444.0 567.3,442.0 567.8,440.6 568.4,439.6 568.9,438.1 569.5,436.4 570.1,435.0 570.6,433.6 571.2,432.2 571.9,431.0 572.7,429.4 573.6,428.6 574.9,428.5 576.2,428.9 577.3,429.9 578.3,431.2 579.4,432.5 580.5,433.8 581.7,434.8 582.7,435.5 583.6,436.9 584.6,438.2 585.6,439.0 587.0,439.6 588.6,440.4 589.8,439.2 591.1,438.9 592.3,437.6 593.4,436.8 594.4,435.8 595.6,434.9 596.8,432.9 598.0,431.2 599.2,430.2 600.4,428.9 601.4,427.7 602.3,426.2 603.3,425.5 604.2,423.5 605.1,422.1 606.3,421.2 607.3,419.6 608.5,419.0 609.8,417.6 611.1,416.6 612.5,415.0 613.8,413.8 615.0,413.1 616.1,412.0 617.2,410.7 618.2,410.3 619.2,409.2 620.2,408.5 621.2,407.2 622.4,407.1 623.6,405.5 624.9,405.1 626.2,404.2 627.5,403.6 628.8,402.4 630.2,401.6 631.5,400.7 632.9,399.9 634.3,397.6 635.7,396.4 637.1,395.0 638.5,394.4 640.0,393.4 641.0,392.3 642.2,391.2 643.3,389.9 644.5,388.9 645.7,388.3 646.9,386.5 647.9,386.6 649.3,385.0 650.3,384.0" stroke="#22d822"/>
<path d="M440.3,320.0 440.3,322.1 440.3,324.0 440.3,325.8 440.3,328.7 440.3,330.7 440.3,333.8 440.3,337.3 440.3,340.4 440.3,343.4 440.4,346.8 440.4,350.6 440.4,353.7 440.4,357.1 440.4,361.0 440.4,364.0 440.4,367.1 440.4,371.2 440.5,374.3 440.5,377.2 440.5,380.1 440.5,382.8 440.5,385.5 440.6,388.1 440.6,390.5 440.6,394.3 440.7,397.0 440.7,399.3 440.7,401.7 440.8,404.9 440.8,407.0 440.8,409.0 440.9,411.8 440.9,414.6 441.0,417.4 441.0,419.6 441.0,421.9 441.1,423.5 441.1,425.9 441.2,427.7 441.2,429.8 441.2,431.6 441.3,433.4 441.3,434.5 441.4,436.7 441.4,438.8 441.4,440.3 441.5,440.4 441.6,443.3 441.7,445.5 441.8,447.5 441.9,449.8 442.0,451.8 442.1,454.1 442.2,456.0 442.3,458.3 442.4,460.9 442.5,462.2 442.6,464.2 442.7,466.5 442.9,468.1 443.0,469.8 443.1,471.9 443.2,474.1 443.2,476.2 443.3,478.0 443.3,480.4 443.3,483.3 443.3,485.6 443.3,487.2 443.3,489.9 443.4,492.0 443.4,493.7 443.5,495.5 443.6,497.0 443.8,498.3 444.7,499.3 445.8,498.4 446.4,497.3 447.0,495.3 447.4,494.6 447.8,492.5 448.2,490.8 448.5,490.1 448.8,487.7 449.1,487.5 449.4,485.8 449.7,484.7 450.0,482.5 450.3,480.4 450.7,479.5 451.0,477.3 451.3,475.7 451.7,473.6 452.0,471.3 452.4,468.9 452.8,467.1 453.1,465.0 453.5,463.7 453.8,462.0 454.2,460.8 454.5,458.1 454.9,456.7 455.2,456.1 455.6,455.2 456.1,452.4 456.7,451.2 457.2,449.4 457.7,447.6 458.1,446.6 458.6,444.5 459.0,443.1 459.5,441.8 460.1,440.7 460.6,438.8 461.4,438.0 462.4,437.2 463.7,435.9 464.8,435.8 466.3,435.5 467.4,436.4 468.4,437.8 469.2,439.1 470.0,440.2 470.8,441.4 471.4,443.3 472.0,444.2 472.6,445.9 473.2,446.3 473.8,448.2 474.4,449.7 475.0,451.3 475.6,453.2 476.2,454.4 476.8,456.0 477.4,458.1 478.0,459.2 478.6,461.3 479.2,463.1 479.6,464.3 480.0,465.0 480.4,466.6 480.8,468.6 481.2,469.7 481.6,470.6 482.0,472.8 482.4,473.7 482.8,474.7 483.2,476.5 483.6,477.7 484.0,479.2 484.4,480.8 484.8,482.1 485.2,483.4 485.6,484.9 486.0,486.1 486.4,487.2 486.8,488.6 487.2,490.6 487.6,491.5 488.0,492.6 488.6,494.6 489.1,496.0 489.7,498.3 490.4,500.8 491.0,501.6 491.6,503.3 492.3,505.1 492.9,507.6 493.6,508.6 494.3,510.2 495.2,512.2 496.1,513.2 497.3,515.2 498.5,516.5 499.9,517.3 501.3,518.6 502.7,519.6 504.0,519.4 505.4,520.2 506.7,519.8 508.1,519.8 509.5,519.5 510.9,518.5 512.3,517.9 513.7,517.8 515.2,517.3 516.7,516.6 518.2,515.1 519.7,514.1 521.2,513.6 522.8,512.4 524.3,511.1 525.8,511.3 527.4,509.6 528.4,508.3 529.4,507.4 530.4,506.6 531.5,505.3 532.5,504.3 533.5,503.7 534.5,502.1 535.5,501.0 536.6,499.7 537.6,498.6 538.6,497.2 539.7,495.2 540.7,494.1 541.7,493.0 542.7,491.7 543.6,489.8 544.6,488.2 545.5,486.5 546.4,484.7 547.2,483.3 548.1,482.0 548.9,480.7 549.7,478.8 550.6,477.7 551.3,476.2 552.1,474.3 552.9,473.3 553.6,472.1 554.4,470.3 555.1,469.7 555.8,468.2 556.5,466.6 557.1,465.7 557.8,464.1 558.4,462.7 559.0,461.8 559.6,459.9 560.1,458.7 560.6,457.9 561.1,456.1 561.5,456.0 562.2,454.3 562.8,451.3 563.5,450.1 564.3,448.4 565.0,446.7 565.8,445.1 566.5,443.5 567.3,442.6 568.2,440.7 569.0,439.5 569.9,437.5 570.9,437.5 571.8,435.8 572.8,435.4 573.8,433.6 575.1,432.7 576.3,432.3 577.5,431.6 578.9,431.7 580.2,431.6 581.8,430.8 583.2,431.4 584.8,431.2 586.4,431.1 588.2,431.1 589.5,431.1 591.0,430.5 592.6,429.9 594.2,429.1 595.8,428.9 597.4,427.5 598.8,427.4 600.2,426.4 601.6,425.4 602.9,424.6 604.2,423.1 605.3,421.9 606.4,421.1 606.3,421.6 606.3,420.5 607.5,419.9 608.7,418.5 610.0,417.4 611.6,416.7 613.3,414.9 615.0,413.6 616.8,411.4 618.6,410.2 620.3,409.3 622.0,406.7 623.7,406.6 625.4,405.1 627.1,403.3 628.9,402.3 630.7,400.9 632.5,398.8 634.2,397.7 635.8,396.8 637.3,395.2 638.7,394.6 640.0,393.3 641.2,392.8 642.3,391.9 643.4,390.6 644.9,389.6 646.1,388.6 647.2,388.3 648.0,387.0" stroke="#9ee030"/>
<path d="M439.6,320.0 439.6,321.5 439.6,323.7 439.6,325.8 439.6,328.3 439.6,330.8 439.6,333.8 439.6,336.9 439.6,339.6 439.6,342.9 439.7,346.2 439.7,350.6 439.7,353.7 439.7,357.2 439.7,361.2 439.7,364.0 439.7,367.3 439.7,371.1 439.8,374.3 439.8,377.0 439.8,380.2 439.8,382.5 439.8,385.7 439.9,387.8 439.9,390.8 439.9,394.1 440.0,396.4 440.0,398.6 440.0,401.5 440.1,404.8 440.1,407.3 440.1,409.7 440.2,412.2 440.2,415.0 440.3,417.1 440.3,419.1 440.3,421.5 440.4,423.6 440.4,425.4 440.5,428.8 440.5,430.6 440.5,431.8 440.6,433.8 440.6,434.9 440.7,436.1 440.7,438.2 440.7,439.5 440.8,440.8 440.9,443.4 441.0,446.0 441.1,447.6 441.2,449.7 441.3,451.4 441.4,453.8 441.5,456.3 441.6,458.0 441.7,460.4 441.8,461.6 441.9,464.8 442.0,465.6 442.1,467.7 442.2,470.5 442.3,471.8 442.5,473.7 442.5,475.9 442.6,477.8 442.7,480.4 442.8,482.5 442.8,484.9 442.9,487.3 443.0,489.4 443.1,491.2 443.1,493.4 443.2,495.1 443.4,496.6 443.7,497.3 444.5,498.1 445.6,497.5 446.2,496.5 446.8,495.1 447.2,493.9 447.6,492.6 448.0,491.0 448.3,489.7 448.6,488.0 448.9,486.7 449.2,485.4 449.5,483.6 449.8,482.1 450.1,480.4 450.5,479.1 450.8,477.0 451.1,475.0 451.5,472.5 451.8,471.1 452.2,468.7 452.6,467.0 452.9,464.7 453.3,463.0 453.6,461.0 454.0,459.8 454.3,458.7 454.9,456.1 455.4,455.2 455.9,453.7 456.5,452.2 457.0,450.7 457.5,449.9 457.9,448.0 458.4,446.3 458.8,445.1 459.3,443.4 459.7,443.0 460.3,440.6 461.1,440.2 462.0,438.8 463.2,438.3 464.3,437.8 465.5,437.2 466.8,437.1 468.0,438.4 468.8,439.1 469.6,440.5 470.4,442.3 471.2,443.5 471.8,444.3 472.4,445.7 473.0,447.1 473.6,448.4 474.2,449.5 474.8,451.1 475.4,452.9 476.0,454.0 476.6,456.3 477.2,457.3 477.8,459.5 478.4,461.2 479.0,462.8 479.6,464.3 480.0,466.1 480.4,467.5 480.8,468.3 481.2,469.6 481.6,471.6 482.0,472.6 482.4,473.6 482.8,475.5 483.2,476.2 483.6,478.8 484.0,479.4 484.4,481.1 484.8,482.5 485.2,483.8 485.6,486.0 486.0,486.9 486.4,487.9 486.8,489.0 487.2,491.0 487.6,492.3 488.0,493.4 488.6,494.9 489.1,496.5 489.7,498.8 490.4,500.6 491.0,502.5 491.6,503.2 492.3,505.5 492.9,507.3 493.6,509.4 494.4,510.6 495.2,511.9 496.1,513.3 497.1,514.8 498.2,515.4 499.4,516.4 500.6,516.8 501.8,516.9 503.2,517.3 504.5,518.0 506.0,517.7 507.5,516.7 509.0,516.2 510.6,515.5 512.2,515.1 513.7,514.4 515.2,513.0 516.7,512.2 518.2,511.1 519.8,510.5 521.3,509.5 522.8,508.4 523.8,506.9 524.8,506.0 525.8,505.7 526.9,503.9 527.9,502.8 528.9,502.4 529.9,501.1 530.9,500.5 532.0,499.4 533.0,498.3 534.0,497.0 535.0,495.4 536.1,493.9 537.1,493.3 538.1,492.0 539.2,490.3 540.2,488.6 541.2,487.6 542.2,485.6 543.2,484.2 544.1,482.9 545.0,481.7 545.9,479.9 546.8,478.3 547.7,477.2 548.5,476.1 549.3,474.6 550.2,473.2 550.9,471.5 551.7,470.6 552.5,468.9 553.3,467.7 554.0,466.4 554.8,465.1 555.5,463.8 556.2,462.1 556.9,460.7 557.5,459.9 558.2,457.6 558.8,457.3 559.5,455.5 560.2,454.0 560.7,452.9 561.1,451.4 561.6,449.8 562.1,449.1 562.7,446.5 563.4,445.5 564.2,444.0 564.8,442.7 565.4,441.2 566.1,440.9 566.7,439.2 567.4,437.8 568.0,436.2 569.0,435.1 570.0,433.3 570.9,432.8 571.9,431.0 572.9,429.2 573.9,429.0 575.0,428.2 576.4,426.9 577.9,426.8 579.5,426.1 581.1,425.9 582.6,426.3 584.2,426.4 585.7,426.1 587.2,426.2 588.8,427.1 590.3,426.8 591.9,427.2 593.4,426.9 594.9,425.9 596.1,425.3 597.3,423.9 598.4,423.5 599.5,422.8 600.9,422.4 602.2,421.7 603.3,421.1 604.6,419.5 606.0,419.1 607.2,418.3 608.5,417.2 609.9,415.3 611.4,415.1 612.9,413.7 614.6,412.3 616.2,411.0 617.9,410.0 619.5,408.4 621.2,407.0 622.8,406.5 624.5,405.5 626.3,404.1 628.2,402.4 630.0,401.1 631.8,400.2 633.6,399.0 635.2,397.6 636.7,397.0 638.1,395.9 639.3,394.5 640.7,393.5 641.9,392.8 643.2,391.4 644.3,390.8 645.0,390.0" stroke="#e4d832"/>
<path d="M439.1,320.0 439.1,321.7 439.1,323.5 439.1,326.2 439.1,327.7 439.1,331.2 439.1,334.8 439.1,337.0 439.1,340.5 439.1,343.2 439.2,346.7 439.2,350.3 439.2,353.9 439.2,357.2 439.2,361.0 439.2,364.7 439.2,367.6 439.2,371.4 439.3,374.5 439.3,377.8 439.3,380.6 439.3,383.1 439.3,385.5 439.4,387.5 439.4,391.3 439.4,394.2 439.5,396.8 439.5,400.2 439.5,401.5 439.6,404.3 439.6,406.9 439.6,409.5 439.7,412.6 439.7,414.7 439.8,417.4 439.8,420.1 439.8,422.0 439.9,423.7 439.9,425.8 440.0,427.4 440.0,429.8 440.0,431.4 440.1,433.5 440.1,434.8 440.2,436.6 440.2,438.6 440.2,439.3 440.3,441.2 440.4,443.5 440.5,445.4 440.6,447.3 440.7,449.7 440.8,451.6 440.9,453.8 441.0,456.3 441.1,458.0 441.2,460.2 441.3,462.0 441.4,464.6 441.5,467.1 441.6,468.1 441.7,470.4 441.8,471.9 441.9,474.0 442.1,476.5 442.2,478.7 442.3,480.6 442.4,482.9 442.5,485.1 442.6,487.2 442.7,489.0 442.8,491.5 442.9,492.1 443.0,494.1 443.2,496.4 443.5,497.4 444.3,498.2 445.4,497.2 446.0,496.3 446.6,494.0 447.0,493.5 447.4,492.5 447.8,490.6 448.1,488.7 448.4,487.5 448.7,486.2 449.0,484.8 449.3,483.3 449.6,480.6 449.9,479.5 450.3,478.6 450.6,476.1 450.9,474.0 451.3,472.6 451.6,470.1 452.0,468.3 452.4,465.5 452.7,463.9 453.1,462.4 453.4,460.6 453.8,459.0 454.3,457.7 454.8,455.9 455.4,455.1 456.1,453.2 456.8,451.5 457.3,450.0 457.7,448.8 458.2,447.8 458.6,446.1 459.0,444.6 459.5,443.9 460.1,441.8 461.0,440.8 462.3,440.0 463.5,438.7 464.6,438.0 465.8,437.8 467.0,438.1 467.9,439.0 468.7,440.3 469.6,441.7 470.4,442.9 471.2,444.2 471.8,445.1 472.4,446.4 473.0,447.9 473.6,449.6 474.2,450.6 474.8,451.9 475.4,453.7 476.0,455.5 476.6,456.7 477.2,458.5 477.8,460.0 478.4,461.1 479.0,462.9 479.6,465.4 480.0,466.4 480.4,467.6 480.8,468.9 481.2,470.7 481.6,471.3 482.0,473.5 482.4,474.1 482.8,475.7 483.2,477.2 483.6,478.5 484.0,479.5 484.4,481.0 484.8,482.6 485.2,483.7 485.6,485.1 486.0,487.0 486.4,488.1 486.8,489.4 487.2,491.2 487.6,491.7 488.2,493.7 488.8,495.7 489.3,497.2 489.9,499.7 490.6,500.7 491.2,502.9 491.9,503.9 492.6,506.9 493.3,507.8 494.0,509.1 494.7,511.6 495.5,512.9 496.3,513.7 497.4,514.5 498.5,515.9 499.7,515.7 501.2,516.4 502.5,516.0 504.0,515.8 505.8,515.0 507.0,514.9 508.2,513.9 509.5,513.3 510.8,512.9 512.0,512.1 513.1,511.3 514.8,510.9 516.3,509.3 517.9,508.6 519.3,507.3 520.8,505.4 521.8,504.8 522.8,504.4 523.8,503.0 524.8,502.1 525.8,500.9 526.9,499.9 527.9,499.6 528.9,498.4 529.9,497.9 530.9,495.9 532.0,495.4 533.0,494.2 534.0,493.1 535.0,492.0 536.1,490.3 537.1,488.7 538.1,488.3 539.2,486.4 540.2,484.5 541.2,483.3 542.2,482.4 543.2,479.9 544.1,479.0 545.0,477.5 545.9,476.2 546.8,474.8 547.7,473.4 548.5,472.4 549.3,470.0 550.2,469.3 550.9,467.6 551.7,466.0 552.5,465.1 553.3,463.9 554.0,462.3 554.8,460.9 555.5,459.4 556.2,458.4 556.9,456.9 557.5,455.3 558.2,453.7 558.8,452.8 559.6,451.3 560.2,449.8 560.9,448.3 561.5,447.1 562.2,445.7 562.8,444.0 563.5,443.0 564.3,441.1 565.2,440.0 565.8,438.3 566.4,436.8 567.1,436.4 568.0,434.7 569.0,432.6 570.0,432.2 570.9,430.3 571.9,428.5 572.9,427.8 573.9,426.9 575.0,425.6 576.1,424.6 577.6,424.0 579.1,423.7 580.7,423.7 582.2,423.0 583.8,423.3 585.3,423.4 586.9,423.5 588.4,423.2 589.9,423.5 591.5,422.8 593.0,422.5 594.6,421.6 596.1,420.9 597.3,420.4 598.4,419.7 599.9,418.8 601.2,418.3 602.6,418.0 603.7,417.5 605.0,415.5 606.6,414.6 607.8,413.9 609.2,413.2 610.6,411.9 612.1,411.0 613.7,410.5 615.3,409.0 616.9,407.8 618.6,406.6 620.3,405.1 622.0,404.2 623.8,402.1 625.7,400.9 627.8,399.0 628.8,398.7 629.9,398.1 630.9,397.3 632.0,395.8 634.0,394.7 635.8,393.5 637.5,391.9 638.9,390.9 640.0,390.0" stroke="#e8b44c"/>
<path d="M438.8,320.0 438.8,322.1 438.8,323.7 438.8,325.7 438.8,328.4 438.8,330.2 438.8,333.4 438.8,337.1 438.8,340.0 438.8,342.9 438.9,347.4 438.9,350.0 438.9,354.3 438.9,357.1 438.9,360.1 438.9,364.1 438.9,367.9 438.9,370.4 439.0,373.6 439.0,377.6 439.0,379.9 439.0,382.5 439.0,385.7 439.1,388.0 439.1,391.7 439.1,394.2 439.2,396.5 439.2,399.4 439.2,402.2 439.3,404.4 439.3,406.8 439.3,410.0 439.4,412.6 439.4,414.8 439.5,416.8 439.5,419.4 439.5,421.7 439.6,423.6 439.6,426.5 439.7,428.6 439.7,430.4 439.7,431.9 439.8,433.3 439.8,435.4 439.9,437.0 439.9,437.9 439.9,439.8 440.0,440.6 440.1,442.9 440.2,445.6 440.3,448.2 440.4,449.3 440.5,451.6 440.6,453.5 440.7,456.2 440.8,458.2 440.9,460.4 441.0,462.2 441.1,464.3 441.2,466.6 441.3,468.0 441.4,470.3 441.5,471.6 441.6,473.3 441.8,475.9 441.9,478.1 442.0,480.7 442.1,483.1 442.3,484.3 442.4,487.2 442.5,488.1 442.7,491.2 442.8,492.6 442.9,494.2 443.1,495.4 443.4,496.9 444.2,497.4 445.3,497.4 445.9,495.9 446.5,494.7 446.9,493.1 447.3,491.9 447.7,490.2 448.0,488.1 448.3,487.6 448.6,485.0 448.9,484.9 449.2,482.9 449.5,481.3 449.8,479.6 450.2,478.0 450.5,476.1 450.8,473.8 451.2,472.6 451.5,469.5 451.9,467.6 452.3,465.2 452.6,464.0 453.0,461.9 453.3,461.1 453.7,459.4 454.2,457.2 454.7,456.2 455.5,454.9 456.2,453.3 456.8,451.7 457.3,449.9 457.8,449.0 458.2,447.7 458.6,446.5 459.0,445.1 459.5,443.2 460.2,442.1 461.2,441.5 462.4,439.8 463.6,439.5 464.8,439.5 465.9,438.6 467.2,438.7 468.1,439.7 468.9,440.8 469.8,442.1 470.6,443.7 471.4,445.1 472.0,446.1 472.6,447.3 473.2,448.5 473.8,450.6 474.4,451.2 475.0,453.8 475.6,454.9 476.2,456.2 476.8,457.2 477.4,458.8 478.0,461.0 478.6,462.8 479.2,464.3 479.8,467.1 480.2,467.8 480.6,468.9 481.0,470.2 481.4,471.5 481.8,472.7 482.2,474.0 482.6,475.9 483.0,476.0 483.4,477.6 483.8,479.2 484.2,480.6 484.6,482.2 485.0,483.6 485.4,485.3 485.8,486.2 486.2,488.2 486.6,489.3 487.0,490.7 487.4,491.7 488.0,493.5 488.6,495.8 489.1,497.2 489.7,498.5 490.4,500.9 491.0,502.2 491.7,503.6 492.2,505.2 492.6,506.2 493.1,507.9 493.9,509.2 494.6,511.4 495.3,511.8 496.2,513.5 497.2,514.8 498.5,515.0 499.8,514.9 501.2,513.9 503.0,513.2 504.4,513.3 505.8,512.2 507.3,511.8 508.9,511.4 510.4,510.2 511.8,509.5 513.1,508.9 514.3,508.2 515.4,507.5 516.5,506.5 517.5,505.6 518.5,505.1 519.4,504.4 520.4,502.4 521.3,502.2 522.3,499.9 523.3,499.7 524.3,497.9 525.3,497.6 526.3,497.2 527.4,495.2 528.4,494.3 529.4,493.3 530.4,492.0 531.5,490.9 532.5,489.9 533.5,488.1 534.5,487.8 535.5,486.5 536.6,484.7 537.6,483.1 538.6,482.6 539.7,481.3 540.7,479.6 541.7,478.4 542.7,477.3 543.6,476.6 544.6,474.8 545.5,472.7 546.4,470.7 547.2,470.1 548.1,468.6 548.9,466.6 549.7,465.0 550.6,463.3 551.3,462.2 552.1,460.7 552.9,459.1 553.6,458.4 554.4,456.8 555.1,455.3 555.8,453.5 556.5,452.8 557.2,451.4 557.9,450.6 558.8,449.3 559.6,447.8 560.2,446.9 560.9,444.4 561.5,444.4 562.2,442.4 563.0,441.1 563.8,439.4 564.6,438.0 565.5,436.8 566.4,434.4 567.4,432.6 568.4,431.9 569.3,431.2 570.3,429.1 571.3,428.5 572.2,425.7 573.3,425.4 574.3,424.2 575.3,424.2 576.8,423.0 578.3,422.2 579.9,421.5 581.5,421.7 583.0,421.7 584.6,421.8 586.1,420.9 587.6,420.9 589.2,421.2 590.7,420.8 592.3,420.9 593.8,420.4 595.3,419.1 596.9,418.3 598.4,417.9 599.9,417.3 601.2,416.6 602.6,416.7 604.1,415.6 605.5,415.3 607.2,414.0 608.5,413.1 609.9,411.9 611.3,411.9 612.9,410.5 614.5,408.3 616.1,407.5 617.8,406.1 619.5,405.0 621.2,403.7 622.9,402.3 624.7,400.7 626.7,399.1 627.8,397.8 628.8,398.1 629.9,396.4 630.9,396.1 632.0,395.5 634.0,393.7 635.8,392.2 637.5,391.3 638.9,389.6 640.0,389.0" stroke="#f08a3c"/>
<path d="M438.4,320.0 438.4,322.3 438.4,323.8 438.4,326.2 438.4,328.9 438.4,331.1 438.4,333.5 438.4,336.7 438.4,340.4 438.4,343.3 438.5,347.0 438.5,350.1 438.5,354.1 438.5,356.5 438.5,361.0 438.5,364.6 438.5,367.5 438.5,371.3 438.6,374.3 438.6,377.4 438.6,380.2 438.6,382.5 438.6,385.3 438.7,387.9 438.7,391.1 438.7,394.0 438.8,396.1 438.8,398.7 438.8,401.8 438.9,404.2 438.9,407.0 438.9,409.8 439.0,411.8 439.0,415.0 439.1,416.8 439.1,419.5 439.1,422.0 439.2,423.9 439.2,425.9 439.3,428.5 439.3,429.7 439.3,431.8 439.4,432.6 439.4,435.4 439.5,436.8 439.5,438.1 439.5,439.5 439.6,440.9 439.7,443.2 439.8,445.4 439.9,447.2 440.0,449.6 440.1,451.9 440.2,453.7 440.2,455.9 440.3,458.0 440.4,460.8 440.6,462.5 440.7,464.3 440.8,466.1 440.9,468.2 441.0,470.7 441.1,472.3 441.2,474.1 441.4,475.7 441.5,477.7 441.7,479.5 441.8,482.4 442.0,485.0 442.2,487.1 442.3,488.7 442.5,490.5 442.7,492.8 442.8,494.0 443.0,495.2 443.3,497.3 444.1,498.2 445.2,497.1 445.8,495.8 446.4,493.7 446.8,492.9 447.2,490.7 447.6,490.1 447.9,488.6 448.2,487.1 448.5,485.8 448.8,484.2 449.1,482.4 449.4,481.2 449.7,479.7 450.1,477.3 450.4,475.6 450.7,474.2 451.1,471.8 451.4,469.1 451.8,467.6 452.2,465.2 452.5,464.1 452.9,461.7 453.2,460.5 453.6,458.9 454.1,457.0 454.6,456.6 455.4,454.9 456.1,453.2 456.7,452.5 457.2,451.0 457.7,449.6 458.1,448.3 458.5,447.1 458.9,445.2 459.4,444.7 460.1,443.0 461.1,441.3 462.2,440.8 463.4,440.3 464.7,439.3 465.8,438.9 467.2,438.6 468.1,439.9 468.9,440.4 469.8,442.3 470.6,443.9 471.4,445.4 472.0,446.6 472.6,448.1 473.2,449.1 473.8,450.6 474.4,452.6 475.0,453.3 475.6,455.5 476.2,456.8 476.8,457.6 477.4,459.6 478.0,461.0 478.6,462.5 479.2,465.2 479.8,466.0 480.2,467.9 480.6,468.7 481.0,470.1 481.4,471.6 481.8,472.7 482.2,474.1 482.6,475.0 483.0,476.7 483.4,478.1 483.8,479.2 484.2,480.2 484.6,482.3 485.0,483.5 485.4,485.6 485.8,486.6 486.2,487.7 486.6,489.9 487.0,490.1 487.4,492.4 488.0,493.9 488.6,495.3 489.1,496.7 489.7,499.1 490.4,500.9 491.0,502.0 491.7,504.8 492.2,505.1 492.7,506.8 493.2,507.6 494.0,509.9 494.7,511.2 495.4,512.6 496.3,513.7 497.2,513.2 498.6,512.2 500.0,511.6 501.3,510.7 502.7,510.5 504.3,510.0 505.9,509.4 507.6,507.9 509.3,507.6 510.9,506.4 512.4,506.1 513.7,504.8 514.9,503.6 516.0,503.9 517.1,502.5 518.1,501.6 519.0,500.1 520.0,499.8 520.9,498.2 521.8,496.6 522.8,495.9 523.8,494.6 524.8,494.0 525.8,493.1 526.9,491.6 527.9,490.9 528.9,489.3 529.9,488.5 530.9,487.8 532.0,486.5 533.0,484.9 534.0,484.1 535.0,482.8 536.1,482.2 537.1,480.7 538.1,479.6 539.2,478.6 540.2,477.1 541.2,476.1 542.2,474.7 543.2,473.2 544.1,471.9 545.0,470.3 545.9,469.6 546.8,468.2 547.7,466.4 548.5,465.1 549.3,463.6 550.2,462.6 550.9,460.9 551.7,459.5 552.5,458.2 553.3,457.4 554.0,455.9 554.8,454.0 555.5,453.0 556.2,451.5 556.9,450.4 557.5,449.2 558.5,447.5 559.3,446.4 560.0,444.9 560.7,443.0 561.4,441.7 562.0,440.0 562.8,438.3 563.5,437.2 564.3,436.3 565.2,435.2 566.1,432.7 567.1,431.4 568.0,430.6 569.0,429.4 570.0,427.6 570.9,426.5 571.9,425.6 572.9,424.9 573.9,424.2 575.0,422.9 576.4,422.0 577.9,421.8 579.5,421.2 581.1,420.9 582.6,420.7 584.2,420.3 585.7,420.2 587.2,419.2 588.8,418.9 590.3,418.8 591.9,417.9 593.4,417.7 594.9,417.0 596.5,416.6 598.0,415.3 599.5,414.8 600.9,414.0 602.2,413.5 603.7,412.6 605.0,411.8 606.6,410.4 607.8,409.9 609.2,409.0 610.7,408.4 612.3,408.0 613.9,406.4 615.6,405.6 617.2,404.0 618.9,403.3 620.5,401.9 622.0,400.9 623.5,400.4 625.1,398.4 626.7,397.5 628.4,396.6 630.0,395.1 631.5,394.6 632.9,393.5 634.1,392.3 635.2,391.2 636.0,391.0" stroke="#fa3030"/>
<path d="M438.0,320.0 438.0,321.6 438.0,323.3 438.0,325.3 438.0,327.7 438.0,330.9 438.0,333.9 438.0,336.7 438.0,340.3 438.0,343.4 438.1,347.4 438.1,350.2 438.1,353.6 438.1,357.5 438.1,360.7 438.1,364.8 438.1,367.7 438.1,370.3 438.2,374.4 438.2,377.5 438.2,380.2 438.2,382.6 438.2,385.6 438.3,388.6 438.3,390.9 438.3,393.6 438.4,395.9 438.4,399.1 438.4,401.7 438.5,404.9 438.5,407.7 438.5,409.3 438.6,412.3 438.6,414.6 438.7,416.6 438.7,419.1 438.7,422.0 438.8,423.7 438.8,425.7 438.9,428.2 438.9,429.5 438.9,432.1 439.0,433.2 439.0,434.8 439.1,436.8 439.1,438.1 439.1,439.6 439.2,440.6 439.3,443.5 439.4,445.5 439.5,448.1 439.6,450.2 439.7,451.7 439.8,453.3 439.8,456.4 439.9,457.6 440.0,460.5 440.1,462.6 440.2,463.9 440.3,466.6 440.4,467.8 440.6,470.0 440.7,471.8 440.8,474.1 441.0,476.1 441.1,477.8 441.3,480.1 441.5,483.3 441.7,484.3 441.9,486.9 442.1,488.6 442.3,490.7 442.5,492.3 442.7,493.7 443.0,495.6 443.2,496.7 444.0,497.7 445.1,497.6 445.7,495.8 446.3,494.1 446.7,493.3 447.1,491.0 447.5,489.6 447.8,488.4 448.1,486.8 448.4,485.5 448.7,484.1 449.0,483.0 449.3,481.3 449.6,479.2 450.0,477.9 450.3,475.9 450.6,473.9 451.0,471.6 451.3,470.1 451.7,466.9 452.1,465.7 452.4,464.2 452.8,462.0 453.1,460.8 453.5,458.7 454.0,457.4 454.7,455.8 455.6,455.0 456.5,453.5 457.1,451.6 457.6,449.7 458.0,448.7 458.4,447.6 458.8,446.1 459.3,444.4 460.0,443.6 461.0,442.2 462.1,441.0 463.4,440.6 464.7,440.4 465.9,439.6 467.2,440.4 468.1,441.1 468.9,442.8 469.8,443.8 470.6,445.4 471.4,446.6 472.0,447.3 472.6,449.0 473.2,450.1 473.8,451.4 474.4,453.5 475.0,454.2 475.6,455.0 476.2,457.5 476.8,458.7 477.4,460.1 478.0,462.0 478.6,463.6 479.2,465.8 479.6,467.2 480.0,468.5 480.4,469.3 480.8,470.8 481.2,473.0 481.6,473.6 482.0,475.7 482.4,476.8 482.8,478.3 483.2,479.4 483.6,480.4 484.0,481.9 484.4,484.3 485.0,485.7 485.6,486.9 486.2,489.0 486.8,490.5 487.4,491.5 488.0,493.7 488.6,495.1 489.2,496.8 489.8,498.1 490.4,498.9 491.0,500.5 491.8,501.6 492.6,503.3 493.4,504.6 494.4,505.2 495.4,506.8 496.5,507.0 497.9,507.5 499.3,508.4 500.6,508.4 502.0,507.9 503.3,508.0 504.7,507.4 505.9,506.8 507.3,506.6 508.7,505.8 510.1,505.0 511.4,504.5 512.7,504.4 514.0,502.9 515.4,502.3 516.7,501.2 517.9,500.2 519.2,499.5 520.4,496.8 521.2,496.3 522.0,495.2 522.9,493.5 523.7,492.7 524.6,492.3 525.5,490.2 526.5,489.8 527.5,488.6 528.5,487.5 529.6,486.0 530.6,485.5 531.7,484.1 532.8,483.0 533.8,482.2 534.7,481.5 536.0,480.3 537.2,478.8 538.4,478.3 539.8,477.8 541.0,476.4 542.1,475.6 543.3,474.9 544.4,474.0 545.2,472.9 546.0,471.8 546.7,470.3 547.4,469.8 548.1,467.7 548.8,466.6 549.7,464.1 550.2,462.9 550.8,461.9 551.4,460.4 552.1,458.6 552.8,457.4 553.5,455.0 554.2,452.6 555.0,450.7 555.7,449.2 556.4,447.1 557.1,445.2 557.7,444.4 558.3,443.0 558.9,441.1 559.6,440.3 560.4,437.6 561.2,436.6 561.9,434.9 562.6,434.1 563.4,433.1 564.1,431.7 565.1,430.9 566.0,429.2 567.1,428.3 568.3,426.7 569.4,427.0 570.5,425.3 571.7,424.2 572.9,423.9 574.1,422.9 575.3,421.9 576.9,421.8 578.4,421.3 579.9,420.7 581.5,420.4 583.0,419.9 584.6,419.1 586.1,418.8 587.6,417.6 589.2,417.9 590.7,417.2 592.3,416.5 593.8,415.9 595.3,415.5 596.9,414.4 598.4,414.0 599.6,413.9 600.7,413.0 601.9,412.6 603.1,411.5 604.3,410.4 605.4,410.1 606.6,409.6 607.8,408.5 608.9,407.9 610.1,406.8 611.2,405.9 612.4,405.4 613.5,405.1 614.7,403.6 615.8,402.8 617.0,401.7 618.1,402.1 619.3,400.6 620.5,399.7 621.6,399.4 622.8,398.8 624.0,397.4 625.2,397.4 626.4,395.8 627.6,394.9 628.7,394.2 630.0,394.0 631.3,391.9 632.5,391.3 633.6,390.5 634.7,390.0 635.0,389.6" stroke="#ec1488"/>
</g>
<path d="M417.3,546.48h3.8M699.0,546.48h-3.8M417.3,510.40h3.8M699.0,510.40h-3.8M417.3,474.32h3.8M699.0,474.32h-3.8M417.3,438.24h3.8M699.0,438.24h-3.8M417.3,402.16h3.8M699.0,402.16h-3.8M417.3,366.08h3.8M699.0,366.08h-3.8M417.3,330.00h3.8M699.0,330.00h-3.8M422.80,555.0v-3.8M422.80,320.5v3.8M484.12,555.0v-3.8M484.12,320.5v3.8M545.45,555.0v-3.8M545.45,320.5v3.8M606.78,555.0v-3.8M606.78,320.5v3.8M668.10,555.0v-3.8M668.10,320.5v3.8" stroke="#222" stroke-width="1.0" fill="none"/>
<rect x="417.3" y="320.5" width="281.7" height="234.5" fill="none" stroke="#1a1a1a" stroke-width="1.45"/>
<g>
<line x1="108.0" y1="258.4" x2="108.0" y2="23.5" stroke="#3a3a3a" stroke-width="1.5" stroke-dasharray="3.4 3.74"/>
<line x1="222.2" y1="258.4" x2="222.2" y2="23.5" stroke="#3a3a3a" stroke-width="1.5" stroke-dasharray="3.4 3.74"/>
<line x1="66" y1="59.8" x2="310" y2="59.8" stroke="#3c3c3c" stroke-width="1.2"/>
<path d="M62.7,59.8 L75.2,57.199999999999996 L72.8,59.8 L75.2,62.4 Z" fill="#111"/>
<path d="M313.5,59.8 L301.0,57.199999999999996 L303.4,59.8 L301.0,62.4 Z" fill="#111"/>
<line x1="111" y1="91.6" x2="219" y2="91.6" stroke="#3c3c3c" stroke-width="1.2"/>
<path d="M108.3,91.6 L120.8,89.0 L118.39999999999999,91.6 L120.8,94.19999999999999 Z" fill="#111"/>
<path d="M222.3,91.6 L209.8,89.0 L212.20000000000002,91.6 L209.8,94.19999999999999 Z" fill="#111"/>
<line x1="292" y1="116.40" x2="315" y2="116.40" stroke="#2a35f0" stroke-width="1.7"/>
<line x1="292" y1="128.68" x2="315" y2="128.68" stroke="#22a8ff" stroke-width="1.7"/>
<line x1="292" y1="140.96" x2="315" y2="140.96" stroke="#00c4cc" stroke-width="1.7"/>
<line x1="292" y1="153.24" x2="315" y2="153.24" stroke="#00c890" stroke-width="1.7"/>
<line x1="292" y1="165.52" x2="315" y2="165.52" stroke="#22d822" stroke-width="1.7"/>
<line x1="292" y1="177.80" x2="315" y2="177.80" stroke="#9ee030" stroke-width="1.7"/>
<line x1="292" y1="190.08" x2="315" y2="190.08" stroke="#e4d832" stroke-width="1.7"/>
<line x1="292" y1="202.36" x2="315" y2="202.36" stroke="#e8b44c" stroke-width="1.7"/>
<line x1="292" y1="214.64" x2="315" y2="214.64" stroke="#f08a3c" stroke-width="1.7"/>
<line x1="292" y1="226.92" x2="315" y2="226.92" stroke="#fa3030" stroke-width="1.7"/>
<line x1="292" y1="239.20" x2="315" y2="239.20" stroke="#ec1488" stroke-width="1.7"/>
</g>
</svg>
<svg id="tx" width="700" height="593" viewBox="0 0 700 593">
<text x="58.30" y="252.58" text-anchor="end" class="tl">0.2</text>
<text x="58.30" y="216.50" text-anchor="end" class="tl">0.4</text>
<text x="58.30" y="180.42" text-anchor="end" class="tl">0.6</text>
<text x="58.30" y="144.34" text-anchor="end" class="tl">0.8</text>
<text x="58.30" y="108.26" text-anchor="end" class="tl">1.0</text>
<text x="58.30" y="72.18" text-anchor="end" class="tl">1.2</text>
<text x="58.30" y="36.10" text-anchor="end" class="tl">1.4</text>
<text x="67.70" y="272.80" text-anchor="middle" class="tl">0.0</text>
<text x="129.03" y="272.80" text-anchor="middle" class="tl">0.5</text>
<text x="190.35" y="272.80" text-anchor="middle" class="tl">1.0</text>
<text x="251.68" y="272.80" text-anchor="middle" class="tl">1.5</text>
<text x="313.00" y="272.80" text-anchor="middle" class="tl">2.0</text>
<text x="203.85" y="292.60" text-anchor="middle" class="al" textLength="147" lengthAdjust="spacingAndGlyphs">Charge Capacity<tspan dx="6">/</tspan><tspan dx="3.5">Ah</tspan></text>
<text transform="translate(30.60,139.50) rotate(-90)" text-anchor="middle" class="yl">Differential Voltage d<tspan font-style="italic">U</tspan>/d<tspan font-style="italic">Q</tspan><tspan dx="1.5">·</tspan><tspan dx="3" font-style="italic">Q</tspan><tspan font-size="11" dy="3">0</tspan><tspan dy="-3" dx="4">/</tspan><tspan dx="4">V</tspan></text>
<text x="327.60" y="45.00" text-anchor="end" class="cl">Cell Number 1</text>
<text x="414.10" y="252.58" text-anchor="end" class="tl">0.2</text>
<text x="414.10" y="216.50" text-anchor="end" class="tl">0.4</text>
<text x="414.10" y="180.42" text-anchor="end" class="tl">0.6</text>
<text x="414.10" y="144.34" text-anchor="end" class="tl">0.8</text>
<text x="414.10" y="108.26" text-anchor="end" class="tl">1.0</text>
<text x="414.10" y="72.18" text-anchor="end" class="tl">1.2</text>
<text x="414.10" y="36.10" text-anchor="end" class="tl">1.4</text>
<text x="423.50" y="272.80" text-anchor="middle" class="tl">0.0</text>
<text x="484.82" y="272.80" text-anchor="middle" class="tl">0.5</text>
<text x="546.15" y="272.80" text-anchor="middle" class="tl">1.0</text>
<text x="607.48" y="272.80" text-anchor="middle" class="tl">1.5</text>
<text x="668.80" y="272.80" text-anchor="middle" class="tl">2.0</text>
<text x="559.65" y="292.60" text-anchor="middle" class="al" textLength="147" lengthAdjust="spacingAndGlyphs">Charge Capacity<tspan dx="6">/</tspan><tspan dx="3.5">Ah</tspan></text>
<text transform="translate(386.40,139.50) rotate(-90)" text-anchor="middle" class="yl">Differential Voltage d<tspan font-style="italic">U</tspan>/d<tspan font-style="italic">Q</tspan><tspan dx="1.5">·</tspan><tspan dx="3" font-style="italic">Q</tspan><tspan font-size="11" dy="3">0</tspan><tspan dy="-3" dx="4">/</tspan><tspan dx="4">V</tspan></text>
<text x="683.40" y="45.00" text-anchor="end" class="cl">Cell Number 3</text>
<text x="57.40" y="550.08" text-anchor="end" class="tl">0.2</text>
<text x="57.40" y="514.00" text-anchor="end" class="tl">0.4</text>
<text x="57.40" y="477.92" text-anchor="end" class="tl">0.6</text>
<text x="57.40" y="441.84" text-anchor="end" class="tl">0.8</text>
<text x="57.40" y="405.76" text-anchor="end" class="tl">1.0</text>
<text x="57.40" y="369.68" text-anchor="end" class="tl">1.2</text>
<text x="57.40" y="333.60" text-anchor="end" class="tl">1.4</text>
<text x="66.80" y="569.80" text-anchor="middle" class="tl">0.0</text>
<text x="128.12" y="569.80" text-anchor="middle" class="tl">0.5</text>
<text x="189.45" y="569.80" text-anchor="middle" class="tl">1.0</text>
<text x="250.78" y="569.80" text-anchor="middle" class="tl">1.5</text>
<text x="312.10" y="569.80" text-anchor="middle" class="tl">2.0</text>
<text x="202.95" y="589.60" text-anchor="middle" class="al" textLength="147" lengthAdjust="spacingAndGlyphs">Charge Capacity<tspan dx="6">/</tspan><tspan dx="3.5">Ah</tspan></text>
<text transform="translate(29.70,436.75) rotate(-90)" text-anchor="middle" class="yl">Differential Voltage d<tspan font-style="italic">U</tspan>/d<tspan font-style="italic">Q</tspan><tspan dx="1.5">·</tspan><tspan dx="3" font-style="italic">Q</tspan><tspan font-size="11" dy="3">0</tspan><tspan dy="-3" dx="4">/</tspan><tspan dx="4">V</tspan></text>
<text x="326.70" y="342.50" text-anchor="end" class="cl">Cell Number 5</text>
<text x="413.40" y="550.08" text-anchor="end" class="tl">0.2</text>
<text x="413.40" y="514.00" text-anchor="end" class="tl">0.4</text>
<text x="413.40" y="477.92" text-anchor="end" class="tl">0.6</text>
<text x="413.40" y="441.84" text-anchor="end" class="tl">0.8</text>
<text x="413.40" y="405.76" text-anchor="end" class="tl">1.0</text>
<text x="413.40" y="369.68" text-anchor="end" class="tl">1.2</text>
<text x="413.40" y="333.60" text-anchor="end" class="tl">1.4</text>
<text x="422.80" y="569.80" text-anchor="middle" class="tl">0.0</text>
<text x="484.12" y="569.80" text-anchor="middle" class="tl">0.5</text>
<text x="545.45" y="569.80" text-anchor="middle" class="tl">1.0</text>
<text x="606.78" y="569.80" text-anchor="middle" class="tl">1.5</text>
<text x="668.10" y="569.80" text-anchor="middle" class="tl">2.0</text>
<text x="558.95" y="589.60" text-anchor="middle" class="al" textLength="147" lengthAdjust="spacingAndGlyphs">Charge Capacity<tspan dx="6">/</tspan><tspan dx="3.5">Ah</tspan></text>
<text transform="translate(385.70,436.75) rotate(-90)" text-anchor="middle" class="yl">Differential Voltage d<tspan font-style="italic">U</tspan>/d<tspan font-style="italic">Q</tspan><tspan dx="1.5">·</tspan><tspan dx="3" font-style="italic">Q</tspan><tspan font-size="11" dy="3">0</tspan><tspan dy="-3" dx="4">/</tspan><tspan dx="4">V</tspan></text>
<text x="682.70" y="342.50" text-anchor="end" class="cl">Cell Number 7</text>
<text x="182.3" y="54.5" class="qq"><tspan font-style="italic">Q</tspan><tspan font-size="7.2px" dy="2.2" dx="-1">cell</tspan></text>
<text x="160.5" y="86.1" class="qq"><tspan font-style="italic">Q</tspan><tspan font-size="8.6px" dy="2.6" dx="-1.5">C</tspan></text>
<text x="112.9" y="109.7" class="nn">1</text>
<text x="227.9" y="81.5" class="nn">2</text>
<text x="292.4" y="106.8" class="lt">Cycle</text>
<text x="317.0" y="120.90" class="lg">0</text>
<text x="317.0" y="133.18" class="lg">100</text>
<text x="317.0" y="145.46" class="lg">200</text>
<text x="317.0" y="157.74" class="lg">300</text>
<text x="317.0" y="170.02" class="lg">400</text>
<text x="317.0" y="182.30" class="lg">500</text>
<text x="317.0" y="194.58" class="lg">600</text>
<text x="317.0" y="206.86" class="lg">700</text>
<text x="317.0" y="219.14" class="lg">800</text>
<text x="317.0" y="231.42" class="lg">900</text>
<text x="317.0" y="243.70" class="lg">1000</text>
<text x="0.1" y="12.6" class="pl">a<tspan dx="0.3">)</tspan></text>
<text x="355" y="12.6" class="pl">b<tspan dx="0">)</tspan></text>
<text x="-0.4" y="309.7" class="pl">c<tspan dx="0.3">)</tspan></text>
<text x="353.7" y="309.7" class="pl">d<tspan dx="1.1">)</tspan></text>
</svg></body></html>
